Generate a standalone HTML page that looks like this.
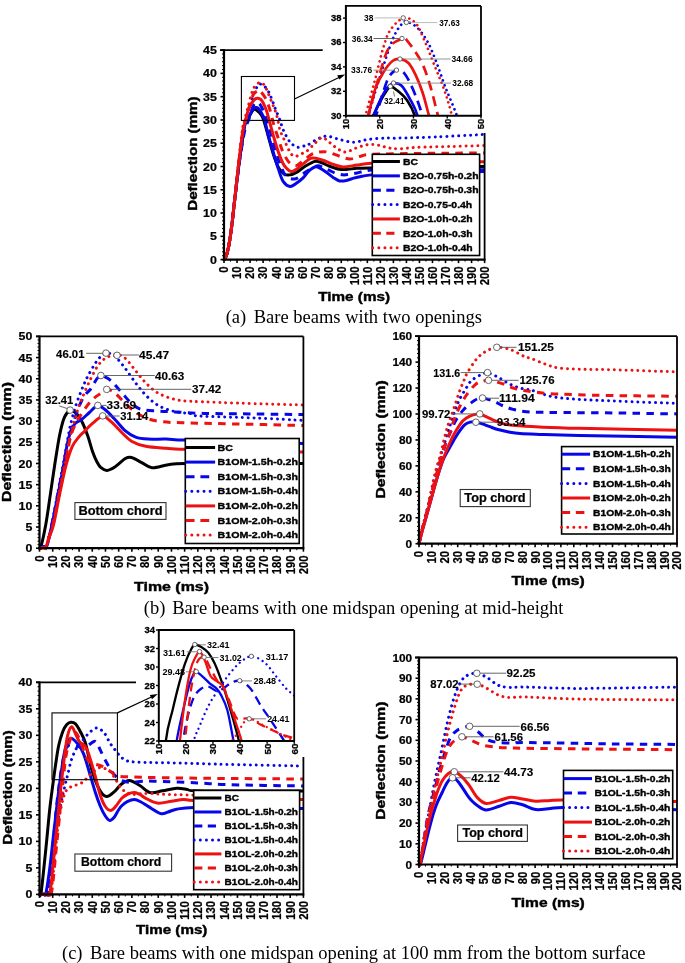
<!DOCTYPE html>
<html><head><meta charset="utf-8"><style>
html,body{margin:0;padding:0;background:#fff;}
svg{display:block;filter:blur(0.4px);}
</style></head><body>
<svg width="685" height="963" viewBox="0 0 685 963">
<rect width="685" height="963" fill="#fff"/>
<defs><clipPath id="cA"><rect x="345.9" y="5.9" width="135.1" height="109.8"/></clipPath><clipPath id="cC"><rect x="158.8" y="630" width="135.4" height="111"/></clipPath></defs>
<path d="M224,259.6 C224.36,259.02 225.42,257.97 226.14,256.11 C226.85,254.25 227.56,251.8 228.27,248.43 C228.99,245.05 229.7,240.75 230.41,235.86 C231.12,230.97 231.83,225.15 232.55,219.1 C233.27,213.04 233.97,206.06 234.71,199.54 C235.46,193.03 236.22,186.51 237.01,179.99 C237.8,173.47 238.6,166.61 239.43,160.44 C240.26,154.27 241.12,148.86 241.99,142.98 C242.87,137.1 243.78,129 244.71,125.16 C245.64,121.32 246.65,121.74 247.58,119.93 C248.52,118.13 249.41,116.01 250.32,114.35 C251.23,112.68 252.38,110.86 253.06,109.92 C253.73,108.99 253.66,108.6 254.36,108.71 C255.05,108.83 256.21,109.76 257.23,110.62 C258.25,111.48 259.42,112.33 260.48,113.88 C261.55,115.43 262.31,116.21 263.61,119.93 C264.91,123.66 266.65,130.41 268.3,136.23 C269.95,142.05 271.78,149.57 273.51,154.85 C275.25,160.13 276.99,164.7 278.73,167.89 C280.46,171.07 282.07,172.77 283.94,173.94 C285.81,175.1 287.76,175.18 289.93,174.87 C292.1,174.56 294.49,173.47 296.97,172.08 C299.44,170.68 301.79,168.27 304.79,166.49 C307.78,164.7 312.13,161.99 314.95,161.37 C317.77,160.75 319.38,161.99 321.73,162.76 C324.07,163.54 326.05,164.94 329.02,166.02 C332,167.11 336.45,168.74 339.58,169.28 C342.7,169.83 344.9,169.44 347.79,169.28 C350.67,169.13 353,168.58 356.91,168.35 C360.81,168.12 365.16,168.04 371.24,167.89 C377.32,167.73 383.18,167.58 393.39,167.42 C403.6,167.26 417.28,167.11 432.48,166.95 C447.68,166.8 475.91,166.57 484.6,166.49" fill="none" stroke="#000" stroke-width="3" stroke-linejoin="round"/>
<path d="M224,259.6 C224.36,259.02 225.42,257.97 226.14,256.11 C226.85,254.25 227.56,251.8 228.27,248.43 C228.99,245.05 229.7,240.75 230.41,235.86 C231.12,230.97 231.83,225.15 232.55,219.1 C233.27,213.04 233.97,206.06 234.71,199.54 C235.46,193.03 236.22,186.51 237.01,179.99 C237.8,173.47 238.6,166.61 239.43,160.44 C240.26,154.27 241.12,148.86 241.99,142.98 C242.87,137.1 243.78,129 244.71,125.16 C245.64,121.32 246.65,121.81 247.58,119.93 C248.52,118.05 249.41,115.67 250.32,113.88 C251.23,112.1 252.21,110.28 253.06,109.23 C253.9,108.17 254.49,107.67 255.4,107.55 C256.31,107.43 257.44,107.47 258.53,108.53 C259.62,109.58 260.9,111.98 261.92,113.88 C262.94,115.78 263.59,116.36 264.65,119.93 C265.72,123.5 266.87,129.94 268.3,135.3 C269.74,140.65 271.58,146.47 273.25,152.06 C274.93,157.64 276.68,163.93 278.34,168.82 C279.99,173.7 281.22,178.44 283.16,181.39 C285.09,184.34 287.85,186.12 289.93,186.51 C292.02,186.9 293.52,185.11 295.67,183.71 C297.81,182.32 300.66,180.22 302.83,178.13 C305,176.03 306.68,173.01 308.69,171.14 C310.71,169.28 312.99,167.42 314.95,166.95 C316.9,166.49 318.36,167.34 320.42,168.35 C322.49,169.36 325.16,171.45 327.33,173.01 C329.5,174.56 331.41,176.34 333.45,177.66 C335.49,178.98 337.4,180.46 339.58,180.92 C341.75,181.39 344.14,180.92 346.48,180.46 C348.83,179.99 351.04,178.83 353.65,178.13 C356.25,177.43 359.21,176.81 362.12,176.27 C365.03,175.72 365.9,175.33 371.11,174.87 C376.32,174.4 383.16,173.86 393.39,173.47 C403.62,173.08 417.28,172.85 432.48,172.54 C447.68,172.23 475.91,171.77 484.6,171.61" fill="none" stroke="#0606e8" stroke-width="3" stroke-linejoin="round"/>
<path d="M224,259.6 C224.36,259.02 225.42,257.97 226.14,256.11 C226.85,254.25 227.56,251.8 228.27,248.43 C228.99,245.05 229.7,240.75 230.41,235.86 C231.12,230.97 231.83,225.15 232.55,219.1 C233.27,213.04 233.97,206.06 234.73,199.54 C235.49,193.03 236.28,186.51 237.1,179.99 C237.92,173.47 238.77,166.61 239.66,160.44 C240.54,154.27 241.46,148.41 242.42,142.98 C243.38,137.55 244.37,131.69 245.4,127.85 C246.44,124.01 247.63,122.73 248.63,119.93 C249.62,117.14 250.52,113.57 251.36,111.09 C252.21,108.6 252.8,106.47 253.71,105.04 C254.62,103.6 255.81,102.63 256.84,102.47 C257.86,102.32 258.77,102.75 259.83,104.1 C260.9,105.46 262.09,107.98 263.22,110.62 C264.35,113.26 265.33,116.05 266.61,119.93 C267.89,123.81 269.32,128.47 270.91,133.9 C272.49,139.33 274.38,146.94 276.12,152.52 C277.86,158.11 279.59,163.39 281.33,167.42 C283.07,171.45 284.44,174.79 286.54,176.73 C288.65,178.67 291.8,179.06 293.97,179.06 C296.14,179.06 297.51,177.97 299.57,176.73 C301.64,175.49 303.48,173.39 306.35,171.61 C309.22,169.83 313.99,166.72 316.77,166.02 C319.55,165.33 320.99,166.72 323.03,167.42 C325.07,168.12 326.85,169.2 329.02,170.21 C331.19,171.22 333.71,172.7 336.06,173.47 C338.4,174.25 340.92,174.71 343.09,174.87 C345.27,175.02 346.76,174.71 349.09,174.4 C351.41,174.09 353.67,173.7 357.04,173.01 C360.4,172.31 363.23,170.76 369.28,170.21 C375.34,169.67 374.17,169.83 393.39,169.75 C412.61,169.67 469.4,169.75 484.6,169.75" fill="none" stroke="#0606e8" stroke-width="3" stroke-linejoin="round" stroke-dasharray="7.5 6.3"/>
<path d="M224,259.6 C224.36,259.02 225.42,257.97 226.14,256.11 C226.85,254.25 227.56,251.8 228.27,248.43 C228.99,245.05 229.7,240.75 230.41,235.86 C231.12,230.97 231.83,225.15 232.55,219.1 C233.26,213.04 233.97,206.06 234.69,199.54 C235.4,193.03 236.12,186.51 236.84,179.99 C237.56,173.47 238.29,166.61 239.01,160.44 C239.74,154.27 240.47,148.54 241.2,142.98 C241.93,137.41 242.67,130.88 243.41,127.04 C244.14,123.2 244.48,123.68 245.63,119.93 C246.78,116.19 248.74,109.46 250.32,104.57 C251.91,99.68 253.77,93.86 255.14,90.6 C256.51,87.34 257.64,86.1 258.53,85.02 C259.42,83.93 259.46,83.85 260.48,84.09 C261.5,84.32 263.29,85.09 264.65,86.41 C266.02,87.73 267.46,89.75 268.69,92 C269.93,94.25 270.95,97.04 272.08,99.91 C273.21,102.79 274.23,106.04 275.47,109.23 C276.71,112.41 278.23,115.59 279.51,119 C280.79,122.42 281.7,126.3 283.16,129.71 C284.61,133.12 286.85,137.16 288.24,139.49 C289.63,141.81 290.26,142.51 291.5,143.68 C292.73,144.84 294.36,145.85 295.67,146.47 C296.97,147.09 297.92,147.48 299.31,147.4 C300.7,147.32 302.55,146.43 304,146 C305.46,145.58 305.63,146.08 308.04,144.84 C310.45,143.6 315.25,139.99 318.47,138.56 C321.68,137.12 323.81,136.07 327.33,136.23 C330.85,136.38 335.19,138.48 339.58,139.49 C343.96,140.5 348.98,142.28 353.65,142.28 C358.32,142.28 362.36,140.19 367.59,139.49 C372.82,138.79 379.8,138.32 385.05,138.09 C390.31,137.86 390.63,138.28 399.12,138.09 C407.61,137.9 422.27,137.51 436,136.93 C449.72,136.34 473.37,135.03 481.47,134.6 C489.57,134.17 484.08,134.4 484.6,134.37" fill="none" stroke="#0606e8" stroke-width="3" stroke-linejoin="round" stroke-dasharray="0.01 5.85" stroke-linecap="round"/>
<path d="M224,259.6 C224.36,259.02 225.42,257.97 226.14,256.11 C226.85,254.25 227.56,251.8 228.27,248.43 C228.99,245.05 229.7,240.75 230.41,235.86 C231.12,230.97 231.83,225.15 232.55,219.1 C233.26,213.04 233.97,206.06 234.69,199.54 C235.4,193.03 236.12,186.51 236.84,179.99 C237.56,173.47 238.29,166.61 239.01,160.44 C239.74,154.27 240.47,148.38 241.2,142.98 C241.93,137.58 242.67,131.89 243.41,128.05 C244.14,124.21 244.8,122.99 245.63,119.93 C246.46,116.87 247.37,112.48 248.37,109.69 C249.37,106.9 250.49,104.96 251.62,103.17 C252.75,101.39 254.08,99.79 255.14,98.98 C256.21,98.18 256.99,98.18 258.01,98.33 C259.03,98.49 260.27,98.87 261.27,99.91 C262.26,100.95 263.11,102.71 264,104.57 C264.89,106.43 265.76,108.53 266.61,111.09 C267.46,113.65 267.98,115.9 269.08,119.93 C270.19,123.97 271.71,129.94 273.25,135.3 C274.8,140.65 276.68,147.32 278.34,152.06 C279.99,156.79 281.7,160.9 283.16,163.7 C284.61,166.49 285.74,167.5 287.07,168.82 C288.39,170.14 289.67,171.45 291.1,171.61 C292.54,171.77 293.71,170.99 295.67,169.75 C297.62,168.51 300.18,166.1 302.83,164.16 C305.48,162.22 308.37,158.81 311.56,158.11 C314.75,157.41 318.49,158.96 321.99,159.97 C325.48,160.98 329.02,163 332.54,164.16 C336.06,165.32 339.01,166.8 343.09,166.95 C347.18,167.11 352.37,165.71 357.04,165.09 C361.71,164.47 362.88,163.7 371.11,163.23 C379.34,162.76 387.5,162.53 406.42,162.3 C425.34,162.07 471.57,161.91 484.6,161.83" fill="none" stroke="#ee1111" stroke-width="3" stroke-linejoin="round"/>
<path d="M224,259.6 C224.36,259.02 225.42,257.97 226.14,256.11 C226.85,254.25 227.56,251.8 228.27,248.43 C228.99,245.05 229.7,240.75 230.41,235.86 C231.12,230.97 231.83,225.15 232.55,219.1 C233.26,213.04 233.97,206.06 234.69,199.54 C235.41,193.03 236.13,186.51 236.85,179.99 C237.58,173.47 238.31,166.61 239.04,160.44 C239.78,154.27 240.51,148.43 241.25,142.98 C242,137.52 242.74,131.55 243.49,127.71 C244.24,123.87 245.19,122.01 245.76,119.93 C246.33,117.86 246.17,118.07 246.93,115.28 C247.69,112.48 249.19,106.74 250.32,103.17 C251.45,99.6 252.28,95.98 253.71,93.86 C255.14,91.74 257.79,90.93 258.92,90.46 C260.05,90 259.31,89.65 260.48,91.07 C261.66,92.49 264.48,96.19 265.96,98.98 C267.43,101.78 268.32,104.65 269.34,107.83 C270.37,111.01 271.3,115.12 272.08,118.07 C272.86,121.02 272.99,122.11 274.04,125.52 C275.08,128.93 276.95,134.37 278.34,138.56 C279.72,142.75 280.72,146.86 282.37,150.66 C284.02,154.46 286.46,159.04 288.24,161.37 C290.02,163.7 291.52,164.01 293.06,164.63 C294.6,165.25 295.75,165.79 297.49,165.09 C299.23,164.39 301.14,162.22 303.48,160.44 C305.83,158.65 308.96,155.78 311.56,154.38 C314.17,152.99 316.49,152.44 319.12,152.06 C321.75,151.67 323.92,151.36 327.33,152.06 C330.74,152.75 335.8,155.08 339.58,156.25 C343.35,157.41 346.5,159.04 350,159.04 C353.5,159.04 357.04,157.02 360.55,156.25 C364.07,155.47 361.29,154.85 371.11,154.38 C380.92,153.92 400.53,153.69 419.45,153.45 C438.37,153.22 473.74,153.07 484.6,152.99" fill="none" stroke="#ee1111" stroke-width="3" stroke-linejoin="round" stroke-dasharray="7.5 6.3"/>
<path d="M224,259.6 C224.36,259.02 225.42,257.97 226.14,256.11 C226.85,254.25 227.56,251.8 228.27,248.43 C228.99,245.05 229.7,240.75 230.41,235.86 C231.12,230.97 231.84,225.15 232.55,219.1 C233.26,213.04 233.97,206.06 234.67,199.54 C235.38,193.03 236.07,186.51 236.75,179.99 C237.44,173.47 238.12,166.61 238.79,160.44 C239.46,154.27 240.12,148.45 240.78,142.98 C241.43,137.5 242.08,131.42 242.71,127.58 C243.35,123.74 243.71,123.3 244.59,119.93 C245.46,116.56 246.85,111.63 247.98,107.36 C249.1,103.1 250.34,97.66 251.36,94.33 C252.38,90.99 252.8,89.28 254.1,87.34 C255.4,85.4 257.55,83.15 259.18,82.69 C260.81,82.22 262.53,83.15 263.87,84.55 C265.22,85.95 266,88.28 267.26,91.07 C268.52,93.86 270.17,98.21 271.43,101.31 C272.69,104.41 273.8,106.82 274.82,109.69 C275.84,112.56 276.71,115.2 277.55,118.54 C278.4,121.87 278.81,126.22 279.9,129.71 C280.98,133.2 282.68,136.31 284.07,139.49 C285.46,142.67 287,146.31 288.24,148.8 C289.48,151.28 290.19,153.14 291.5,154.38 C292.8,155.63 294.28,156.4 296.06,156.25 C297.84,156.09 300.18,154.46 302.18,153.45 C304.18,152.44 305.92,151.9 308.04,150.19 C310.17,148.49 312.63,145.31 314.95,143.21 C317.27,141.12 319.77,137.93 321.99,137.62 C324.2,137.31 326.18,139.87 328.24,141.35 C330.3,142.82 331.61,144.69 334.36,146.47 C337.12,148.25 341.29,151.75 344.79,152.06 C348.28,152.37 351.54,149.57 355.34,148.33 C359.14,147.09 363.79,145.15 367.59,144.61 C371.39,144.06 374.65,144.53 378.14,145.07 C381.64,145.62 385.07,147.25 388.57,147.87 C392.07,148.49 394.39,148.88 399.12,148.8 C403.86,148.72 408.16,147.79 416.97,147.4 C425.79,147.01 440.75,146.78 452.03,146.47 C463.3,146.16 479.17,145.69 484.6,145.54" fill="none" stroke="#ee1111" stroke-width="3" stroke-linejoin="round" stroke-dasharray="0.01 5.85" stroke-linecap="round"/>
<line x1="220" y1="50.1" x2="322.7" y2="50.1" stroke="#000" stroke-width="1.8" />
<line x1="484.6" y1="133" x2="484.6" y2="260.5" stroke="#000" stroke-width="1.8" />
<line x1="224" y1="49.3" x2="224" y2="260.6" stroke="#000" stroke-width="2.2" />
<line x1="220.5" y1="259.6" x2="224" y2="259.6" stroke="#000" stroke-width="1.6" />
<text x="216.9" y="263.67" font-family="Liberation Sans" font-size="11.3" font-weight="bold" stroke="#000" stroke-width="0.22" stroke-linejoin="round" text-anchor="end" fill="#000" textLength="6.9" lengthAdjust="spacingAndGlyphs">0</text>
<line x1="220.5" y1="236.32" x2="224" y2="236.32" stroke="#000" stroke-width="1.6" />
<text x="216.9" y="240.39" font-family="Liberation Sans" font-size="11.3" font-weight="bold" stroke="#000" stroke-width="0.22" stroke-linejoin="round" text-anchor="end" fill="#000" textLength="6.9" lengthAdjust="spacingAndGlyphs">5</text>
<line x1="220.5" y1="213.04" x2="224" y2="213.04" stroke="#000" stroke-width="1.6" />
<text x="216.9" y="217.11" font-family="Liberation Sans" font-size="11.3" font-weight="bold" stroke="#000" stroke-width="0.22" stroke-linejoin="round" text-anchor="end" fill="#000" textLength="13.8" lengthAdjust="spacingAndGlyphs">10</text>
<line x1="220.5" y1="189.77" x2="224" y2="189.77" stroke="#000" stroke-width="1.6" />
<text x="216.9" y="193.83" font-family="Liberation Sans" font-size="11.3" font-weight="bold" stroke="#000" stroke-width="0.22" stroke-linejoin="round" text-anchor="end" fill="#000" textLength="13.8" lengthAdjust="spacingAndGlyphs">15</text>
<line x1="220.5" y1="166.49" x2="224" y2="166.49" stroke="#000" stroke-width="1.6" />
<text x="216.9" y="170.56" font-family="Liberation Sans" font-size="11.3" font-weight="bold" stroke="#000" stroke-width="0.22" stroke-linejoin="round" text-anchor="end" fill="#000" textLength="13.8" lengthAdjust="spacingAndGlyphs">20</text>
<line x1="220.5" y1="143.21" x2="224" y2="143.21" stroke="#000" stroke-width="1.6" />
<text x="216.9" y="147.28" font-family="Liberation Sans" font-size="11.3" font-weight="bold" stroke="#000" stroke-width="0.22" stroke-linejoin="round" text-anchor="end" fill="#000" textLength="13.8" lengthAdjust="spacingAndGlyphs">25</text>
<line x1="220.5" y1="119.93" x2="224" y2="119.93" stroke="#000" stroke-width="1.6" />
<text x="216.9" y="124" font-family="Liberation Sans" font-size="11.3" font-weight="bold" stroke="#000" stroke-width="0.22" stroke-linejoin="round" text-anchor="end" fill="#000" textLength="13.8" lengthAdjust="spacingAndGlyphs">30</text>
<line x1="220.5" y1="96.66" x2="224" y2="96.66" stroke="#000" stroke-width="1.6" />
<text x="216.9" y="100.72" font-family="Liberation Sans" font-size="11.3" font-weight="bold" stroke="#000" stroke-width="0.22" stroke-linejoin="round" text-anchor="end" fill="#000" textLength="13.8" lengthAdjust="spacingAndGlyphs">35</text>
<line x1="220.5" y1="73.38" x2="224" y2="73.38" stroke="#000" stroke-width="1.6" />
<text x="216.9" y="77.45" font-family="Liberation Sans" font-size="11.3" font-weight="bold" stroke="#000" stroke-width="0.22" stroke-linejoin="round" text-anchor="end" fill="#000" textLength="13.8" lengthAdjust="spacingAndGlyphs">40</text>
<line x1="220.5" y1="50.1" x2="224" y2="50.1" stroke="#000" stroke-width="1.6" />
<text x="216.9" y="54.17" font-family="Liberation Sans" font-size="11.3" font-weight="bold" stroke="#000" stroke-width="0.22" stroke-linejoin="round" text-anchor="end" fill="#000" textLength="13.8" lengthAdjust="spacingAndGlyphs">45</text>
<line x1="222" y1="255.72" x2="224" y2="255.72" stroke="#000" stroke-width="1" />
<line x1="222" y1="251.84" x2="224" y2="251.84" stroke="#000" stroke-width="1" />
<line x1="222" y1="247.96" x2="224" y2="247.96" stroke="#000" stroke-width="1" />
<line x1="222" y1="244.08" x2="224" y2="244.08" stroke="#000" stroke-width="1" />
<line x1="222" y1="240.2" x2="224" y2="240.2" stroke="#000" stroke-width="1" />
<line x1="222" y1="232.44" x2="224" y2="232.44" stroke="#000" stroke-width="1" />
<line x1="222" y1="228.56" x2="224" y2="228.56" stroke="#000" stroke-width="1" />
<line x1="222" y1="224.68" x2="224" y2="224.68" stroke="#000" stroke-width="1" />
<line x1="222" y1="220.8" x2="224" y2="220.8" stroke="#000" stroke-width="1" />
<line x1="222" y1="216.92" x2="224" y2="216.92" stroke="#000" stroke-width="1" />
<line x1="222" y1="209.16" x2="224" y2="209.16" stroke="#000" stroke-width="1" />
<line x1="222" y1="205.29" x2="224" y2="205.29" stroke="#000" stroke-width="1" />
<line x1="222" y1="201.41" x2="224" y2="201.41" stroke="#000" stroke-width="1" />
<line x1="222" y1="197.53" x2="224" y2="197.53" stroke="#000" stroke-width="1" />
<line x1="222" y1="193.65" x2="224" y2="193.65" stroke="#000" stroke-width="1" />
<line x1="222" y1="185.89" x2="224" y2="185.89" stroke="#000" stroke-width="1" />
<line x1="222" y1="182.01" x2="224" y2="182.01" stroke="#000" stroke-width="1" />
<line x1="222" y1="178.13" x2="224" y2="178.13" stroke="#000" stroke-width="1" />
<line x1="222" y1="174.25" x2="224" y2="174.25" stroke="#000" stroke-width="1" />
<line x1="222" y1="170.37" x2="224" y2="170.37" stroke="#000" stroke-width="1" />
<line x1="222" y1="162.61" x2="224" y2="162.61" stroke="#000" stroke-width="1" />
<line x1="222" y1="158.73" x2="224" y2="158.73" stroke="#000" stroke-width="1" />
<line x1="222" y1="154.85" x2="224" y2="154.85" stroke="#000" stroke-width="1" />
<line x1="222" y1="150.97" x2="224" y2="150.97" stroke="#000" stroke-width="1" />
<line x1="222" y1="147.09" x2="224" y2="147.09" stroke="#000" stroke-width="1" />
<line x1="222" y1="139.33" x2="224" y2="139.33" stroke="#000" stroke-width="1" />
<line x1="222" y1="135.45" x2="224" y2="135.45" stroke="#000" stroke-width="1" />
<line x1="222" y1="131.57" x2="224" y2="131.57" stroke="#000" stroke-width="1" />
<line x1="222" y1="127.69" x2="224" y2="127.69" stroke="#000" stroke-width="1" />
<line x1="222" y1="123.81" x2="224" y2="123.81" stroke="#000" stroke-width="1" />
<line x1="222" y1="116.05" x2="224" y2="116.05" stroke="#000" stroke-width="1" />
<line x1="222" y1="112.17" x2="224" y2="112.17" stroke="#000" stroke-width="1" />
<line x1="222" y1="108.29" x2="224" y2="108.29" stroke="#000" stroke-width="1" />
<line x1="222" y1="104.41" x2="224" y2="104.41" stroke="#000" stroke-width="1" />
<line x1="222" y1="100.54" x2="224" y2="100.54" stroke="#000" stroke-width="1" />
<line x1="222" y1="92.78" x2="224" y2="92.78" stroke="#000" stroke-width="1" />
<line x1="222" y1="88.9" x2="224" y2="88.9" stroke="#000" stroke-width="1" />
<line x1="222" y1="85.02" x2="224" y2="85.02" stroke="#000" stroke-width="1" />
<line x1="222" y1="81.14" x2="224" y2="81.14" stroke="#000" stroke-width="1" />
<line x1="222" y1="77.26" x2="224" y2="77.26" stroke="#000" stroke-width="1" />
<line x1="222" y1="69.5" x2="224" y2="69.5" stroke="#000" stroke-width="1" />
<line x1="222" y1="65.62" x2="224" y2="65.62" stroke="#000" stroke-width="1" />
<line x1="222" y1="61.74" x2="224" y2="61.74" stroke="#000" stroke-width="1" />
<line x1="222" y1="57.86" x2="224" y2="57.86" stroke="#000" stroke-width="1" />
<line x1="222" y1="53.98" x2="224" y2="53.98" stroke="#000" stroke-width="1" />
<line x1="223" y1="259.6" x2="485.4" y2="259.6" stroke="#000" stroke-width="2.2" />
<line x1="224" y1="259.6" x2="224" y2="263.1" stroke="#000" stroke-width="1.6" />
<text transform="translate(228.4 266.6) rotate(-90)" font-family="Liberation Sans" font-size="12.5" font-weight="bold" stroke="#000" stroke-width="0.22" stroke-linejoin="round" text-anchor="end" fill="#000" textLength="6.25" lengthAdjust="spacingAndGlyphs">0</text>
<line x1="237.03" y1="259.6" x2="237.03" y2="263.1" stroke="#000" stroke-width="1.6" />
<text transform="translate(241.43 266.6) rotate(-90)" font-family="Liberation Sans" font-size="12.5" font-weight="bold" stroke="#000" stroke-width="0.22" stroke-linejoin="round" text-anchor="end" fill="#000" textLength="12.5" lengthAdjust="spacingAndGlyphs">10</text>
<line x1="250.06" y1="259.6" x2="250.06" y2="263.1" stroke="#000" stroke-width="1.6" />
<text transform="translate(254.46 266.6) rotate(-90)" font-family="Liberation Sans" font-size="12.5" font-weight="bold" stroke="#000" stroke-width="0.22" stroke-linejoin="round" text-anchor="end" fill="#000" textLength="12.5" lengthAdjust="spacingAndGlyphs">20</text>
<line x1="263.09" y1="259.6" x2="263.09" y2="263.1" stroke="#000" stroke-width="1.6" />
<text transform="translate(267.49 266.6) rotate(-90)" font-family="Liberation Sans" font-size="12.5" font-weight="bold" stroke="#000" stroke-width="0.22" stroke-linejoin="round" text-anchor="end" fill="#000" textLength="12.5" lengthAdjust="spacingAndGlyphs">30</text>
<line x1="276.12" y1="259.6" x2="276.12" y2="263.1" stroke="#000" stroke-width="1.6" />
<text transform="translate(280.52 266.6) rotate(-90)" font-family="Liberation Sans" font-size="12.5" font-weight="bold" stroke="#000" stroke-width="0.22" stroke-linejoin="round" text-anchor="end" fill="#000" textLength="12.5" lengthAdjust="spacingAndGlyphs">40</text>
<line x1="289.15" y1="259.6" x2="289.15" y2="263.1" stroke="#000" stroke-width="1.6" />
<text transform="translate(293.55 266.6) rotate(-90)" font-family="Liberation Sans" font-size="12.5" font-weight="bold" stroke="#000" stroke-width="0.22" stroke-linejoin="round" text-anchor="end" fill="#000" textLength="12.5" lengthAdjust="spacingAndGlyphs">50</text>
<line x1="302.18" y1="259.6" x2="302.18" y2="263.1" stroke="#000" stroke-width="1.6" />
<text transform="translate(306.58 266.6) rotate(-90)" font-family="Liberation Sans" font-size="12.5" font-weight="bold" stroke="#000" stroke-width="0.22" stroke-linejoin="round" text-anchor="end" fill="#000" textLength="12.5" lengthAdjust="spacingAndGlyphs">60</text>
<line x1="315.21" y1="259.6" x2="315.21" y2="263.1" stroke="#000" stroke-width="1.6" />
<text transform="translate(319.61 266.6) rotate(-90)" font-family="Liberation Sans" font-size="12.5" font-weight="bold" stroke="#000" stroke-width="0.22" stroke-linejoin="round" text-anchor="end" fill="#000" textLength="12.5" lengthAdjust="spacingAndGlyphs">70</text>
<line x1="328.24" y1="259.6" x2="328.24" y2="263.1" stroke="#000" stroke-width="1.6" />
<text transform="translate(332.64 266.6) rotate(-90)" font-family="Liberation Sans" font-size="12.5" font-weight="bold" stroke="#000" stroke-width="0.22" stroke-linejoin="round" text-anchor="end" fill="#000" textLength="12.5" lengthAdjust="spacingAndGlyphs">80</text>
<line x1="341.27" y1="259.6" x2="341.27" y2="263.1" stroke="#000" stroke-width="1.6" />
<text transform="translate(345.67 266.6) rotate(-90)" font-family="Liberation Sans" font-size="12.5" font-weight="bold" stroke="#000" stroke-width="0.22" stroke-linejoin="round" text-anchor="end" fill="#000" textLength="12.5" lengthAdjust="spacingAndGlyphs">90</text>
<line x1="354.3" y1="259.6" x2="354.3" y2="263.1" stroke="#000" stroke-width="1.6" />
<text transform="translate(358.7 266.6) rotate(-90)" font-family="Liberation Sans" font-size="12.5" font-weight="bold" stroke="#000" stroke-width="0.22" stroke-linejoin="round" text-anchor="end" fill="#000" textLength="18.75" lengthAdjust="spacingAndGlyphs">100</text>
<line x1="367.33" y1="259.6" x2="367.33" y2="263.1" stroke="#000" stroke-width="1.6" />
<text transform="translate(371.73 266.6) rotate(-90)" font-family="Liberation Sans" font-size="12.5" font-weight="bold" stroke="#000" stroke-width="0.22" stroke-linejoin="round" text-anchor="end" fill="#000" textLength="18.75" lengthAdjust="spacingAndGlyphs">110</text>
<line x1="380.36" y1="259.6" x2="380.36" y2="263.1" stroke="#000" stroke-width="1.6" />
<text transform="translate(384.76 266.6) rotate(-90)" font-family="Liberation Sans" font-size="12.5" font-weight="bold" stroke="#000" stroke-width="0.22" stroke-linejoin="round" text-anchor="end" fill="#000" textLength="18.75" lengthAdjust="spacingAndGlyphs">120</text>
<line x1="393.39" y1="259.6" x2="393.39" y2="263.1" stroke="#000" stroke-width="1.6" />
<text transform="translate(397.79 266.6) rotate(-90)" font-family="Liberation Sans" font-size="12.5" font-weight="bold" stroke="#000" stroke-width="0.22" stroke-linejoin="round" text-anchor="end" fill="#000" textLength="18.75" lengthAdjust="spacingAndGlyphs">130</text>
<line x1="406.42" y1="259.6" x2="406.42" y2="263.1" stroke="#000" stroke-width="1.6" />
<text transform="translate(410.82 266.6) rotate(-90)" font-family="Liberation Sans" font-size="12.5" font-weight="bold" stroke="#000" stroke-width="0.22" stroke-linejoin="round" text-anchor="end" fill="#000" textLength="18.75" lengthAdjust="spacingAndGlyphs">140</text>
<line x1="419.45" y1="259.6" x2="419.45" y2="263.1" stroke="#000" stroke-width="1.6" />
<text transform="translate(423.85 266.6) rotate(-90)" font-family="Liberation Sans" font-size="12.5" font-weight="bold" stroke="#000" stroke-width="0.22" stroke-linejoin="round" text-anchor="end" fill="#000" textLength="18.75" lengthAdjust="spacingAndGlyphs">150</text>
<line x1="432.48" y1="259.6" x2="432.48" y2="263.1" stroke="#000" stroke-width="1.6" />
<text transform="translate(436.88 266.6) rotate(-90)" font-family="Liberation Sans" font-size="12.5" font-weight="bold" stroke="#000" stroke-width="0.22" stroke-linejoin="round" text-anchor="end" fill="#000" textLength="18.75" lengthAdjust="spacingAndGlyphs">160</text>
<line x1="445.51" y1="259.6" x2="445.51" y2="263.1" stroke="#000" stroke-width="1.6" />
<text transform="translate(449.91 266.6) rotate(-90)" font-family="Liberation Sans" font-size="12.5" font-weight="bold" stroke="#000" stroke-width="0.22" stroke-linejoin="round" text-anchor="end" fill="#000" textLength="18.75" lengthAdjust="spacingAndGlyphs">170</text>
<line x1="458.54" y1="259.6" x2="458.54" y2="263.1" stroke="#000" stroke-width="1.6" />
<text transform="translate(462.94 266.6) rotate(-90)" font-family="Liberation Sans" font-size="12.5" font-weight="bold" stroke="#000" stroke-width="0.22" stroke-linejoin="round" text-anchor="end" fill="#000" textLength="18.75" lengthAdjust="spacingAndGlyphs">180</text>
<line x1="471.57" y1="259.6" x2="471.57" y2="263.1" stroke="#000" stroke-width="1.6" />
<text transform="translate(475.97 266.6) rotate(-90)" font-family="Liberation Sans" font-size="12.5" font-weight="bold" stroke="#000" stroke-width="0.22" stroke-linejoin="round" text-anchor="end" fill="#000" textLength="18.75" lengthAdjust="spacingAndGlyphs">190</text>
<line x1="484.6" y1="259.6" x2="484.6" y2="263.1" stroke="#000" stroke-width="1.6" />
<text transform="translate(489 266.6) rotate(-90)" font-family="Liberation Sans" font-size="12.5" font-weight="bold" stroke="#000" stroke-width="0.22" stroke-linejoin="round" text-anchor="end" fill="#000" textLength="18.75" lengthAdjust="spacingAndGlyphs">200</text>
<line x1="230.51" y1="259.6" x2="230.51" y2="261.6" stroke="#000" stroke-width="1" />
<line x1="243.55" y1="259.6" x2="243.55" y2="261.6" stroke="#000" stroke-width="1" />
<line x1="256.57" y1="259.6" x2="256.57" y2="261.6" stroke="#000" stroke-width="1" />
<line x1="269.61" y1="259.6" x2="269.61" y2="261.6" stroke="#000" stroke-width="1" />
<line x1="282.63" y1="259.6" x2="282.63" y2="261.6" stroke="#000" stroke-width="1" />
<line x1="295.67" y1="259.6" x2="295.67" y2="261.6" stroke="#000" stroke-width="1" />
<line x1="308.69" y1="259.6" x2="308.69" y2="261.6" stroke="#000" stroke-width="1" />
<line x1="321.73" y1="259.6" x2="321.73" y2="261.6" stroke="#000" stroke-width="1" />
<line x1="334.75" y1="259.6" x2="334.75" y2="261.6" stroke="#000" stroke-width="1" />
<line x1="347.79" y1="259.6" x2="347.79" y2="261.6" stroke="#000" stroke-width="1" />
<line x1="360.82" y1="259.6" x2="360.82" y2="261.6" stroke="#000" stroke-width="1" />
<line x1="373.85" y1="259.6" x2="373.85" y2="261.6" stroke="#000" stroke-width="1" />
<line x1="386.88" y1="259.6" x2="386.88" y2="261.6" stroke="#000" stroke-width="1" />
<line x1="399.9" y1="259.6" x2="399.9" y2="261.6" stroke="#000" stroke-width="1" />
<line x1="412.94" y1="259.6" x2="412.94" y2="261.6" stroke="#000" stroke-width="1" />
<line x1="425.97" y1="259.6" x2="425.97" y2="261.6" stroke="#000" stroke-width="1" />
<line x1="439" y1="259.6" x2="439" y2="261.6" stroke="#000" stroke-width="1" />
<line x1="452.03" y1="259.6" x2="452.03" y2="261.6" stroke="#000" stroke-width="1" />
<line x1="465.06" y1="259.6" x2="465.06" y2="261.6" stroke="#000" stroke-width="1" />
<line x1="478.09" y1="259.6" x2="478.09" y2="261.6" stroke="#000" stroke-width="1" />
<text transform="translate(196.8 153.6) rotate(-90)" font-family="Liberation Sans" font-size="12.4" font-weight="bold" stroke="#000" stroke-width="0.4" stroke-linejoin="round" text-anchor="middle" fill="#000" textLength="114.4" lengthAdjust="spacingAndGlyphs">Deflection (mm)</text>
<text x="318.3" y="300.5" font-family="Liberation Sans" font-size="12.6" font-weight="bold" stroke="#000" stroke-width="0.4" stroke-linejoin="round" text-anchor="start" fill="#000" textLength="71.7" lengthAdjust="spacingAndGlyphs">Time (ms)</text>
<rect x="241.4" y="76.5" width="53.1" height="43.9" stroke="#000" stroke-width="1.1" fill="none" />
<rect x="372.3" y="154.3" width="107.3" height="101.2" stroke="#000" stroke-width="1.6" fill="#fff" />
<path d="M372.7,161.5 L399.9,161.5" fill="none" stroke="#000" stroke-width="3" stroke-linejoin="round"/>
<text x="402.9" y="164.67" font-family="Liberation Sans" font-size="8.8" font-weight="bold" stroke="#000" stroke-width="0.35" stroke-linejoin="round" text-anchor="start" fill="#000" textLength="15" lengthAdjust="spacingAndGlyphs">BC</text>
<path d="M372.7,175.87 L399.9,175.87" fill="none" stroke="#0606e8" stroke-width="3" stroke-linejoin="round"/>
<text x="402.9" y="179.04" font-family="Liberation Sans" font-size="8.8" font-weight="bold" stroke="#000" stroke-width="0.35" stroke-linejoin="round" text-anchor="start" fill="#000" textLength="75.6" lengthAdjust="spacingAndGlyphs">B2O-0.75h-0.2h</text>
<path d="M372.7,190.24 h8.16 M386.3,190.24 h8.16" stroke="#0606e8" stroke-width="3" fill="none"/>
<text x="402.9" y="193.41" font-family="Liberation Sans" font-size="8.8" font-weight="bold" stroke="#000" stroke-width="0.35" stroke-linejoin="round" text-anchor="start" fill="#000" textLength="75.6" lengthAdjust="spacingAndGlyphs">B2O-0.75h-0.3h</text>
<path d="M372.7,204.61 L399.9,204.61" fill="none" stroke="#0606e8" stroke-width="3" stroke-linejoin="round" stroke-dasharray="0.01 6.1" stroke-linecap="round"/>
<text x="402.9" y="207.78" font-family="Liberation Sans" font-size="8.8" font-weight="bold" stroke="#000" stroke-width="0.35" stroke-linejoin="round" text-anchor="start" fill="#000" textLength="69.26" lengthAdjust="spacingAndGlyphs">B2O-0.75-0.4h</text>
<path d="M372.7,218.98 L399.9,218.98" fill="none" stroke="#ee1111" stroke-width="3" stroke-linejoin="round"/>
<text x="402.9" y="222.15" font-family="Liberation Sans" font-size="8.8" font-weight="bold" stroke="#000" stroke-width="0.35" stroke-linejoin="round" text-anchor="start" fill="#000" textLength="69.82" lengthAdjust="spacingAndGlyphs">B2O-1.0h-0.2h</text>
<path d="M372.7,233.35 h8.16 M386.3,233.35 h8.16" stroke="#ee1111" stroke-width="3" fill="none"/>
<text x="402.9" y="236.52" font-family="Liberation Sans" font-size="8.8" font-weight="bold" stroke="#000" stroke-width="0.35" stroke-linejoin="round" text-anchor="start" fill="#000" textLength="69.82" lengthAdjust="spacingAndGlyphs">B2O-1.0h-0.3h</text>
<path d="M372.7,247.72 L399.9,247.72" fill="none" stroke="#ee1111" stroke-width="3" stroke-linejoin="round" stroke-dasharray="0.01 6.1" stroke-linecap="round"/>
<text x="402.9" y="250.89" font-family="Liberation Sans" font-size="8.8" font-weight="bold" stroke="#000" stroke-width="0.35" stroke-linejoin="round" text-anchor="start" fill="#000" textLength="69.82" lengthAdjust="spacingAndGlyphs">B2O-1.0h-0.4h</text>
<rect x="323" y="0" width="167" height="132.5" fill="#fff"/>
<path d="M312.12,481.7 C313.05,480.18 315.82,477.43 317.66,472.55 C319.51,467.67 321.36,461.27 323.2,452.42 C325.05,443.57 326.9,432.29 328.74,419.48 C330.59,406.67 332.42,391.42 334.28,375.56 C336.14,359.7 337.97,341.4 339.9,324.32 C341.83,307.24 343.81,290.16 345.85,273.08 C347.89,256 349.98,238.01 352.13,221.84 C354.28,205.68 356.49,191.5 358.77,176.09 C361.05,160.68 363.39,139.46 365.8,129.39 C368.22,119.33 370.83,120.42 373.26,115.7 C375.68,110.98 377.99,105.43 380.35,101.06 C382.71,96.69 385.7,91.93 387.44,89.47 C389.19,87.01 389.02,85.99 390.82,86.3 C392.62,86.6 395.61,89.04 398.25,91.3 C400.9,93.56 403.94,95.77 406.69,99.84 C409.45,103.91 411.42,105.94 414.8,115.7 C418.18,125.46 422.68,143.15 426.96,158.4 C431.24,173.65 435.97,193.37 440.47,207.2 C444.97,221.03 449.48,233.02 453.98,241.36 C458.48,249.7 462.65,254.17 467.49,257.22 C472.33,260.27 477.4,260.47 483.03,259.66 C488.66,258.85 494.85,256 501.26,252.34 C507.68,248.68 513.76,242.38 521.53,237.7 C529.3,233.02 540.56,225.91 547.87,224.28 C555.19,222.65 559.36,225.91 565.44,227.94 C571.52,229.97 576.64,233.63 584.35,236.48 C592.06,239.33 603.6,243.6 611.71,245.02 C619.82,246.44 625.5,245.43 632.99,245.02 C640.47,244.61 646.5,243.19 656.63,242.58 C666.76,241.97 678.02,241.77 693.78,241.36 C709.54,240.95 724.74,240.55 751.2,240.14 C777.66,239.73 813.12,239.33 852.53,238.92 C891.93,238.51 965.11,237.9 987.63,237.7" fill="none" stroke="#000" stroke-width="2.7" stroke-linejoin="round" clip-path="url(#cA)"/>
<path d="M312.12,481.7 C313.05,480.18 315.82,477.43 317.66,472.55 C319.51,467.67 321.36,461.27 323.2,452.42 C325.05,443.57 326.9,432.29 328.74,419.48 C330.59,406.67 332.42,391.42 334.28,375.56 C336.14,359.7 337.97,341.4 339.9,324.32 C341.83,307.24 343.81,290.16 345.85,273.08 C347.89,256 349.98,238.01 352.13,221.84 C354.28,205.68 356.49,191.5 358.77,176.09 C361.05,160.68 363.39,139.46 365.8,129.39 C368.22,119.33 370.83,120.63 373.26,115.7 C375.68,110.77 377.99,104.52 380.35,99.84 C382.71,95.16 385.25,90.41 387.44,87.64 C389.64,84.87 391.16,83.55 393.52,83.25 C395.89,82.94 398.81,83.04 401.63,85.81 C404.44,88.58 407.76,94.86 410.41,99.84 C413.06,104.82 414.74,106.35 417.5,115.7 C420.26,125.05 423.24,141.93 426.96,155.96 C430.68,169.99 435.46,185.24 439.79,199.88 C444.13,214.52 448.69,230.99 452.97,243.8 C457.24,256.61 460.45,269.01 465.46,276.74 C470.47,284.47 477.62,289.14 483.03,290.16 C488.43,291.18 492.31,286.5 497.89,282.84 C503.46,279.18 510.83,273.69 516.46,268.2 C522.09,262.71 526.43,254.78 531.66,249.9 C536.9,245.02 542.81,240.14 547.87,238.92 C552.94,237.7 556.71,239.94 562.06,242.58 C567.41,245.22 574.33,250.71 579.96,254.78 C585.59,258.85 590.54,263.52 595.84,266.98 C601.13,270.44 606.08,274.3 611.71,275.52 C617.34,276.74 623.53,275.52 629.61,274.3 C635.69,273.08 641.43,270.03 648.19,268.2 C654.94,266.37 662.6,264.74 670.14,263.32 C677.68,261.9 679.93,260.88 693.44,259.66 C706.95,258.44 724.69,257.02 751.2,256 C777.71,254.98 813.12,254.37 852.53,253.56 C891.93,252.75 965.11,251.53 987.63,251.12" fill="none" stroke="#0606e8" stroke-width="2.7" stroke-linejoin="round" clip-path="url(#cA)"/>
<path d="M312.12,481.7 C313.05,480.18 315.82,477.43 317.66,472.55 C319.51,467.67 321.36,461.27 323.2,452.42 C325.05,443.57 326.9,432.29 328.74,419.48 C330.59,406.67 332.42,391.42 334.28,375.56 C336.15,359.7 337.97,341.4 339.94,324.32 C341.9,307.24 343.95,290.16 346.08,273.08 C348.21,256 350.41,238.01 352.71,221.84 C355.01,205.68 357.39,190.32 359.87,176.09 C362.35,161.86 364.92,146.52 367.6,136.45 C370.28,126.39 373.38,123.02 375.96,115.7 C378.54,108.38 380.86,99.03 383.05,92.52 C385.25,86.01 386.77,80.42 389.13,76.66 C391.5,72.9 394.59,70.36 397.24,69.95 C399.88,69.54 402.25,70.66 405.01,74.22 C407.76,77.78 410.86,84.39 413.79,91.3 C416.71,98.21 419.25,105.53 422.57,115.7 C425.89,125.87 429.61,138.07 433.71,152.3 C437.82,166.53 442.72,186.46 447.23,201.1 C451.73,215.74 456.23,229.57 460.74,240.14 C465.24,250.71 468.78,259.46 474.25,264.54 C479.71,269.62 487.87,270.64 493.5,270.64 C499.13,270.64 502.67,267.79 508.02,264.54 C513.37,261.29 518.15,255.8 525.58,251.12 C533.01,246.44 545.4,238.31 552.6,236.48 C559.81,234.65 563.52,238.31 568.82,240.14 C574.11,241.97 578.72,244.82 584.35,247.46 C589.98,250.1 596.51,253.97 602.59,256 C608.67,258.03 615.2,259.25 620.83,259.66 C626.46,260.07 630.34,259.25 636.37,258.44 C642.39,257.63 648.24,256.61 656.97,254.78 C665.69,252.95 673.01,248.88 688.72,247.46 C704.42,246.04 701.38,246.44 751.2,246.24 C801.02,246.04 948.22,246.24 987.63,246.24" fill="none" stroke="#0606e8" stroke-width="2.7" stroke-linejoin="round" stroke-dasharray="10 6" clip-path="url(#cA)"/>
<path d="M312.12,481.7 C313.05,480.18 315.82,477.43 317.66,472.55 C319.51,467.67 321.36,461.27 323.2,452.42 C325.05,443.57 326.9,432.29 328.74,419.48 C330.59,406.67 332.43,391.42 334.28,375.56 C336.13,359.7 337.97,341.4 339.83,324.32 C341.69,307.24 343.55,290.16 345.42,273.08 C347.29,256 349.16,238.01 351.04,221.84 C352.93,205.68 354.81,190.67 356.71,176.09 C358.61,161.51 360.51,144.4 362.43,134.33 C364.34,124.27 365.2,125.52 368.19,115.7 C371.18,105.88 376.24,88.25 380.35,75.44 C384.46,62.63 389.3,47.38 392.85,38.84 C396.39,30.3 399.32,27.05 401.63,24.2 C403.94,21.35 404.05,21.15 406.69,21.76 C409.34,22.37 413.96,24.4 417.5,27.86 C421.05,31.32 424.76,36.6 427.97,42.5 C431.18,48.4 433.83,55.72 436.75,63.24 C439.68,70.76 442.33,79.3 445.54,87.64 C448.74,95.98 452.69,104.31 456.01,113.26 C459.33,122.21 461.69,132.37 465.46,141.32 C469.24,150.27 475.03,160.84 478.64,166.94 C482.24,173.04 483.87,174.87 487.08,177.92 C490.29,180.97 494.51,183.61 497.89,185.24 C501.26,186.87 503.74,187.88 507.34,187.68 C510.95,187.48 515.73,185.14 519.5,184.02 C523.28,182.9 523.73,184.22 529.97,180.97 C536.22,177.72 548.66,168.26 556.99,164.5 C565.32,160.74 570.84,157.99 579.96,158.4 C589.08,158.81 600.34,164.3 611.71,166.94 C623.08,169.58 636.08,174.26 648.19,174.26 C660.29,174.26 670.76,168.77 684.33,166.94 C697.89,165.11 715.96,163.89 729.58,163.28 C743.21,162.67 744.05,163.79 766.06,163.28 C788.07,162.77 826.07,161.75 861.64,160.23 C897.22,158.7 958.52,155.25 979.52,154.13 C1000.52,153.01 986.27,153.62 987.63,153.52" fill="none" stroke="#0606e8" stroke-width="2.7" stroke-linejoin="round" stroke-dasharray="0.01 5.2" stroke-linecap="round" clip-path="url(#cA)"/>
<path d="M312.12,481.7 C313.05,480.18 315.82,477.43 317.66,472.55 C319.51,467.67 321.36,461.27 323.2,452.42 C325.05,443.57 326.9,432.29 328.74,419.48 C330.59,406.67 332.43,391.42 334.28,375.56 C336.13,359.7 337.97,341.4 339.83,324.32 C341.69,307.24 343.55,290.16 345.42,273.08 C347.29,256 349.16,238.01 351.04,221.84 C352.93,205.68 354.81,190.24 356.71,176.09 C358.61,161.94 360.51,147.03 362.43,136.96 C364.34,126.9 366.05,123.72 368.19,115.7 C370.33,107.68 372.69,96.18 375.28,88.86 C377.87,81.54 380.8,76.46 383.73,71.78 C386.66,67.1 390.09,62.91 392.85,60.8 C395.61,58.69 397.63,58.69 400.28,59.09 C402.92,59.5 406.13,60.52 408.72,63.24 C411.31,65.96 413.51,70.56 415.81,75.44 C418.12,80.32 420.37,85.81 422.57,92.52 C424.76,99.23 426.12,105.13 428.99,115.7 C431.86,126.27 435.8,141.93 439.79,155.96 C443.79,169.99 448.69,187.48 452.97,199.88 C457.24,212.28 461.69,223.06 465.46,230.38 C469.24,237.7 472.16,240.34 475.6,243.8 C479.03,247.26 482.35,250.71 486.07,251.12 C489.78,251.53 492.82,249.49 497.89,246.24 C502.95,242.99 509.6,236.68 516.46,231.6 C523.33,226.52 530.82,217.57 539.09,215.74 C547.37,213.91 557.05,217.98 566.11,220.62 C575.18,223.26 584.35,228.55 593.47,231.6 C602.59,234.65 610.25,238.51 620.83,238.92 C631.41,239.33 644.87,235.67 656.97,234.04 C669.07,232.41 672.11,230.38 693.44,229.16 C714.78,227.94 735.94,227.33 784.98,226.72 C834.01,226.11 953.85,225.7 987.63,225.5" fill="none" stroke="#ee1111" stroke-width="2.7" stroke-linejoin="round" clip-path="url(#cA)"/>
<path d="M312.12,481.7 C313.05,480.18 315.82,477.43 317.66,472.55 C319.51,467.67 321.36,461.27 323.2,452.42 C325.05,443.57 326.9,432.29 328.74,419.48 C330.59,406.67 332.43,391.42 334.28,375.56 C336.13,359.7 337.97,341.4 339.83,324.32 C341.7,307.24 343.57,290.16 345.45,273.08 C347.33,256 349.22,238.01 351.12,221.84 C353.02,205.68 354.93,190.38 356.85,176.09 C358.77,161.8 360.71,146.14 362.65,136.07 C364.6,126.01 367.04,121.13 368.53,115.7 C370.02,110.27 369.6,110.82 371.57,103.5 C373.54,96.18 377.42,81.13 380.35,71.78 C383.28,62.43 385.42,52.93 389.13,47.38 C392.85,41.83 399.71,39.69 402.64,38.47 C405.57,37.25 403.66,36.34 406.69,40.06 C409.73,43.78 417.05,53.48 420.88,60.8 C424.71,68.12 427.02,75.64 429.66,83.98 C432.31,92.32 434.73,103.09 436.75,110.82 C438.78,118.55 439.12,121.39 441.82,130.34 C444.52,139.29 449.36,153.52 452.97,164.5 C456.57,175.48 459.16,186.26 463.44,196.22 C467.72,206.18 474.02,218.18 478.64,224.28 C483.25,230.38 487.14,231.19 491.13,232.82 C495.13,234.45 498.11,235.87 502.62,234.04 C507.12,232.21 512.07,226.52 518.15,221.84 C524.23,217.16 532.34,209.64 539.09,205.98 C545.85,202.32 551.87,200.9 558.68,199.88 C565.49,198.86 571.12,198.05 579.96,199.88 C588.8,201.71 601.91,207.81 611.71,210.86 C621.5,213.91 629.67,218.18 638.73,218.18 C647.79,218.18 656.97,212.89 666.09,210.86 C675.21,208.83 668,207.2 693.44,205.98 C718.89,204.76 769.72,204.15 818.75,203.54 C867.78,202.93 959.48,202.52 987.63,202.32" fill="none" stroke="#ee1111" stroke-width="2.7" stroke-linejoin="round" stroke-dasharray="10 6" clip-path="url(#cA)"/>
<path d="M312.12,481.7 C313.05,480.18 315.82,477.43 317.66,472.55 C319.51,467.67 321.36,461.27 323.2,452.42 C325.05,443.57 326.9,432.29 328.74,419.48 C330.59,406.67 332.44,391.42 334.28,375.56 C336.12,359.7 337.98,341.4 339.79,324.32 C341.61,307.24 343.41,290.16 345.19,273.08 C346.96,256 348.73,238.01 350.46,221.84 C352.2,205.68 353.92,190.44 355.61,176.09 C357.31,161.74 358.98,145.81 360.63,135.75 C362.27,125.68 363.22,124.53 365.49,115.7 C367.76,106.87 371.34,93.94 374.27,82.76 C377.2,71.58 380.41,57.34 383.05,48.6 C385.7,39.86 386.77,35.38 390.15,30.3 C393.52,25.22 399.1,19.32 403.32,18.1 C407.54,16.88 411.99,19.32 415.48,22.98 C418.97,26.64 420.99,32.74 424.26,40.06 C427.52,47.38 431.8,58.77 435.07,66.9 C438.33,75.03 441.2,81.34 443.85,88.86 C446.49,96.38 448.74,103.3 450.94,112.04 C453.14,120.78 454.21,132.17 457.02,141.32 C459.83,150.47 464.23,158.6 467.83,166.94 C471.43,175.28 475.43,184.83 478.64,191.34 C481.84,197.85 483.7,202.73 487.08,205.98 C490.46,209.23 494.28,211.27 498.9,210.86 C503.52,210.45 509.6,206.18 514.77,203.54 C519.95,200.9 524.46,199.47 529.97,195 C535.49,190.53 541.85,182.19 547.87,176.7 C553.9,171.21 560.37,162.87 566.11,162.06 C571.85,161.25 576.98,167.96 582.33,171.82 C587.67,175.68 591.05,180.56 598.2,185.24 C605.35,189.92 616.16,199.07 625.22,199.88 C634.28,200.69 642.73,193.37 652.58,190.12 C662.43,186.87 674.47,181.78 684.33,180.36 C694.18,178.94 702.62,180.16 711.68,181.58 C720.75,183 729.64,187.27 738.7,188.9 C747.77,190.53 753.79,191.54 766.06,191.34 C778.33,191.14 789.48,188.7 812.33,187.68 C835.19,186.66 873.97,186.05 903.19,185.24 C932.4,184.43 973.55,183.21 987.63,182.8" fill="none" stroke="#ee1111" stroke-width="2.7" stroke-linejoin="round" stroke-dasharray="0.01 5.2" stroke-linecap="round" clip-path="url(#cA)"/>
<line x1="345.9" y1="5.9" x2="481" y2="5.9" stroke="#000" stroke-width="1.8" />
<line x1="481" y1="5.9" x2="481" y2="115.7" stroke="#000" stroke-width="1.8" />
<line x1="345.9" y1="5" x2="345.9" y2="116.7" stroke="#000" stroke-width="2" />
<line x1="345" y1="115.7" x2="481.9" y2="115.7" stroke="#000" stroke-width="2" />
<line x1="343" y1="115.7" x2="345.9" y2="115.7" stroke="#000" stroke-width="1.4" />
<text x="341.6" y="118.6" font-family="Liberation Sans" font-size="9.8" font-weight="bold" stroke="#000" stroke-width="0.3" stroke-linejoin="round" text-anchor="end" fill="#000" textLength="10.5" lengthAdjust="spacingAndGlyphs">30</text>
<line x1="343" y1="91.3" x2="345.9" y2="91.3" stroke="#000" stroke-width="1.4" />
<text x="341.6" y="94.2" font-family="Liberation Sans" font-size="9.8" font-weight="bold" stroke="#000" stroke-width="0.3" stroke-linejoin="round" text-anchor="end" fill="#000" textLength="10.5" lengthAdjust="spacingAndGlyphs">32</text>
<line x1="343" y1="66.9" x2="345.9" y2="66.9" stroke="#000" stroke-width="1.4" />
<text x="341.6" y="69.8" font-family="Liberation Sans" font-size="9.8" font-weight="bold" stroke="#000" stroke-width="0.3" stroke-linejoin="round" text-anchor="end" fill="#000" textLength="10.5" lengthAdjust="spacingAndGlyphs">34</text>
<line x1="343" y1="42.5" x2="345.9" y2="42.5" stroke="#000" stroke-width="1.4" />
<text x="341.6" y="45.4" font-family="Liberation Sans" font-size="9.8" font-weight="bold" stroke="#000" stroke-width="0.3" stroke-linejoin="round" text-anchor="end" fill="#000" textLength="10.5" lengthAdjust="spacingAndGlyphs">36</text>
<line x1="343" y1="18.1" x2="345.9" y2="18.1" stroke="#000" stroke-width="1.4" />
<text x="341.6" y="21" font-family="Liberation Sans" font-size="9.8" font-weight="bold" stroke="#000" stroke-width="0.3" stroke-linejoin="round" text-anchor="end" fill="#000" textLength="10.5" lengthAdjust="spacingAndGlyphs">38</text>
<line x1="345.9" y1="115.7" x2="345.9" y2="118.5" stroke="#000" stroke-width="1.4" />
<text transform="translate(349.3 118.8) rotate(-90)" font-family="Liberation Sans" font-size="9.8" font-weight="bold" stroke="#000" stroke-width="0.3" stroke-linejoin="round" text-anchor="end" fill="#000" textLength="10.5" lengthAdjust="spacingAndGlyphs">10</text>
<line x1="379.67" y1="115.7" x2="379.67" y2="118.5" stroke="#000" stroke-width="1.4" />
<text transform="translate(383.07 118.8) rotate(-90)" font-family="Liberation Sans" font-size="9.8" font-weight="bold" stroke="#000" stroke-width="0.3" stroke-linejoin="round" text-anchor="end" fill="#000" textLength="10.5" lengthAdjust="spacingAndGlyphs">20</text>
<line x1="413.45" y1="115.7" x2="413.45" y2="118.5" stroke="#000" stroke-width="1.4" />
<text transform="translate(416.85 118.8) rotate(-90)" font-family="Liberation Sans" font-size="9.8" font-weight="bold" stroke="#000" stroke-width="0.3" stroke-linejoin="round" text-anchor="end" fill="#000" textLength="10.5" lengthAdjust="spacingAndGlyphs">30</text>
<line x1="447.23" y1="115.7" x2="447.23" y2="118.5" stroke="#000" stroke-width="1.4" />
<text transform="translate(450.62 118.8) rotate(-90)" font-family="Liberation Sans" font-size="9.8" font-weight="bold" stroke="#000" stroke-width="0.3" stroke-linejoin="round" text-anchor="end" fill="#000" textLength="10.5" lengthAdjust="spacingAndGlyphs">40</text>
<line x1="481" y1="115.7" x2="481" y2="118.5" stroke="#000" stroke-width="1.4" />
<text transform="translate(484.4 118.8) rotate(-90)" font-family="Liberation Sans" font-size="9.8" font-weight="bold" stroke="#000" stroke-width="0.3" stroke-linejoin="round" text-anchor="end" fill="#000" textLength="10.5" lengthAdjust="spacingAndGlyphs">50</text>
<line x1="294.5" y1="99" x2="340" y2="77" stroke="#000" stroke-width="1.2" />
<path d="M345.2,74.4 L337.2,75.3 L339.4,79.6 Z" fill="#000"/>
<line x1="374.7" y1="17.9" x2="400.7" y2="17.9" stroke="#aaa" stroke-width="0.8" />
<line x1="408.6" y1="22.6" x2="437.5" y2="22.6" stroke="#aaa" stroke-width="0.8" />
<line x1="373.5" y1="38.5" x2="399.5" y2="38.5" stroke="#555" stroke-width="0.9" />
<line x1="402.5" y1="59" x2="450.5" y2="59" stroke="#888" stroke-width="0.9" />
<line x1="373.5" y1="70.2" x2="394" y2="70.2" stroke="#888" stroke-width="0.9" />
<line x1="396" y1="83.1" x2="451" y2="83.1" stroke="#888" stroke-width="0.9" />
<line x1="393.5" y1="91.5" x2="394.5" y2="96.5" stroke="#555" stroke-width="0.8" />
<text x="364" y="21.07" font-family="Liberation Sans" font-size="8.8" font-weight="bold" text-anchor="start" fill="#000" textLength="9.4" lengthAdjust="spacingAndGlyphs">38</text>
<text x="439.2" y="25.97" font-family="Liberation Sans" font-size="8.8" font-weight="bold" text-anchor="start" fill="#000" textLength="20.6" lengthAdjust="spacingAndGlyphs">37.63</text>
<text x="351.8" y="41.67" font-family="Liberation Sans" font-size="8.8" font-weight="bold" text-anchor="start" fill="#000" textLength="20.9" lengthAdjust="spacingAndGlyphs">36.34</text>
<text x="451.6" y="62.17" font-family="Liberation Sans" font-size="8.8" font-weight="bold" text-anchor="start" fill="#000" textLength="21.1" lengthAdjust="spacingAndGlyphs">34.66</text>
<text x="351.1" y="73.37" font-family="Liberation Sans" font-size="8.8" font-weight="bold" text-anchor="start" fill="#000" textLength="21.1" lengthAdjust="spacingAndGlyphs">33.76</text>
<text x="452.3" y="86.27" font-family="Liberation Sans" font-size="8.8" font-weight="bold" text-anchor="start" fill="#000" textLength="20.9" lengthAdjust="spacingAndGlyphs">32.68</text>
<text x="384.1" y="104.37" font-family="Liberation Sans" font-size="8.8" font-weight="bold" text-anchor="start" fill="#000" textLength="20.3" lengthAdjust="spacingAndGlyphs">32.41</text>
<circle cx="403.2" cy="17.9" r="2.2" fill="#fff" stroke="#555" stroke-width="0.9"/>
<circle cx="406.4" cy="22.4" r="2.2" fill="#fff" stroke="#555" stroke-width="0.9"/>
<circle cx="402" cy="38.5" r="2.2" fill="#fff" stroke="#555" stroke-width="0.9"/>
<circle cx="400" cy="59" r="2.2" fill="#fff" stroke="#555" stroke-width="0.9"/>
<circle cx="396.5" cy="70.1" r="2.2" fill="#fff" stroke="#555" stroke-width="0.9"/>
<circle cx="393.5" cy="83" r="2.2" fill="#fff" stroke="#555" stroke-width="0.9"/>
<circle cx="390.3" cy="86.4" r="2.2" fill="#fff" stroke="#555" stroke-width="0.9"/>
<path d="M39.5,548.2 C39.77,547.88 40.05,550.25 41.1,546.3 C42.15,542.35 44.23,533.32 45.8,524.5 C47.37,515.68 48.95,503.77 50.5,493.4 C52.05,483.03 53.55,472.17 55.1,462.3 C56.65,452.43 58.23,441.73 59.8,434.2 C61.37,426.67 62.83,421 64.5,417.1 C66.17,413.2 67.98,411.57 69.8,410.8 C71.62,410.03 73.43,410.8 75.4,412.5 C77.37,414.2 79.53,417.08 81.6,421 C83.67,424.92 85.95,430.83 87.8,436 C89.65,441.17 91.17,447.67 92.7,452 C94.23,456.33 95.62,459.38 97,462 C98.38,464.62 99.33,466.3 101,467.7 C102.67,469.1 104.63,470.57 107,470.4 C109.37,470.23 112.13,468.68 115.2,466.7 C118.27,464.72 122.68,460.03 125.4,458.5 C128.12,456.97 128.78,456.82 131.5,457.5 C134.22,458.18 138.28,460.9 141.7,462.6 C145.12,464.3 147.57,467.35 152,467.7 C156.43,468.05 162.85,465.38 168.3,464.7 C173.75,464.02 172.75,463.78 184.7,463.6 C196.65,463.42 220.28,463.62 240,463.6 C259.72,463.58 292.5,463.52 303,463.5" fill="none" stroke="#000" stroke-width="3" stroke-linejoin="round"/>
<path d="M39.5,548.2 C39.77,548.08 40.35,547.78 41.1,547.5 C41.85,547.22 42.97,546.97 44,546.5 C45.03,546.03 45.7,549.67 47.3,544.7 C48.9,539.73 51.52,526.55 53.6,516.7 C55.68,506.85 58.15,494.05 59.8,485.6 C61.45,477.15 62.38,472.27 63.5,466 C64.62,459.73 65.3,453.82 66.5,448 C67.7,442.18 69.22,435.22 70.7,431.1 C72.18,426.98 73.58,425.23 75.4,423.3 C77.22,421.37 79.27,421.3 81.6,419.5 C83.93,417.7 86.77,414.78 89.4,412.5 C92.03,410.22 94.8,406.3 97.4,405.8 C100,405.3 102.03,407.18 105,409.5 C107.97,411.82 111.8,416.13 115.2,419.7 C118.6,423.27 122,428 125.4,430.9 C128.8,433.8 131.85,435.73 135.6,437.1 C139.35,438.47 142.78,438.77 147.9,439.1 C153.02,439.43 160.17,438.93 166.3,439.1 C172.43,439.27 172.42,439.7 184.7,440.1 C196.98,440.5 220.28,440.92 240,441.5 C259.72,442.08 292.5,443.25 303,443.6" fill="none" stroke="#0606e8" stroke-width="3" stroke-linejoin="round"/>
<path d="M39.5,548.2 C40.25,547.92 42.7,547.2 44,546.5 C45.3,545.8 45.7,549.08 47.3,544 C48.9,538.92 51.52,526 53.6,516 C55.68,506 57.9,493.33 59.8,484 C61.7,474.67 63.47,467.33 65,460 C66.53,452.67 67.78,445.33 69,440 C70.22,434.67 71.13,432.17 72.3,428 C73.47,423.83 74.65,419.1 76,415 C77.35,410.9 78.9,406.73 80.4,403.4 C81.9,400.07 83.28,397.4 85,395 C86.72,392.6 88.73,391.7 90.7,389 C92.67,386.3 95.1,381 96.8,378.8 C98.5,376.6 99.53,376.1 100.9,375.8 C102.27,375.5 103.3,376.15 105,377 C106.7,377.85 108.38,378.38 111.1,380.9 C113.82,383.42 117.9,388.35 121.3,392.1 C124.7,395.85 128.1,400.5 131.5,403.4 C134.9,406.3 137.27,408.22 141.7,409.5 C146.13,410.78 152.65,410.7 158.1,411.1 C163.55,411.5 167.42,411.53 174.4,411.9 C181.38,412.27 189.57,412.98 200,413.3 C210.43,413.62 219.83,413.6 237,413.8 C254.17,414 292,414.38 303,414.5" fill="none" stroke="#0606e8" stroke-width="3" stroke-linejoin="round" stroke-dasharray="7.5 6.3"/>
<path d="M39.5,548.2 C40.25,547.92 42.7,547.2 44,546.5 C45.3,545.8 45.7,549.25 47.3,544 C48.9,538.75 51.52,525.33 53.6,515 C55.68,504.67 57.9,492 59.8,482 C61.7,472 63.47,463.33 65,455 C66.53,446.67 67.78,438.22 69,432 C70.22,425.78 71.13,422.2 72.3,417.7 C73.47,413.2 74.65,409.1 76,405 C77.35,400.9 78.98,396.77 80.4,393.1 C81.82,389.43 83.13,386.07 84.5,383 C85.87,379.93 86.72,378.12 88.6,374.7 C90.48,371.28 93.58,365.73 95.8,362.5 C98.02,359.27 100.2,356.83 101.9,355.3 C103.6,353.77 104.65,353.6 106,353.3 C107.35,353 108.47,353 110,353.5 C111.53,354 112.63,353.78 115.2,356.3 C117.77,358.82 122,364.17 125.4,368.6 C128.8,373.03 132.2,378.47 135.6,382.9 C139,387.33 142.05,391.45 145.8,395.2 C149.55,398.95 153.33,402.68 158.1,405.4 C162.87,408.12 168.95,410.13 174.4,411.5 C179.85,412.87 186.7,412.85 190.8,413.6 C194.9,414.35 188.15,415.27 199,416 C209.85,416.73 238.57,417.27 255.9,418 C273.23,418.73 295.15,420 303,420.4" fill="none" stroke="#0606e8" stroke-width="3" stroke-linejoin="round" stroke-dasharray="0.01 5.85" stroke-linecap="round"/>
<path d="M39.5,548.2 C40.08,548.13 41.95,548 43,547.8 C44.05,547.6 44.8,548.63 45.8,547 C46.8,545.37 47.7,541.75 49,538 C50.3,534.25 51.8,531.93 53.6,524.5 C55.4,517.07 57.73,503.25 59.8,493.4 C61.87,483.55 63.93,473.18 66,465.4 C68.07,457.62 70.12,451.37 72.2,446.7 C74.28,442.03 76.42,440 78.5,437.4 C80.58,434.8 82.37,433.45 84.7,431.1 C87.03,428.75 89.52,425.72 92.5,423.3 C95.48,420.88 99.5,416.87 102.6,416.6 C105.7,416.33 107.98,419.13 111.1,421.7 C114.22,424.27 117.9,428.75 121.3,432 C124.7,435.25 127.42,438.82 131.5,441.2 C135.58,443.58 140,445.12 145.8,446.3 C151.6,447.48 159.82,447.8 166.3,448.3 C172.78,448.8 172.42,448.85 184.7,449.3 C196.98,449.75 220.28,450.53 240,451 C259.72,451.47 292.5,451.92 303,452.1" fill="none" stroke="#ee1111" stroke-width="3" stroke-linejoin="round"/>
<path d="M39.5,548.2 C40.08,548.13 41.92,548 43,547.8 C44.08,547.6 45,548.8 46,547 C47,545.2 47.73,541.17 49,537 C50.27,532.83 51.8,529.67 53.6,522 C55.4,514.33 57.9,500.33 59.8,491 C61.7,481.67 63.27,474.82 65,466 C66.73,457.18 68.53,444.93 70.2,438.1 C71.87,431.27 73.3,428.75 75,425 C76.7,421.25 77.78,419.55 80.4,415.6 C83.02,411.65 87.28,405.05 90.7,401.3 C94.12,397.55 98.25,395.15 100.9,393.1 C103.55,391.05 104.75,389.35 106.6,389 C108.45,388.65 110.23,389.97 112,391 C113.77,392.03 114.63,392.8 117.2,395.2 C119.77,397.6 123.98,402.33 127.4,405.4 C130.82,408.47 134.28,411.38 137.7,413.6 C141.12,415.82 143.82,417.35 147.9,418.7 C151.98,420.05 156.42,421.02 162.2,421.7 C167.98,422.38 170.13,422.42 182.6,422.8 C195.07,423.18 216.93,423.55 237,424 C257.07,424.45 292,425.25 303,425.5" fill="none" stroke="#ee1111" stroke-width="3" stroke-linejoin="round" stroke-dasharray="7.5 6.3"/>
<path d="M39.5,548.2 C40.08,548.13 41.92,548 43,547.8 C44.08,547.6 45,548.8 46,547 C47,545.2 47.73,541.33 49,537 C50.27,532.67 51.8,529 53.6,521 C55.4,513 57.9,498.83 59.8,489 C61.7,479.17 63.3,470.5 65,462 C66.7,453.5 68.45,444.72 70,438 C71.55,431.28 72.97,426.53 74.3,421.7 C75.63,416.87 76.63,413.08 78,409 C79.37,404.92 80.38,402.23 82.5,397.2 C84.62,392.17 87.98,384.25 90.7,378.8 C93.42,373.35 96.08,368.07 98.8,364.5 C101.52,360.93 104,359.03 107,357.4 C110,355.77 113.73,354.53 116.8,354.7 C119.87,354.87 122.27,355.73 125.4,358.4 C128.53,361.07 132.2,366.62 135.6,370.7 C139,374.78 142.05,379.17 145.8,382.9 C149.55,386.63 153.33,390.37 158.1,393.1 C162.87,395.83 168.95,397.93 174.4,399.3 C179.85,400.67 183.53,400.78 190.8,401.3 C198.07,401.82 207.15,402 218,402.4 C228.85,402.8 241.73,403.27 255.9,403.7 C270.07,404.13 295.15,404.78 303,405" fill="none" stroke="#ee1111" stroke-width="3" stroke-linejoin="round" stroke-dasharray="0.01 5.85" stroke-linecap="round"/>
<line x1="36" y1="336.4" x2="303.4" y2="336.4" stroke="#000" stroke-width="1.8" />
<line x1="303.4" y1="336.4" x2="303.4" y2="549.2" stroke="#000" stroke-width="1.8" />
<line x1="39.5" y1="335.6" x2="39.5" y2="549.2" stroke="#000" stroke-width="2.2" />
<line x1="36" y1="548.2" x2="39.5" y2="548.2" stroke="#000" stroke-width="1.6" />
<text x="32.3" y="552.27" font-family="Liberation Sans" font-size="11.3" font-weight="bold" stroke="#000" stroke-width="0.22" stroke-linejoin="round" text-anchor="end" fill="#000" textLength="6.9" lengthAdjust="spacingAndGlyphs">0</text>
<line x1="36" y1="527.02" x2="39.5" y2="527.02" stroke="#000" stroke-width="1.6" />
<text x="32.3" y="531.09" font-family="Liberation Sans" font-size="11.3" font-weight="bold" stroke="#000" stroke-width="0.22" stroke-linejoin="round" text-anchor="end" fill="#000" textLength="6.9" lengthAdjust="spacingAndGlyphs">5</text>
<line x1="36" y1="505.84" x2="39.5" y2="505.84" stroke="#000" stroke-width="1.6" />
<text x="32.3" y="509.91" font-family="Liberation Sans" font-size="11.3" font-weight="bold" stroke="#000" stroke-width="0.22" stroke-linejoin="round" text-anchor="end" fill="#000" textLength="13.8" lengthAdjust="spacingAndGlyphs">10</text>
<line x1="36" y1="484.66" x2="39.5" y2="484.66" stroke="#000" stroke-width="1.6" />
<text x="32.3" y="488.73" font-family="Liberation Sans" font-size="11.3" font-weight="bold" stroke="#000" stroke-width="0.22" stroke-linejoin="round" text-anchor="end" fill="#000" textLength="13.8" lengthAdjust="spacingAndGlyphs">15</text>
<line x1="36" y1="463.48" x2="39.5" y2="463.48" stroke="#000" stroke-width="1.6" />
<text x="32.3" y="467.55" font-family="Liberation Sans" font-size="11.3" font-weight="bold" stroke="#000" stroke-width="0.22" stroke-linejoin="round" text-anchor="end" fill="#000" textLength="13.8" lengthAdjust="spacingAndGlyphs">20</text>
<line x1="36" y1="442.3" x2="39.5" y2="442.3" stroke="#000" stroke-width="1.6" />
<text x="32.3" y="446.37" font-family="Liberation Sans" font-size="11.3" font-weight="bold" stroke="#000" stroke-width="0.22" stroke-linejoin="round" text-anchor="end" fill="#000" textLength="13.8" lengthAdjust="spacingAndGlyphs">25</text>
<line x1="36" y1="421.12" x2="39.5" y2="421.12" stroke="#000" stroke-width="1.6" />
<text x="32.3" y="425.19" font-family="Liberation Sans" font-size="11.3" font-weight="bold" stroke="#000" stroke-width="0.22" stroke-linejoin="round" text-anchor="end" fill="#000" textLength="13.8" lengthAdjust="spacingAndGlyphs">30</text>
<line x1="36" y1="399.94" x2="39.5" y2="399.94" stroke="#000" stroke-width="1.6" />
<text x="32.3" y="404.01" font-family="Liberation Sans" font-size="11.3" font-weight="bold" stroke="#000" stroke-width="0.22" stroke-linejoin="round" text-anchor="end" fill="#000" textLength="13.8" lengthAdjust="spacingAndGlyphs">35</text>
<line x1="36" y1="378.76" x2="39.5" y2="378.76" stroke="#000" stroke-width="1.6" />
<text x="32.3" y="382.83" font-family="Liberation Sans" font-size="11.3" font-weight="bold" stroke="#000" stroke-width="0.22" stroke-linejoin="round" text-anchor="end" fill="#000" textLength="13.8" lengthAdjust="spacingAndGlyphs">40</text>
<line x1="36" y1="357.58" x2="39.5" y2="357.58" stroke="#000" stroke-width="1.6" />
<text x="32.3" y="361.65" font-family="Liberation Sans" font-size="11.3" font-weight="bold" stroke="#000" stroke-width="0.22" stroke-linejoin="round" text-anchor="end" fill="#000" textLength="13.8" lengthAdjust="spacingAndGlyphs">45</text>
<line x1="36" y1="336.4" x2="39.5" y2="336.4" stroke="#000" stroke-width="1.6" />
<text x="32.3" y="340.47" font-family="Liberation Sans" font-size="11.3" font-weight="bold" stroke="#000" stroke-width="0.22" stroke-linejoin="round" text-anchor="end" fill="#000" textLength="13.8" lengthAdjust="spacingAndGlyphs">50</text>
<line x1="37.5" y1="544.67" x2="39.5" y2="544.67" stroke="#000" stroke-width="1" />
<line x1="37.5" y1="541.14" x2="39.5" y2="541.14" stroke="#000" stroke-width="1" />
<line x1="37.5" y1="537.61" x2="39.5" y2="537.61" stroke="#000" stroke-width="1" />
<line x1="37.5" y1="534.08" x2="39.5" y2="534.08" stroke="#000" stroke-width="1" />
<line x1="37.5" y1="530.55" x2="39.5" y2="530.55" stroke="#000" stroke-width="1" />
<line x1="37.5" y1="523.49" x2="39.5" y2="523.49" stroke="#000" stroke-width="1" />
<line x1="37.5" y1="519.96" x2="39.5" y2="519.96" stroke="#000" stroke-width="1" />
<line x1="37.5" y1="516.43" x2="39.5" y2="516.43" stroke="#000" stroke-width="1" />
<line x1="37.5" y1="512.9" x2="39.5" y2="512.9" stroke="#000" stroke-width="1" />
<line x1="37.5" y1="509.37" x2="39.5" y2="509.37" stroke="#000" stroke-width="1" />
<line x1="37.5" y1="502.31" x2="39.5" y2="502.31" stroke="#000" stroke-width="1" />
<line x1="37.5" y1="498.78" x2="39.5" y2="498.78" stroke="#000" stroke-width="1" />
<line x1="37.5" y1="495.25" x2="39.5" y2="495.25" stroke="#000" stroke-width="1" />
<line x1="37.5" y1="491.72" x2="39.5" y2="491.72" stroke="#000" stroke-width="1" />
<line x1="37.5" y1="488.19" x2="39.5" y2="488.19" stroke="#000" stroke-width="1" />
<line x1="37.5" y1="481.13" x2="39.5" y2="481.13" stroke="#000" stroke-width="1" />
<line x1="37.5" y1="477.6" x2="39.5" y2="477.6" stroke="#000" stroke-width="1" />
<line x1="37.5" y1="474.07" x2="39.5" y2="474.07" stroke="#000" stroke-width="1" />
<line x1="37.5" y1="470.54" x2="39.5" y2="470.54" stroke="#000" stroke-width="1" />
<line x1="37.5" y1="467.01" x2="39.5" y2="467.01" stroke="#000" stroke-width="1" />
<line x1="37.5" y1="459.95" x2="39.5" y2="459.95" stroke="#000" stroke-width="1" />
<line x1="37.5" y1="456.42" x2="39.5" y2="456.42" stroke="#000" stroke-width="1" />
<line x1="37.5" y1="452.89" x2="39.5" y2="452.89" stroke="#000" stroke-width="1" />
<line x1="37.5" y1="449.36" x2="39.5" y2="449.36" stroke="#000" stroke-width="1" />
<line x1="37.5" y1="445.83" x2="39.5" y2="445.83" stroke="#000" stroke-width="1" />
<line x1="37.5" y1="438.77" x2="39.5" y2="438.77" stroke="#000" stroke-width="1" />
<line x1="37.5" y1="435.24" x2="39.5" y2="435.24" stroke="#000" stroke-width="1" />
<line x1="37.5" y1="431.71" x2="39.5" y2="431.71" stroke="#000" stroke-width="1" />
<line x1="37.5" y1="428.18" x2="39.5" y2="428.18" stroke="#000" stroke-width="1" />
<line x1="37.5" y1="424.65" x2="39.5" y2="424.65" stroke="#000" stroke-width="1" />
<line x1="37.5" y1="417.59" x2="39.5" y2="417.59" stroke="#000" stroke-width="1" />
<line x1="37.5" y1="414.06" x2="39.5" y2="414.06" stroke="#000" stroke-width="1" />
<line x1="37.5" y1="410.53" x2="39.5" y2="410.53" stroke="#000" stroke-width="1" />
<line x1="37.5" y1="407" x2="39.5" y2="407" stroke="#000" stroke-width="1" />
<line x1="37.5" y1="403.47" x2="39.5" y2="403.47" stroke="#000" stroke-width="1" />
<line x1="37.5" y1="396.41" x2="39.5" y2="396.41" stroke="#000" stroke-width="1" />
<line x1="37.5" y1="392.88" x2="39.5" y2="392.88" stroke="#000" stroke-width="1" />
<line x1="37.5" y1="389.35" x2="39.5" y2="389.35" stroke="#000" stroke-width="1" />
<line x1="37.5" y1="385.82" x2="39.5" y2="385.82" stroke="#000" stroke-width="1" />
<line x1="37.5" y1="382.29" x2="39.5" y2="382.29" stroke="#000" stroke-width="1" />
<line x1="37.5" y1="375.23" x2="39.5" y2="375.23" stroke="#000" stroke-width="1" />
<line x1="37.5" y1="371.7" x2="39.5" y2="371.7" stroke="#000" stroke-width="1" />
<line x1="37.5" y1="368.17" x2="39.5" y2="368.17" stroke="#000" stroke-width="1" />
<line x1="37.5" y1="364.64" x2="39.5" y2="364.64" stroke="#000" stroke-width="1" />
<line x1="37.5" y1="361.11" x2="39.5" y2="361.11" stroke="#000" stroke-width="1" />
<line x1="37.5" y1="354.05" x2="39.5" y2="354.05" stroke="#000" stroke-width="1" />
<line x1="37.5" y1="350.52" x2="39.5" y2="350.52" stroke="#000" stroke-width="1" />
<line x1="37.5" y1="346.99" x2="39.5" y2="346.99" stroke="#000" stroke-width="1" />
<line x1="37.5" y1="343.46" x2="39.5" y2="343.46" stroke="#000" stroke-width="1" />
<line x1="37.5" y1="339.93" x2="39.5" y2="339.93" stroke="#000" stroke-width="1" />
<line x1="38.5" y1="548.2" x2="304.2" y2="548.2" stroke="#000" stroke-width="2.2" />
<line x1="39.5" y1="548.2" x2="39.5" y2="551.7" stroke="#000" stroke-width="1.6" />
<text transform="translate(43.9 555.4) rotate(-90)" font-family="Liberation Sans" font-size="12.5" font-weight="bold" stroke="#000" stroke-width="0.22" stroke-linejoin="round" text-anchor="end" fill="#000" textLength="6.25" lengthAdjust="spacingAndGlyphs">0</text>
<line x1="52.7" y1="548.2" x2="52.7" y2="551.7" stroke="#000" stroke-width="1.6" />
<text transform="translate(57.09 555.4) rotate(-90)" font-family="Liberation Sans" font-size="12.5" font-weight="bold" stroke="#000" stroke-width="0.22" stroke-linejoin="round" text-anchor="end" fill="#000" textLength="12.5" lengthAdjust="spacingAndGlyphs">10</text>
<line x1="65.89" y1="548.2" x2="65.89" y2="551.7" stroke="#000" stroke-width="1.6" />
<text transform="translate(70.29 555.4) rotate(-90)" font-family="Liberation Sans" font-size="12.5" font-weight="bold" stroke="#000" stroke-width="0.22" stroke-linejoin="round" text-anchor="end" fill="#000" textLength="12.5" lengthAdjust="spacingAndGlyphs">20</text>
<line x1="79.08" y1="548.2" x2="79.08" y2="551.7" stroke="#000" stroke-width="1.6" />
<text transform="translate(83.48 555.4) rotate(-90)" font-family="Liberation Sans" font-size="12.5" font-weight="bold" stroke="#000" stroke-width="0.22" stroke-linejoin="round" text-anchor="end" fill="#000" textLength="12.5" lengthAdjust="spacingAndGlyphs">30</text>
<line x1="92.28" y1="548.2" x2="92.28" y2="551.7" stroke="#000" stroke-width="1.6" />
<text transform="translate(96.68 555.4) rotate(-90)" font-family="Liberation Sans" font-size="12.5" font-weight="bold" stroke="#000" stroke-width="0.22" stroke-linejoin="round" text-anchor="end" fill="#000" textLength="12.5" lengthAdjust="spacingAndGlyphs">40</text>
<line x1="105.47" y1="548.2" x2="105.47" y2="551.7" stroke="#000" stroke-width="1.6" />
<text transform="translate(109.88 555.4) rotate(-90)" font-family="Liberation Sans" font-size="12.5" font-weight="bold" stroke="#000" stroke-width="0.22" stroke-linejoin="round" text-anchor="end" fill="#000" textLength="12.5" lengthAdjust="spacingAndGlyphs">50</text>
<line x1="118.67" y1="548.2" x2="118.67" y2="551.7" stroke="#000" stroke-width="1.6" />
<text transform="translate(123.07 555.4) rotate(-90)" font-family="Liberation Sans" font-size="12.5" font-weight="bold" stroke="#000" stroke-width="0.22" stroke-linejoin="round" text-anchor="end" fill="#000" textLength="12.5" lengthAdjust="spacingAndGlyphs">60</text>
<line x1="131.87" y1="548.2" x2="131.87" y2="551.7" stroke="#000" stroke-width="1.6" />
<text transform="translate(136.27 555.4) rotate(-90)" font-family="Liberation Sans" font-size="12.5" font-weight="bold" stroke="#000" stroke-width="0.22" stroke-linejoin="round" text-anchor="end" fill="#000" textLength="12.5" lengthAdjust="spacingAndGlyphs">70</text>
<line x1="145.06" y1="548.2" x2="145.06" y2="551.7" stroke="#000" stroke-width="1.6" />
<text transform="translate(149.46 555.4) rotate(-90)" font-family="Liberation Sans" font-size="12.5" font-weight="bold" stroke="#000" stroke-width="0.22" stroke-linejoin="round" text-anchor="end" fill="#000" textLength="12.5" lengthAdjust="spacingAndGlyphs">80</text>
<line x1="158.25" y1="548.2" x2="158.25" y2="551.7" stroke="#000" stroke-width="1.6" />
<text transform="translate(162.66 555.4) rotate(-90)" font-family="Liberation Sans" font-size="12.5" font-weight="bold" stroke="#000" stroke-width="0.22" stroke-linejoin="round" text-anchor="end" fill="#000" textLength="12.5" lengthAdjust="spacingAndGlyphs">90</text>
<line x1="171.45" y1="548.2" x2="171.45" y2="551.7" stroke="#000" stroke-width="1.6" />
<text transform="translate(175.85 555.4) rotate(-90)" font-family="Liberation Sans" font-size="12.5" font-weight="bold" stroke="#000" stroke-width="0.22" stroke-linejoin="round" text-anchor="end" fill="#000" textLength="18.75" lengthAdjust="spacingAndGlyphs">100</text>
<line x1="184.64" y1="548.2" x2="184.64" y2="551.7" stroke="#000" stroke-width="1.6" />
<text transform="translate(189.04 555.4) rotate(-90)" font-family="Liberation Sans" font-size="12.5" font-weight="bold" stroke="#000" stroke-width="0.22" stroke-linejoin="round" text-anchor="end" fill="#000" textLength="18.75" lengthAdjust="spacingAndGlyphs">110</text>
<line x1="197.84" y1="548.2" x2="197.84" y2="551.7" stroke="#000" stroke-width="1.6" />
<text transform="translate(202.24 555.4) rotate(-90)" font-family="Liberation Sans" font-size="12.5" font-weight="bold" stroke="#000" stroke-width="0.22" stroke-linejoin="round" text-anchor="end" fill="#000" textLength="18.75" lengthAdjust="spacingAndGlyphs">120</text>
<line x1="211.03" y1="548.2" x2="211.03" y2="551.7" stroke="#000" stroke-width="1.6" />
<text transform="translate(215.44 555.4) rotate(-90)" font-family="Liberation Sans" font-size="12.5" font-weight="bold" stroke="#000" stroke-width="0.22" stroke-linejoin="round" text-anchor="end" fill="#000" textLength="18.75" lengthAdjust="spacingAndGlyphs">130</text>
<line x1="224.23" y1="548.2" x2="224.23" y2="551.7" stroke="#000" stroke-width="1.6" />
<text transform="translate(228.63 555.4) rotate(-90)" font-family="Liberation Sans" font-size="12.5" font-weight="bold" stroke="#000" stroke-width="0.22" stroke-linejoin="round" text-anchor="end" fill="#000" textLength="18.75" lengthAdjust="spacingAndGlyphs">140</text>
<line x1="237.43" y1="548.2" x2="237.43" y2="551.7" stroke="#000" stroke-width="1.6" />
<text transform="translate(241.83 555.4) rotate(-90)" font-family="Liberation Sans" font-size="12.5" font-weight="bold" stroke="#000" stroke-width="0.22" stroke-linejoin="round" text-anchor="end" fill="#000" textLength="18.75" lengthAdjust="spacingAndGlyphs">150</text>
<line x1="250.62" y1="548.2" x2="250.62" y2="551.7" stroke="#000" stroke-width="1.6" />
<text transform="translate(255.02 555.4) rotate(-90)" font-family="Liberation Sans" font-size="12.5" font-weight="bold" stroke="#000" stroke-width="0.22" stroke-linejoin="round" text-anchor="end" fill="#000" textLength="18.75" lengthAdjust="spacingAndGlyphs">160</text>
<line x1="263.81" y1="548.2" x2="263.81" y2="551.7" stroke="#000" stroke-width="1.6" />
<text transform="translate(268.21 555.4) rotate(-90)" font-family="Liberation Sans" font-size="12.5" font-weight="bold" stroke="#000" stroke-width="0.22" stroke-linejoin="round" text-anchor="end" fill="#000" textLength="18.75" lengthAdjust="spacingAndGlyphs">170</text>
<line x1="277.01" y1="548.2" x2="277.01" y2="551.7" stroke="#000" stroke-width="1.6" />
<text transform="translate(281.41 555.4) rotate(-90)" font-family="Liberation Sans" font-size="12.5" font-weight="bold" stroke="#000" stroke-width="0.22" stroke-linejoin="round" text-anchor="end" fill="#000" textLength="18.75" lengthAdjust="spacingAndGlyphs">180</text>
<line x1="290.2" y1="548.2" x2="290.2" y2="551.7" stroke="#000" stroke-width="1.6" />
<text transform="translate(294.6 555.4) rotate(-90)" font-family="Liberation Sans" font-size="12.5" font-weight="bold" stroke="#000" stroke-width="0.22" stroke-linejoin="round" text-anchor="end" fill="#000" textLength="18.75" lengthAdjust="spacingAndGlyphs">190</text>
<line x1="303.4" y1="548.2" x2="303.4" y2="551.7" stroke="#000" stroke-width="1.6" />
<text transform="translate(307.8 555.4) rotate(-90)" font-family="Liberation Sans" font-size="12.5" font-weight="bold" stroke="#000" stroke-width="0.22" stroke-linejoin="round" text-anchor="end" fill="#000" textLength="18.75" lengthAdjust="spacingAndGlyphs">200</text>
<line x1="46.1" y1="548.2" x2="46.1" y2="550.2" stroke="#000" stroke-width="1" />
<line x1="59.29" y1="548.2" x2="59.29" y2="550.2" stroke="#000" stroke-width="1" />
<line x1="72.49" y1="548.2" x2="72.49" y2="550.2" stroke="#000" stroke-width="1" />
<line x1="85.68" y1="548.2" x2="85.68" y2="550.2" stroke="#000" stroke-width="1" />
<line x1="98.88" y1="548.2" x2="98.88" y2="550.2" stroke="#000" stroke-width="1" />
<line x1="112.07" y1="548.2" x2="112.07" y2="550.2" stroke="#000" stroke-width="1" />
<line x1="125.27" y1="548.2" x2="125.27" y2="550.2" stroke="#000" stroke-width="1" />
<line x1="138.46" y1="548.2" x2="138.46" y2="550.2" stroke="#000" stroke-width="1" />
<line x1="151.66" y1="548.2" x2="151.66" y2="550.2" stroke="#000" stroke-width="1" />
<line x1="164.85" y1="548.2" x2="164.85" y2="550.2" stroke="#000" stroke-width="1" />
<line x1="178.05" y1="548.2" x2="178.05" y2="550.2" stroke="#000" stroke-width="1" />
<line x1="191.24" y1="548.2" x2="191.24" y2="550.2" stroke="#000" stroke-width="1" />
<line x1="204.44" y1="548.2" x2="204.44" y2="550.2" stroke="#000" stroke-width="1" />
<line x1="217.63" y1="548.2" x2="217.63" y2="550.2" stroke="#000" stroke-width="1" />
<line x1="230.83" y1="548.2" x2="230.83" y2="550.2" stroke="#000" stroke-width="1" />
<line x1="244.02" y1="548.2" x2="244.02" y2="550.2" stroke="#000" stroke-width="1" />
<line x1="257.22" y1="548.2" x2="257.22" y2="550.2" stroke="#000" stroke-width="1" />
<line x1="270.41" y1="548.2" x2="270.41" y2="550.2" stroke="#000" stroke-width="1" />
<line x1="283.61" y1="548.2" x2="283.61" y2="550.2" stroke="#000" stroke-width="1" />
<line x1="296.8" y1="548.2" x2="296.8" y2="550.2" stroke="#000" stroke-width="1" />
<text transform="translate(10.9 442) rotate(-90)" font-family="Liberation Sans" font-size="12.4" font-weight="bold" stroke="#000" stroke-width="0.4" stroke-linejoin="round" text-anchor="middle" fill="#000" textLength="120" lengthAdjust="spacingAndGlyphs">Deflection (mm)</text>
<text x="134.1" y="590.8" font-family="Liberation Sans" font-size="12.6" font-weight="bold" stroke="#000" stroke-width="0.4" stroke-linejoin="round" text-anchor="start" fill="#000" textLength="74.9" lengthAdjust="spacingAndGlyphs">Time (ms)</text>
<line x1="86.2" y1="353.3" x2="102.8" y2="353.3" stroke="#555" stroke-width="0.9" />
<line x1="120.3" y1="355" x2="138.8" y2="355" stroke="#555" stroke-width="0.9" />
<line x1="104.1" y1="375.5" x2="154.8" y2="375.5" stroke="#555" stroke-width="0.9" />
<line x1="110" y1="389.3" x2="191.3" y2="389.3" stroke="#555" stroke-width="0.9" />
<line x1="100.6" y1="405.4" x2="106.6" y2="405.4" stroke="#555" stroke-width="0.9" />
<line x1="105.9" y1="416" x2="119.7" y2="416" stroke="#555" stroke-width="0.9" />
<line x1="59.3" y1="405.9" x2="67.3" y2="408.6" stroke="#555" stroke-width="0.9" />
<text x="56.1" y="357.63" font-family="Liberation Sans" font-size="11.2" font-weight="bold" stroke="#000" stroke-width="0.15" stroke-linejoin="round" text-anchor="start" fill="#000" textLength="28.4" lengthAdjust="spacingAndGlyphs">46.01</text>
<text x="139.1" y="358.63" font-family="Liberation Sans" font-size="11.2" font-weight="bold" stroke="#000" stroke-width="0.15" stroke-linejoin="round" text-anchor="start" fill="#000" textLength="30" lengthAdjust="spacingAndGlyphs">45.47</text>
<text x="155.1" y="379.53" font-family="Liberation Sans" font-size="11.2" font-weight="bold" stroke="#000" stroke-width="0.15" stroke-linejoin="round" text-anchor="start" fill="#000" textLength="29.2" lengthAdjust="spacingAndGlyphs">40.63</text>
<text x="192" y="392.93" font-family="Liberation Sans" font-size="11.2" font-weight="bold" stroke="#000" stroke-width="0.15" stroke-linejoin="round" text-anchor="start" fill="#000" textLength="29.2" lengthAdjust="spacingAndGlyphs">37.42</text>
<text x="106.6" y="409.43" font-family="Liberation Sans" font-size="11.2" font-weight="bold" stroke="#000" stroke-width="0.15" stroke-linejoin="round" text-anchor="start" fill="#000" textLength="29.4" lengthAdjust="spacingAndGlyphs">33.69</text>
<text x="120.2" y="419.93" font-family="Liberation Sans" font-size="11.2" font-weight="bold" stroke="#000" stroke-width="0.15" stroke-linejoin="round" text-anchor="start" fill="#000" textLength="28.1" lengthAdjust="spacingAndGlyphs">31.14</text>
<text x="45.3" y="403.73" font-family="Liberation Sans" font-size="11.2" font-weight="bold" stroke="#000" stroke-width="0.15" stroke-linejoin="round" text-anchor="start" fill="#000" textLength="28" lengthAdjust="spacingAndGlyphs">32.41</text>
<circle cx="106" cy="353.1" r="3.3" fill="#fff" stroke="#555" stroke-width="0.9"/>
<circle cx="117" cy="355.3" r="3.3" fill="#fff" stroke="#555" stroke-width="0.9"/>
<circle cx="100.9" cy="375.5" r="3.3" fill="#fff" stroke="#555" stroke-width="0.9"/>
<circle cx="106.7" cy="389.4" r="3.3" fill="#fff" stroke="#555" stroke-width="0.9"/>
<circle cx="97.8" cy="405.4" r="3.3" fill="#fff" stroke="#555" stroke-width="0.9"/>
<circle cx="102.7" cy="415.9" r="3.3" fill="#fff" stroke="#555" stroke-width="0.9"/>
<circle cx="70.1" cy="410.1" r="3.3" fill="#fff" stroke="#555" stroke-width="0.9"/>
<rect x="74.9" y="502.6" width="91.1" height="16.8" stroke="#333" stroke-width="1.1" fill="#fff" />
<text x="78.4" y="515.4" font-family="Liberation Sans" font-size="12.2" font-weight="bold" stroke="#000" stroke-width="0.22" stroke-linejoin="round" text-anchor="start" fill="#000" textLength="84.1" lengthAdjust="spacingAndGlyphs">Bottom chord</text>
<rect x="185.3" y="438.5" width="113.9" height="105" stroke="#000" stroke-width="1.6" fill="#fff" />
<path d="M185.7,447.5 L215.1,447.5" fill="none" stroke="#000" stroke-width="3" stroke-linejoin="round"/>
<text x="217.6" y="450.67" font-family="Liberation Sans" font-size="8.8" font-weight="bold" stroke="#000" stroke-width="0.35" stroke-linejoin="round" text-anchor="start" fill="#000" textLength="15.37" lengthAdjust="spacingAndGlyphs">BC</text>
<path d="M185.7,462.1 L215.1,462.1" fill="none" stroke="#0606e8" stroke-width="3" stroke-linejoin="round"/>
<text x="217.6" y="465.27" font-family="Liberation Sans" font-size="8.8" font-weight="bold" stroke="#000" stroke-width="0.35" stroke-linejoin="round" text-anchor="start" fill="#000" textLength="80.4" lengthAdjust="spacingAndGlyphs">B1OM-1.5h-0.2h</text>
<path d="M185.7,476.7 h8.82 M200.4,476.7 h8.82" stroke="#0606e8" stroke-width="3" fill="none"/>
<text x="217.6" y="479.87" font-family="Liberation Sans" font-size="8.8" font-weight="bold" stroke="#000" stroke-width="0.35" stroke-linejoin="round" text-anchor="start" fill="#000" textLength="80.4" lengthAdjust="spacingAndGlyphs">B1OM-1.5h-0.3h</text>
<path d="M185.7,491.3 L215.1,491.3" fill="none" stroke="#0606e8" stroke-width="3" stroke-linejoin="round" stroke-dasharray="0.01 6.1" stroke-linecap="round"/>
<text x="217.6" y="494.47" font-family="Liberation Sans" font-size="8.8" font-weight="bold" stroke="#000" stroke-width="0.35" stroke-linejoin="round" text-anchor="start" fill="#000" textLength="80.4" lengthAdjust="spacingAndGlyphs">B1OM-1.5h-0.4h</text>
<path d="M185.7,505.9 L215.1,505.9" fill="none" stroke="#ee1111" stroke-width="3" stroke-linejoin="round"/>
<text x="217.6" y="509.07" font-family="Liberation Sans" font-size="8.8" font-weight="bold" stroke="#000" stroke-width="0.35" stroke-linejoin="round" text-anchor="start" fill="#000" textLength="80.4" lengthAdjust="spacingAndGlyphs">B1OM-2.0h-0.2h</text>
<path d="M185.7,520.5 h8.82 M200.4,520.5 h8.82" stroke="#ee1111" stroke-width="3" fill="none"/>
<text x="217.6" y="523.67" font-family="Liberation Sans" font-size="8.8" font-weight="bold" stroke="#000" stroke-width="0.35" stroke-linejoin="round" text-anchor="start" fill="#000" textLength="80.4" lengthAdjust="spacingAndGlyphs">B1OM-2.0h-0.3h</text>
<path d="M185.7,535.1 L215.1,535.1" fill="none" stroke="#ee1111" stroke-width="3" stroke-linejoin="round" stroke-dasharray="0.01 6.1" stroke-linecap="round"/>
<text x="217.6" y="538.27" font-family="Liberation Sans" font-size="8.8" font-weight="bold" stroke="#000" stroke-width="0.35" stroke-linejoin="round" text-anchor="start" fill="#000" textLength="80.4" lengthAdjust="spacingAndGlyphs">B1OM-2.0h-0.4h</text>
<path d="M419,543.7 C419.42,542 420.5,537.28 421.5,533.5 C422.5,529.72 423.53,526.22 425,521 C426.47,515.78 428.47,508.78 430.3,502.2 C432.13,495.62 433.95,488.33 436,481.5 C438.05,474.67 440.6,466.37 442.6,461.2 C444.6,456.03 446.18,453.9 448,450.5 C449.82,447.1 451.83,443.67 453.5,440.8 C455.17,437.93 456.15,435.95 458,433.3 C459.85,430.65 462.57,426.77 464.6,424.9 C466.63,423.03 468.33,422.6 470.2,422.1 C472.07,421.6 473.78,421.6 475.8,421.9 C477.82,422.2 479.97,423.1 482.3,423.9 C484.63,424.7 487.2,425.77 489.8,426.7 C492.4,427.63 494.73,428.62 497.9,429.5 C501.07,430.38 505.12,431.32 508.8,432 C512.48,432.68 514.9,433.2 520,433.6 C525.1,434 529.6,434.1 539.4,434.4 C549.2,434.7 555.87,434.93 578.8,435.4 C601.73,435.87 660.63,436.9 677,437.2" fill="none" stroke="#0606e8" stroke-width="3" stroke-linejoin="round"/>
<path d="M419,543.7 C419.37,542 420.27,537.28 421.2,533.5 C422.13,529.72 423.2,526.22 424.6,521 C426,515.78 427.87,508.78 429.6,502.2 C431.33,495.62 433.52,487.03 435,481.5 C436.48,475.97 437.3,473.42 438.5,469 C439.7,464.58 440.88,459.58 442.2,455 C443.52,450.42 444.85,445.67 446.4,441.5 C447.95,437.33 449.9,433.58 451.5,430 C453.1,426.42 453.95,423.42 456,420 C458.05,416.58 460.73,412.75 463.8,409.5 C466.87,406.25 471.38,402.38 474.4,400.5 C477.42,398.62 478.7,398.1 481.9,398.2 C485.1,398.3 490.2,399.88 493.6,401.1 C497,402.32 499.05,404.12 502.3,405.5 C505.55,406.88 509.1,408.37 513.1,409.4 C517.1,410.43 519.73,411.18 526.3,411.7 C532.87,412.22 539.37,412.32 552.5,412.5 C565.63,412.68 584.35,412.57 605.1,412.8 C625.85,413.03 665.02,413.72 677,413.9" fill="none" stroke="#0606e8" stroke-width="3" stroke-linejoin="round" stroke-dasharray="7.5 6.3"/>
<path d="M419,543.7 C419.33,542 420.12,537.28 421,533.5 C421.88,529.72 422.97,526.22 424.3,521 C425.63,515.78 427.45,508.78 429,502.2 C430.55,495.62 432.18,487.37 433.6,481.5 C435.02,475.63 436.08,472.08 437.5,467 C438.92,461.92 440.7,455.68 442.1,451 C443.5,446.32 444.65,442.95 445.9,438.9 C447.15,434.85 448.05,431.53 449.6,426.7 C451.15,421.87 453.48,414.57 455.2,409.9 C456.92,405.23 458.18,402.13 459.9,398.7 C461.62,395.27 463.63,392.25 465.5,389.3 C467.37,386.35 468.6,383.4 471.1,381 C473.6,378.6 477.73,376.23 480.5,374.9 C483.27,373.57 484.8,372.63 487.7,373 C490.6,373.37 494.38,375.33 497.9,377.1 C501.42,378.87 505.17,381.78 508.8,383.6 C512.43,385.42 515.92,386.9 519.7,388 C523.48,389.1 526.03,388.75 531.5,390.2 C536.97,391.65 544.62,395.17 552.5,396.7 C560.38,398.23 567.85,398.65 578.8,399.4 C589.75,400.15 601.83,400.53 618.2,401.2 C634.57,401.87 667.2,403.03 677,403.4" fill="none" stroke="#0606e8" stroke-width="3" stroke-linejoin="round" stroke-dasharray="0.01 5.85" stroke-linecap="round"/>
<path d="M419,543.7 C419.42,542 420.5,537.28 421.5,533.5 C422.5,529.72 423.53,526.22 425,521 C426.47,515.78 428.47,508.78 430.3,502.2 C432.13,495.62 433.97,488.42 436,481.5 C438.03,474.58 439.98,467.62 442.5,460.7 C445.02,453.78 448.82,445.03 451.1,440 C453.38,434.97 454.27,433.65 456.2,430.5 C458.13,427.35 460.52,423.45 462.7,421.1 C464.88,418.75 466.97,417.57 469.3,416.4 C471.63,415.23 474.92,414.5 476.7,414.1 C478.48,413.7 477.92,413.32 480,414 C482.08,414.68 485.48,416.62 489.2,418.2 C492.92,419.78 497.93,422.27 502.3,423.5 C506.67,424.73 509.22,425.02 515.4,425.6 C521.58,426.18 528.83,426.55 539.4,427 C549.97,427.45 555.87,427.77 578.8,428.3 C601.73,428.83 660.63,429.88 677,430.2" fill="none" stroke="#ee1111" stroke-width="3" stroke-linejoin="round"/>
<path d="M419,543.7 C419.35,542 420.18,537.28 421.1,533.5 C422.02,529.72 423.13,526.22 424.5,521 C425.87,515.78 427.63,508.78 429.3,502.2 C430.97,495.62 433.12,486.87 434.5,481.5 C435.88,476.13 436.42,474.42 437.6,470 C438.78,465.58 440.2,459.67 441.6,455 C443,450.33 444.52,446 446,442 C447.48,438 449.12,434.83 450.5,431 C451.88,427.17 452.72,423.17 454.3,419 C455.88,414.83 457.97,410 460,406 C462.03,402 463.95,398.57 466.5,395 C469.05,391.43 472.72,386.85 475.3,384.6 C477.88,382.35 479.68,382.2 482,381.5 C484.32,380.8 485.82,380.05 489.2,380.4 C492.58,380.75 498.3,382.33 502.3,383.6 C506.3,384.87 509.57,386.85 513.2,388 C516.83,389.15 520.17,389.78 524.1,390.5 C528.03,391.22 531.18,391.7 536.8,392.3 C542.42,392.9 546.42,393.58 557.8,394.1 C569.18,394.62 585.23,395.03 605.1,395.4 C624.97,395.77 665.02,396.15 677,396.3" fill="none" stroke="#ee1111" stroke-width="3" stroke-linejoin="round" stroke-dasharray="7.5 6.3"/>
<path d="M419,543.7 C419.32,542 420.03,537.28 420.9,533.5 C421.77,529.72 422.88,526.22 424.2,521 C425.52,515.78 427.3,508.78 428.8,502.2 C430.3,495.62 431.92,487.2 433.2,481.5 C434.48,475.8 435.32,472.33 436.5,468 C437.68,463.67 439.02,460.33 440.3,455.5 C441.58,450.67 442.88,444.17 444.2,439 C445.52,433.83 446.83,428.88 448.2,424.5 C449.57,420.12 451.07,416.53 452.4,412.7 C453.73,408.87 454.95,405.23 456.2,401.5 C457.45,397.77 458.68,393.63 459.9,390.3 C461.12,386.97 462.25,384.43 463.5,381.5 C464.75,378.57 465.3,376.35 467.4,372.7 C469.5,369.05 473.2,363.05 476.1,359.6 C479,356.15 481.35,354.05 484.8,352 C488.25,349.95 492.43,347.67 496.8,347.3 C501.17,346.93 506.45,348.28 511,349.8 C515.55,351.32 520.68,354.93 524.1,356.4 C527.52,357.87 528.07,357.35 531.5,358.6 C534.93,359.85 540.32,362.37 544.7,363.9 C549.08,365.43 552.12,366.92 557.8,367.8 C563.48,368.68 568.73,368.85 578.8,369.2 C588.87,369.55 601.83,369.45 618.2,369.9 C634.57,370.35 667.2,371.57 677,371.9" fill="none" stroke="#ee1111" stroke-width="3" stroke-linejoin="round" stroke-dasharray="0.01 5.85" stroke-linecap="round"/>
<line x1="415" y1="336.2" x2="677" y2="336.2" stroke="#000" stroke-width="1.8" />
<line x1="677" y1="336.2" x2="677" y2="544.7" stroke="#000" stroke-width="1.8" />
<line x1="419" y1="335.4" x2="419" y2="544.7" stroke="#000" stroke-width="2.2" />
<line x1="415.5" y1="543.7" x2="419" y2="543.7" stroke="#000" stroke-width="1.6" />
<text x="412.2" y="547.77" font-family="Liberation Sans" font-size="11.3" font-weight="bold" stroke="#000" stroke-width="0.22" stroke-linejoin="round" text-anchor="end" fill="#000" textLength="6.6" lengthAdjust="spacingAndGlyphs">0</text>
<line x1="415.5" y1="517.76" x2="419" y2="517.76" stroke="#000" stroke-width="1.6" />
<text x="412.2" y="521.83" font-family="Liberation Sans" font-size="11.3" font-weight="bold" stroke="#000" stroke-width="0.22" stroke-linejoin="round" text-anchor="end" fill="#000" textLength="13.2" lengthAdjust="spacingAndGlyphs">20</text>
<line x1="415.5" y1="491.83" x2="419" y2="491.83" stroke="#000" stroke-width="1.6" />
<text x="412.2" y="495.89" font-family="Liberation Sans" font-size="11.3" font-weight="bold" stroke="#000" stroke-width="0.22" stroke-linejoin="round" text-anchor="end" fill="#000" textLength="13.2" lengthAdjust="spacingAndGlyphs">40</text>
<line x1="415.5" y1="465.89" x2="419" y2="465.89" stroke="#000" stroke-width="1.6" />
<text x="412.2" y="469.96" font-family="Liberation Sans" font-size="11.3" font-weight="bold" stroke="#000" stroke-width="0.22" stroke-linejoin="round" text-anchor="end" fill="#000" textLength="13.2" lengthAdjust="spacingAndGlyphs">60</text>
<line x1="415.5" y1="439.95" x2="419" y2="439.95" stroke="#000" stroke-width="1.6" />
<text x="412.2" y="444.02" font-family="Liberation Sans" font-size="11.3" font-weight="bold" stroke="#000" stroke-width="0.22" stroke-linejoin="round" text-anchor="end" fill="#000" textLength="13.2" lengthAdjust="spacingAndGlyphs">80</text>
<line x1="415.5" y1="414.01" x2="419" y2="414.01" stroke="#000" stroke-width="1.6" />
<text x="412.2" y="418.08" font-family="Liberation Sans" font-size="11.3" font-weight="bold" stroke="#000" stroke-width="0.22" stroke-linejoin="round" text-anchor="end" fill="#000" textLength="19.8" lengthAdjust="spacingAndGlyphs">100</text>
<line x1="415.5" y1="388.07" x2="419" y2="388.07" stroke="#000" stroke-width="1.6" />
<text x="412.2" y="392.14" font-family="Liberation Sans" font-size="11.3" font-weight="bold" stroke="#000" stroke-width="0.22" stroke-linejoin="round" text-anchor="end" fill="#000" textLength="19.8" lengthAdjust="spacingAndGlyphs">120</text>
<line x1="415.5" y1="362.14" x2="419" y2="362.14" stroke="#000" stroke-width="1.6" />
<text x="412.2" y="366.21" font-family="Liberation Sans" font-size="11.3" font-weight="bold" stroke="#000" stroke-width="0.22" stroke-linejoin="round" text-anchor="end" fill="#000" textLength="19.8" lengthAdjust="spacingAndGlyphs">140</text>
<line x1="415.5" y1="336.2" x2="419" y2="336.2" stroke="#000" stroke-width="1.6" />
<text x="412.2" y="340.27" font-family="Liberation Sans" font-size="11.3" font-weight="bold" stroke="#000" stroke-width="0.22" stroke-linejoin="round" text-anchor="end" fill="#000" textLength="19.8" lengthAdjust="spacingAndGlyphs">160</text>
<line x1="417" y1="539.38" x2="419" y2="539.38" stroke="#000" stroke-width="1" />
<line x1="417" y1="535.05" x2="419" y2="535.05" stroke="#000" stroke-width="1" />
<line x1="417" y1="530.73" x2="419" y2="530.73" stroke="#000" stroke-width="1" />
<line x1="417" y1="526.41" x2="419" y2="526.41" stroke="#000" stroke-width="1" />
<line x1="417" y1="522.09" x2="419" y2="522.09" stroke="#000" stroke-width="1" />
<line x1="417" y1="513.44" x2="419" y2="513.44" stroke="#000" stroke-width="1" />
<line x1="417" y1="509.12" x2="419" y2="509.12" stroke="#000" stroke-width="1" />
<line x1="417" y1="504.79" x2="419" y2="504.79" stroke="#000" stroke-width="1" />
<line x1="417" y1="500.47" x2="419" y2="500.47" stroke="#000" stroke-width="1" />
<line x1="417" y1="496.15" x2="419" y2="496.15" stroke="#000" stroke-width="1" />
<line x1="417" y1="487.5" x2="419" y2="487.5" stroke="#000" stroke-width="1" />
<line x1="417" y1="483.18" x2="419" y2="483.18" stroke="#000" stroke-width="1" />
<line x1="417" y1="478.86" x2="419" y2="478.86" stroke="#000" stroke-width="1" />
<line x1="417" y1="474.53" x2="419" y2="474.53" stroke="#000" stroke-width="1" />
<line x1="417" y1="470.21" x2="419" y2="470.21" stroke="#000" stroke-width="1" />
<line x1="417" y1="461.56" x2="419" y2="461.56" stroke="#000" stroke-width="1" />
<line x1="417" y1="457.24" x2="419" y2="457.24" stroke="#000" stroke-width="1" />
<line x1="417" y1="452.92" x2="419" y2="452.92" stroke="#000" stroke-width="1" />
<line x1="417" y1="448.6" x2="419" y2="448.6" stroke="#000" stroke-width="1" />
<line x1="417" y1="444.27" x2="419" y2="444.27" stroke="#000" stroke-width="1" />
<line x1="417" y1="435.63" x2="419" y2="435.63" stroke="#000" stroke-width="1" />
<line x1="417" y1="431.3" x2="419" y2="431.3" stroke="#000" stroke-width="1" />
<line x1="417" y1="426.98" x2="419" y2="426.98" stroke="#000" stroke-width="1" />
<line x1="417" y1="422.66" x2="419" y2="422.66" stroke="#000" stroke-width="1" />
<line x1="417" y1="418.34" x2="419" y2="418.34" stroke="#000" stroke-width="1" />
<line x1="417" y1="409.69" x2="419" y2="409.69" stroke="#000" stroke-width="1" />
<line x1="417" y1="405.37" x2="419" y2="405.37" stroke="#000" stroke-width="1" />
<line x1="417" y1="401.04" x2="419" y2="401.04" stroke="#000" stroke-width="1" />
<line x1="417" y1="396.72" x2="419" y2="396.72" stroke="#000" stroke-width="1" />
<line x1="417" y1="392.4" x2="419" y2="392.4" stroke="#000" stroke-width="1" />
<line x1="417" y1="383.75" x2="419" y2="383.75" stroke="#000" stroke-width="1" />
<line x1="417" y1="379.43" x2="419" y2="379.43" stroke="#000" stroke-width="1" />
<line x1="417" y1="375.11" x2="419" y2="375.11" stroke="#000" stroke-width="1" />
<line x1="417" y1="370.78" x2="419" y2="370.78" stroke="#000" stroke-width="1" />
<line x1="417" y1="366.46" x2="419" y2="366.46" stroke="#000" stroke-width="1" />
<line x1="417" y1="357.81" x2="419" y2="357.81" stroke="#000" stroke-width="1" />
<line x1="417" y1="353.49" x2="419" y2="353.49" stroke="#000" stroke-width="1" />
<line x1="417" y1="349.17" x2="419" y2="349.17" stroke="#000" stroke-width="1" />
<line x1="417" y1="344.85" x2="419" y2="344.85" stroke="#000" stroke-width="1" />
<line x1="417" y1="340.52" x2="419" y2="340.52" stroke="#000" stroke-width="1" />
<line x1="418" y1="543.7" x2="677.8" y2="543.7" stroke="#000" stroke-width="2.2" />
<line x1="419" y1="543.7" x2="419" y2="547.2" stroke="#000" stroke-width="1.6" />
<text transform="translate(423.4 551) rotate(-90)" font-family="Liberation Sans" font-size="12.5" font-weight="bold" stroke="#000" stroke-width="0.22" stroke-linejoin="round" text-anchor="end" fill="#000" textLength="6.25" lengthAdjust="spacingAndGlyphs">0</text>
<line x1="431.9" y1="543.7" x2="431.9" y2="547.2" stroke="#000" stroke-width="1.6" />
<text transform="translate(436.3 551) rotate(-90)" font-family="Liberation Sans" font-size="12.5" font-weight="bold" stroke="#000" stroke-width="0.22" stroke-linejoin="round" text-anchor="end" fill="#000" textLength="12.5" lengthAdjust="spacingAndGlyphs">10</text>
<line x1="444.8" y1="543.7" x2="444.8" y2="547.2" stroke="#000" stroke-width="1.6" />
<text transform="translate(449.2 551) rotate(-90)" font-family="Liberation Sans" font-size="12.5" font-weight="bold" stroke="#000" stroke-width="0.22" stroke-linejoin="round" text-anchor="end" fill="#000" textLength="12.5" lengthAdjust="spacingAndGlyphs">20</text>
<line x1="457.7" y1="543.7" x2="457.7" y2="547.2" stroke="#000" stroke-width="1.6" />
<text transform="translate(462.1 551) rotate(-90)" font-family="Liberation Sans" font-size="12.5" font-weight="bold" stroke="#000" stroke-width="0.22" stroke-linejoin="round" text-anchor="end" fill="#000" textLength="12.5" lengthAdjust="spacingAndGlyphs">30</text>
<line x1="470.6" y1="543.7" x2="470.6" y2="547.2" stroke="#000" stroke-width="1.6" />
<text transform="translate(475 551) rotate(-90)" font-family="Liberation Sans" font-size="12.5" font-weight="bold" stroke="#000" stroke-width="0.22" stroke-linejoin="round" text-anchor="end" fill="#000" textLength="12.5" lengthAdjust="spacingAndGlyphs">40</text>
<line x1="483.5" y1="543.7" x2="483.5" y2="547.2" stroke="#000" stroke-width="1.6" />
<text transform="translate(487.9 551) rotate(-90)" font-family="Liberation Sans" font-size="12.5" font-weight="bold" stroke="#000" stroke-width="0.22" stroke-linejoin="round" text-anchor="end" fill="#000" textLength="12.5" lengthAdjust="spacingAndGlyphs">50</text>
<line x1="496.4" y1="543.7" x2="496.4" y2="547.2" stroke="#000" stroke-width="1.6" />
<text transform="translate(500.8 551) rotate(-90)" font-family="Liberation Sans" font-size="12.5" font-weight="bold" stroke="#000" stroke-width="0.22" stroke-linejoin="round" text-anchor="end" fill="#000" textLength="12.5" lengthAdjust="spacingAndGlyphs">60</text>
<line x1="509.3" y1="543.7" x2="509.3" y2="547.2" stroke="#000" stroke-width="1.6" />
<text transform="translate(513.7 551) rotate(-90)" font-family="Liberation Sans" font-size="12.5" font-weight="bold" stroke="#000" stroke-width="0.22" stroke-linejoin="round" text-anchor="end" fill="#000" textLength="12.5" lengthAdjust="spacingAndGlyphs">70</text>
<line x1="522.2" y1="543.7" x2="522.2" y2="547.2" stroke="#000" stroke-width="1.6" />
<text transform="translate(526.6 551) rotate(-90)" font-family="Liberation Sans" font-size="12.5" font-weight="bold" stroke="#000" stroke-width="0.22" stroke-linejoin="round" text-anchor="end" fill="#000" textLength="12.5" lengthAdjust="spacingAndGlyphs">80</text>
<line x1="535.1" y1="543.7" x2="535.1" y2="547.2" stroke="#000" stroke-width="1.6" />
<text transform="translate(539.5 551) rotate(-90)" font-family="Liberation Sans" font-size="12.5" font-weight="bold" stroke="#000" stroke-width="0.22" stroke-linejoin="round" text-anchor="end" fill="#000" textLength="12.5" lengthAdjust="spacingAndGlyphs">90</text>
<line x1="548" y1="543.7" x2="548" y2="547.2" stroke="#000" stroke-width="1.6" />
<text transform="translate(552.4 551) rotate(-90)" font-family="Liberation Sans" font-size="12.5" font-weight="bold" stroke="#000" stroke-width="0.22" stroke-linejoin="round" text-anchor="end" fill="#000" textLength="18.75" lengthAdjust="spacingAndGlyphs">100</text>
<line x1="560.9" y1="543.7" x2="560.9" y2="547.2" stroke="#000" stroke-width="1.6" />
<text transform="translate(565.3 551) rotate(-90)" font-family="Liberation Sans" font-size="12.5" font-weight="bold" stroke="#000" stroke-width="0.22" stroke-linejoin="round" text-anchor="end" fill="#000" textLength="18.75" lengthAdjust="spacingAndGlyphs">110</text>
<line x1="573.8" y1="543.7" x2="573.8" y2="547.2" stroke="#000" stroke-width="1.6" />
<text transform="translate(578.2 551) rotate(-90)" font-family="Liberation Sans" font-size="12.5" font-weight="bold" stroke="#000" stroke-width="0.22" stroke-linejoin="round" text-anchor="end" fill="#000" textLength="18.75" lengthAdjust="spacingAndGlyphs">120</text>
<line x1="586.7" y1="543.7" x2="586.7" y2="547.2" stroke="#000" stroke-width="1.6" />
<text transform="translate(591.1 551) rotate(-90)" font-family="Liberation Sans" font-size="12.5" font-weight="bold" stroke="#000" stroke-width="0.22" stroke-linejoin="round" text-anchor="end" fill="#000" textLength="18.75" lengthAdjust="spacingAndGlyphs">130</text>
<line x1="599.6" y1="543.7" x2="599.6" y2="547.2" stroke="#000" stroke-width="1.6" />
<text transform="translate(604 551) rotate(-90)" font-family="Liberation Sans" font-size="12.5" font-weight="bold" stroke="#000" stroke-width="0.22" stroke-linejoin="round" text-anchor="end" fill="#000" textLength="18.75" lengthAdjust="spacingAndGlyphs">140</text>
<line x1="612.5" y1="543.7" x2="612.5" y2="547.2" stroke="#000" stroke-width="1.6" />
<text transform="translate(616.9 551) rotate(-90)" font-family="Liberation Sans" font-size="12.5" font-weight="bold" stroke="#000" stroke-width="0.22" stroke-linejoin="round" text-anchor="end" fill="#000" textLength="18.75" lengthAdjust="spacingAndGlyphs">150</text>
<line x1="625.4" y1="543.7" x2="625.4" y2="547.2" stroke="#000" stroke-width="1.6" />
<text transform="translate(629.8 551) rotate(-90)" font-family="Liberation Sans" font-size="12.5" font-weight="bold" stroke="#000" stroke-width="0.22" stroke-linejoin="round" text-anchor="end" fill="#000" textLength="18.75" lengthAdjust="spacingAndGlyphs">160</text>
<line x1="638.3" y1="543.7" x2="638.3" y2="547.2" stroke="#000" stroke-width="1.6" />
<text transform="translate(642.7 551) rotate(-90)" font-family="Liberation Sans" font-size="12.5" font-weight="bold" stroke="#000" stroke-width="0.22" stroke-linejoin="round" text-anchor="end" fill="#000" textLength="18.75" lengthAdjust="spacingAndGlyphs">170</text>
<line x1="651.2" y1="543.7" x2="651.2" y2="547.2" stroke="#000" stroke-width="1.6" />
<text transform="translate(655.6 551) rotate(-90)" font-family="Liberation Sans" font-size="12.5" font-weight="bold" stroke="#000" stroke-width="0.22" stroke-linejoin="round" text-anchor="end" fill="#000" textLength="18.75" lengthAdjust="spacingAndGlyphs">180</text>
<line x1="664.1" y1="543.7" x2="664.1" y2="547.2" stroke="#000" stroke-width="1.6" />
<text transform="translate(668.5 551) rotate(-90)" font-family="Liberation Sans" font-size="12.5" font-weight="bold" stroke="#000" stroke-width="0.22" stroke-linejoin="round" text-anchor="end" fill="#000" textLength="18.75" lengthAdjust="spacingAndGlyphs">190</text>
<line x1="677" y1="543.7" x2="677" y2="547.2" stroke="#000" stroke-width="1.6" />
<text transform="translate(681.4 551) rotate(-90)" font-family="Liberation Sans" font-size="12.5" font-weight="bold" stroke="#000" stroke-width="0.22" stroke-linejoin="round" text-anchor="end" fill="#000" textLength="18.75" lengthAdjust="spacingAndGlyphs">200</text>
<line x1="425.45" y1="543.7" x2="425.45" y2="545.7" stroke="#000" stroke-width="1" />
<line x1="438.35" y1="543.7" x2="438.35" y2="545.7" stroke="#000" stroke-width="1" />
<line x1="451.25" y1="543.7" x2="451.25" y2="545.7" stroke="#000" stroke-width="1" />
<line x1="464.15" y1="543.7" x2="464.15" y2="545.7" stroke="#000" stroke-width="1" />
<line x1="477.05" y1="543.7" x2="477.05" y2="545.7" stroke="#000" stroke-width="1" />
<line x1="489.95" y1="543.7" x2="489.95" y2="545.7" stroke="#000" stroke-width="1" />
<line x1="502.85" y1="543.7" x2="502.85" y2="545.7" stroke="#000" stroke-width="1" />
<line x1="515.75" y1="543.7" x2="515.75" y2="545.7" stroke="#000" stroke-width="1" />
<line x1="528.65" y1="543.7" x2="528.65" y2="545.7" stroke="#000" stroke-width="1" />
<line x1="541.55" y1="543.7" x2="541.55" y2="545.7" stroke="#000" stroke-width="1" />
<line x1="554.45" y1="543.7" x2="554.45" y2="545.7" stroke="#000" stroke-width="1" />
<line x1="567.35" y1="543.7" x2="567.35" y2="545.7" stroke="#000" stroke-width="1" />
<line x1="580.25" y1="543.7" x2="580.25" y2="545.7" stroke="#000" stroke-width="1" />
<line x1="593.15" y1="543.7" x2="593.15" y2="545.7" stroke="#000" stroke-width="1" />
<line x1="606.05" y1="543.7" x2="606.05" y2="545.7" stroke="#000" stroke-width="1" />
<line x1="618.95" y1="543.7" x2="618.95" y2="545.7" stroke="#000" stroke-width="1" />
<line x1="631.85" y1="543.7" x2="631.85" y2="545.7" stroke="#000" stroke-width="1" />
<line x1="644.75" y1="543.7" x2="644.75" y2="545.7" stroke="#000" stroke-width="1" />
<line x1="657.65" y1="543.7" x2="657.65" y2="545.7" stroke="#000" stroke-width="1" />
<line x1="670.55" y1="543.7" x2="670.55" y2="545.7" stroke="#000" stroke-width="1" />
<text transform="translate(384.9 439.4) rotate(-90)" font-family="Liberation Sans" font-size="12.4" font-weight="bold" stroke="#000" stroke-width="0.4" stroke-linejoin="round" text-anchor="middle" fill="#000" textLength="118.2" lengthAdjust="spacingAndGlyphs">Deflection (mm)</text>
<text x="511.4" y="584.6" font-family="Liberation Sans" font-size="12.6" font-weight="bold" stroke="#000" stroke-width="0.4" stroke-linejoin="round" text-anchor="start" fill="#000" textLength="73.3" lengthAdjust="spacingAndGlyphs">Time (ms)</text>
<line x1="460.6" y1="372.6" x2="484" y2="372.6" stroke="#555" stroke-width="0.9" />
<line x1="451.4" y1="413.9" x2="476.3" y2="413.9" stroke="#555" stroke-width="0.9" />
<line x1="500" y1="347.3" x2="516.5" y2="347.3" stroke="#555" stroke-width="0.9" />
<line x1="491.5" y1="380.3" x2="518.6" y2="380.3" stroke="#555" stroke-width="0.9" />
<line x1="485.8" y1="398.2" x2="499" y2="398.2" stroke="#555" stroke-width="0.9" />
<line x1="479" y1="422.2" x2="496.2" y2="422.2" stroke="#555" stroke-width="0.9" />
<text x="433.3" y="376.93" font-family="Liberation Sans" font-size="11.2" font-weight="bold" stroke="#000" stroke-width="0.15" stroke-linejoin="round" text-anchor="start" fill="#000" textLength="26.8" lengthAdjust="spacingAndGlyphs">131.6</text>
<text x="421.9" y="418.03" font-family="Liberation Sans" font-size="11.2" font-weight="bold" stroke="#000" stroke-width="0.15" stroke-linejoin="round" text-anchor="start" fill="#000" textLength="28.5" lengthAdjust="spacingAndGlyphs">99.72</text>
<text x="517.9" y="351.23" font-family="Liberation Sans" font-size="11.2" font-weight="bold" stroke="#000" stroke-width="0.15" stroke-linejoin="round" text-anchor="start" fill="#000" textLength="36" lengthAdjust="spacingAndGlyphs">151.25</text>
<text x="519.5" y="384.33" font-family="Liberation Sans" font-size="11.2" font-weight="bold" stroke="#000" stroke-width="0.15" stroke-linejoin="round" text-anchor="start" fill="#000" textLength="35" lengthAdjust="spacingAndGlyphs">125.76</text>
<text x="499" y="402.33" font-family="Liberation Sans" font-size="11.2" font-weight="bold" stroke="#000" stroke-width="0.15" stroke-linejoin="round" text-anchor="start" fill="#000" textLength="35.7" lengthAdjust="spacingAndGlyphs">111.94</text>
<text x="496.8" y="426.43" font-family="Liberation Sans" font-size="11.2" font-weight="bold" stroke="#000" stroke-width="0.15" stroke-linejoin="round" text-anchor="start" fill="#000" textLength="28.7" lengthAdjust="spacingAndGlyphs">93.34</text>
<circle cx="487.5" cy="372.6" r="3.3" fill="#fff" stroke="#555" stroke-width="0.9"/>
<circle cx="479.8" cy="413.9" r="3.3" fill="#fff" stroke="#555" stroke-width="0.9"/>
<circle cx="496.8" cy="347.3" r="3.3" fill="#fff" stroke="#555" stroke-width="0.9"/>
<circle cx="488.5" cy="380.3" r="3.3" fill="#fff" stroke="#555" stroke-width="0.9"/>
<circle cx="482.5" cy="398" r="3.3" fill="#fff" stroke="#555" stroke-width="0.9"/>
<circle cx="475.9" cy="422.2" r="3.3" fill="#fff" stroke="#555" stroke-width="0.9"/>
<rect x="460.2" y="489.5" width="70.1" height="17.1" stroke="#333" stroke-width="1.1" fill="#fff" />
<text x="464.3" y="502.2" font-family="Liberation Sans" font-size="12.2" font-weight="bold" stroke="#000" stroke-width="0.22" stroke-linejoin="round" text-anchor="start" fill="#000" textLength="61.3" lengthAdjust="spacingAndGlyphs">Top chord</text>
<rect x="561.6" y="446.6" width="111.4" height="87.4" stroke="#000" stroke-width="1.6" fill="#fff" />
<path d="M561.6,454.2 L590.1,454.2" fill="none" stroke="#0606e8" stroke-width="3" stroke-linejoin="round"/>
<text x="593" y="457.37" font-family="Liberation Sans" font-size="8.8" font-weight="bold" stroke="#000" stroke-width="0.35" stroke-linejoin="round" text-anchor="start" fill="#000" textLength="77.8" lengthAdjust="spacingAndGlyphs">B1OM-1.5h-0.2h</text>
<path d="M561.6,468.8 h8.55 M575.85,468.8 h8.55" stroke="#0606e8" stroke-width="3" fill="none"/>
<text x="593" y="471.97" font-family="Liberation Sans" font-size="8.8" font-weight="bold" stroke="#000" stroke-width="0.35" stroke-linejoin="round" text-anchor="start" fill="#000" textLength="77.8" lengthAdjust="spacingAndGlyphs">B1OM-1.5h-0.3h</text>
<path d="M561.6,483.4 L590.1,483.4" fill="none" stroke="#0606e8" stroke-width="3" stroke-linejoin="round" stroke-dasharray="0.01 6.1" stroke-linecap="round"/>
<text x="593" y="486.57" font-family="Liberation Sans" font-size="8.8" font-weight="bold" stroke="#000" stroke-width="0.35" stroke-linejoin="round" text-anchor="start" fill="#000" textLength="77.8" lengthAdjust="spacingAndGlyphs">B1OM-1.5h-0.4h</text>
<path d="M561.6,498 L590.1,498" fill="none" stroke="#ee1111" stroke-width="3" stroke-linejoin="round"/>
<text x="593" y="501.17" font-family="Liberation Sans" font-size="8.8" font-weight="bold" stroke="#000" stroke-width="0.35" stroke-linejoin="round" text-anchor="start" fill="#000" textLength="77.8" lengthAdjust="spacingAndGlyphs">B1OM-2.0h-0.2h</text>
<path d="M561.6,512.6 h8.55 M575.85,512.6 h8.55" stroke="#ee1111" stroke-width="3" fill="none"/>
<text x="593" y="515.77" font-family="Liberation Sans" font-size="8.8" font-weight="bold" stroke="#000" stroke-width="0.35" stroke-linejoin="round" text-anchor="start" fill="#000" textLength="77.8" lengthAdjust="spacingAndGlyphs">B1OM-2.0h-0.3h</text>
<path d="M561.6,527.2 L590.1,527.2" fill="none" stroke="#ee1111" stroke-width="3" stroke-linejoin="round" stroke-dasharray="0.01 6.1" stroke-linecap="round"/>
<text x="593" y="530.37" font-family="Liberation Sans" font-size="8.8" font-weight="bold" stroke="#000" stroke-width="0.35" stroke-linejoin="round" text-anchor="start" fill="#000" textLength="77.8" lengthAdjust="spacingAndGlyphs">B1OM-2.0h-0.4h</text>
<path d="M39.5,894.4 C39.75,894.25 40.27,897.92 41,893.5 C41.73,889.08 42.92,877.1 43.9,867.9 C44.88,858.7 45.92,848.17 46.9,838.3 C47.88,828.43 48.82,817.58 49.8,808.7 C50.78,799.82 51.8,792.57 52.8,785 C53.8,777.43 54.82,769.88 55.8,763.3 C56.78,756.72 57.55,750.77 58.7,745.5 C59.85,740.23 61.38,735.15 62.7,731.7 C64.02,728.25 65.28,726.38 66.6,724.8 C67.92,723.22 69.12,722.37 70.6,722.2 C72.08,722.03 73.87,722.22 75.5,723.8 C77.13,725.38 78.75,728.5 80.4,731.7 C82.05,734.9 83.48,736.62 85.4,743 C87.32,749.38 89.6,762.28 91.9,770 C94.2,777.72 96.78,784.88 99.2,789.3 C101.62,793.72 103.82,796.17 106.4,796.5 C108.98,796.83 112.27,793.3 114.7,791.3 C117.13,789.3 118.57,786.28 121,784.5 C123.43,782.72 126.17,780.43 129.3,780.6 C132.43,780.77 136.3,783.5 139.8,785.5 C143.3,787.5 146.5,791.72 150.3,792.6 C154.1,793.48 158.22,791.53 162.6,790.8 C166.98,790.07 172.52,788.43 176.6,788.2 C180.68,787.97 184.18,788.97 187.1,789.4 C190.02,789.83 185.28,790.53 194.1,790.8 C202.92,791.07 221.85,790.97 240,791 C258.15,791.03 292.5,791 303,791" fill="none" stroke="#000" stroke-width="3" stroke-linejoin="round"/>
<path d="M39.5,894.4 C40.08,894.33 41.93,894.23 43,894 C44.07,893.77 44.77,897.35 45.9,893 C47.03,888.65 48.48,878 49.8,867.9 C51.12,857.8 52.48,843.92 53.8,832.4 C55.12,820.88 56.38,809.33 57.7,798.8 C59.02,788.27 60.38,777.75 61.7,769.2 C63.02,760.65 64.12,752.63 65.6,747.5 C67.08,742.37 68.62,739.05 70.6,738.4 C72.58,737.75 75.37,741.1 77.5,743.6 C79.63,746.1 81.43,748.67 83.4,753.4 C85.37,758.13 87.33,765.57 89.3,772 C91.27,778.43 93.38,786.33 95.2,792 C97.02,797.67 98.57,802.08 100.2,806 C101.83,809.92 103.45,813.1 105,815.5 C106.55,817.9 108,820.07 109.5,820.4 C111,820.73 112.5,819.23 114,817.5 C115.5,815.77 117.17,812 118.5,810 C119.83,808 120.55,806.88 122,805.5 C123.45,804.12 125.12,802.68 127.2,801.7 C129.28,800.72 132.2,799.55 134.5,799.6 C136.8,799.65 138.67,800.83 141,802 C143.33,803.17 145.2,804.67 148.5,806.6 C151.8,808.53 157.55,812.7 160.8,813.6 C164.05,814.5 165.37,812.73 168,812 C170.63,811.27 172.25,809.97 176.6,809.2 C180.95,808.43 183.53,807.68 194.1,807.4 C204.67,807.12 221.85,807.32 240,807.5 C258.15,807.68 292.5,808.33 303,808.5" fill="none" stroke="#0606e8" stroke-width="3" stroke-linejoin="round"/>
<path d="M39.5,894.4 C40.08,894.33 41.83,894.32 43,894 C44.17,893.68 45.25,896.5 46.5,892.5 C47.75,888.5 49.33,878.75 50.5,870 C51.67,861.25 52.48,850.67 53.5,840 C54.52,829.33 55.38,817.17 56.6,806 C57.82,794.83 59.42,782 60.8,773 C62.18,764 63.7,756.5 64.9,752 C66.1,747.5 66.97,747.23 68,746 C69.03,744.77 69.93,744.6 71.1,744.6 C72.27,744.6 73.62,745.65 75,746 C76.38,746.35 77.9,746.62 79.4,746.7 C80.9,746.78 82.62,746.67 84,746.5 C85.38,746.33 86.03,746.53 87.7,745.7 C89.37,744.87 92.45,741.95 94,741.5 C95.55,741.05 95.97,741.62 97,743 C98.03,744.38 98.63,746.58 100.2,749.8 C101.77,753.02 104.32,758.48 106.4,762.3 C108.48,766.12 110.63,769.92 112.7,772.7 C114.77,775.48 116.75,777.53 118.8,779 C120.85,780.47 122.97,780.92 125,781.5 C127.03,782.08 128.5,782.5 131,782.5 C133.5,782.5 136.2,781.72 140,781.5 C143.8,781.28 144.2,780.97 153.8,781.2 C163.4,781.43 184.9,782.32 197.6,782.9 C210.3,783.48 212.43,784.18 230,784.7 C247.57,785.22 290.83,785.78 303,786" fill="none" stroke="#0606e8" stroke-width="3" stroke-linejoin="round" stroke-dasharray="7.5 6.3"/>
<path d="M39.5,894.4 C40.25,894.33 42.6,894.23 44,894 C45.4,893.77 46.6,899 47.9,893 C49.2,887 50.33,868.77 51.8,858 C53.27,847.23 55.22,837.28 56.7,828.4 C58.18,819.52 59.38,811.6 60.7,804.7 C62.02,797.8 63.45,791.93 64.6,787 C65.75,782.07 66.43,779.72 67.6,775.1 C68.77,770.48 69.95,764.07 71.6,759.3 C73.25,754.53 75.53,749.78 77.5,746.5 C79.47,743.22 81.4,741.93 83.4,739.6 C85.4,737.27 87.22,734.43 89.5,732.5 C91.78,730.57 94.62,727.88 97.1,728 C99.58,728.12 102.25,730.7 104.4,733.2 C106.55,735.7 108.07,740.03 110,743 C111.93,745.97 114.17,748.65 116,751 C117.83,753.35 119.08,755.43 121,757.1 C122.92,758.77 125.17,760.18 127.5,761 C129.83,761.82 132.08,761.77 135,762 C137.92,762.23 137.5,762.22 145,762.4 C152.5,762.58 165.83,762.75 180,763.1 C194.17,763.45 209.5,764.02 230,764.5 C250.5,764.98 290.83,765.75 303,766" fill="none" stroke="#0606e8" stroke-width="3" stroke-linejoin="round" stroke-dasharray="0.01 5.85" stroke-linecap="round"/>
<path d="M39.5,894.4 C40.58,894.37 44.28,894.35 46,894.2 C47.72,894.05 48.67,897.88 49.8,893.5 C50.93,889.12 51.65,878.75 52.8,867.9 C53.95,857.05 55.38,841.57 56.7,828.4 C58.02,815.23 59.38,801.07 60.7,788.9 C62.02,776.73 63.45,764.27 64.6,755.4 C65.75,746.53 66.43,740.47 67.6,735.7 C68.77,730.93 70.28,727.13 71.6,726.8 C72.92,726.47 74.2,731.23 75.5,733.7 C76.8,736.17 77.75,739.47 79.4,741.6 C81.05,743.73 83.75,744.1 85.4,746.5 C87.05,748.9 87.67,751.08 89.3,756 C90.93,760.92 93.38,769.5 95.2,776 C97.02,782.5 98.57,790 100.2,795 C101.83,800 103.27,803.42 105,806 C106.73,808.58 108.77,810.5 110.6,810.5 C112.43,810.5 114.1,808.08 116,806 C117.9,803.92 120,800 122,798 C124,796 125.92,794.9 128,794 C130.08,793.1 132.5,792.52 134.5,792.6 C136.5,792.68 138.25,793.63 140,794.5 C141.75,795.37 142.12,796.37 145,797.8 C147.88,799.23 152.92,802.52 157.3,803.1 C161.68,803.68 166.92,801.88 171.3,801.3 C175.68,800.72 179.8,799.75 183.6,799.6 C187.4,799.45 184.7,800.33 194.1,800.4 C203.5,800.47 221.85,800.15 240,800 C258.15,799.85 292.5,799.58 303,799.5" fill="none" stroke="#ee1111" stroke-width="3" stroke-linejoin="round"/>
<path d="M39.5,894.4 C40.75,894.37 45.02,894.42 47,894.2 C48.98,893.98 49.8,901.25 51.4,893.1 C53,884.95 54.87,861.92 56.6,845.3 C58.33,828.68 60.23,808.28 61.8,793.4 C63.37,778.52 64.45,765.33 66,756 C67.55,746.67 69.55,741.37 71.1,737.4 C72.65,733.43 73.73,731.52 75.3,732.2 C76.87,732.88 78.77,737.53 80.5,741.5 C82.23,745.47 83.97,752.37 85.7,756 C87.43,759.63 89.18,761.9 90.9,763.3 C92.62,764.7 94.1,763.88 96,764.4 C97.9,764.92 99.87,765.2 102.3,766.4 C104.73,767.6 108.32,770.08 110.6,771.6 C112.88,773.12 113.18,774.63 116,775.5 C118.82,776.37 119.73,776.43 127.5,776.8 C135.27,777.17 145.52,777.42 162.6,777.7 C179.68,777.98 206.6,778.28 230,778.5 C253.4,778.72 290.83,778.92 303,779" fill="none" stroke="#ee1111" stroke-width="3" stroke-linejoin="round" stroke-dasharray="7.5 6.3"/>
<path d="M39.5,894.4 C40.75,894.37 45.12,894.35 47,894.2 C48.88,894.05 49.67,897.88 50.8,893.5 C51.93,889.12 52.82,877.1 53.8,867.9 C54.78,858.7 55.72,847.18 56.7,838.3 C57.68,829.42 58.53,821.52 59.7,814.6 C60.87,807.68 62.38,801.08 63.7,796.8 C65.02,792.52 65.97,790.7 67.6,788.9 C69.23,787.1 71.2,786.98 73.5,786 C75.8,785.02 79.15,784.33 81.4,783 C83.65,781.67 85.07,779.83 87,778 C88.93,776.17 90.83,773.75 93,772 C95.17,770.25 97.83,768 100,767.5 C102.17,767 104.17,768.17 106,769 C107.83,769.83 109.33,770.67 111,772.5 C112.67,774.33 114.33,777.42 116,780 C117.67,782.58 119.33,786 121,788 C122.67,790 124.15,790.93 126,792 C127.85,793.07 129.77,794.1 132.1,794.4 C134.43,794.7 137.02,793.97 140,793.8 C142.98,793.63 146.23,793.32 150,793.4 C153.77,793.48 155.25,794 162.6,794.3 C169.95,794.6 181.2,794.75 194.1,795.2 C207,795.65 221.85,796.37 240,797 C258.15,797.63 292.5,798.67 303,799" fill="none" stroke="#ee1111" stroke-width="3" stroke-linejoin="round" stroke-dasharray="0.01 5.85" stroke-linecap="round"/>
<line x1="36" y1="682.3" x2="136" y2="682.3" stroke="#000" stroke-width="1.8" />
<line x1="303.4" y1="757" x2="303.4" y2="895.4" stroke="#000" stroke-width="1.8" />
<line x1="39.5" y1="681.5" x2="39.5" y2="895.4" stroke="#000" stroke-width="2.2" />
<line x1="36" y1="894.4" x2="39.5" y2="894.4" stroke="#000" stroke-width="1.6" />
<text x="32.3" y="898.47" font-family="Liberation Sans" font-size="11.3" font-weight="bold" stroke="#000" stroke-width="0.22" stroke-linejoin="round" text-anchor="end" fill="#000" textLength="6.9" lengthAdjust="spacingAndGlyphs">0</text>
<line x1="36" y1="867.89" x2="39.5" y2="867.89" stroke="#000" stroke-width="1.6" />
<text x="32.3" y="871.96" font-family="Liberation Sans" font-size="11.3" font-weight="bold" stroke="#000" stroke-width="0.22" stroke-linejoin="round" text-anchor="end" fill="#000" textLength="6.9" lengthAdjust="spacingAndGlyphs">5</text>
<line x1="36" y1="841.38" x2="39.5" y2="841.38" stroke="#000" stroke-width="1.6" />
<text x="32.3" y="845.44" font-family="Liberation Sans" font-size="11.3" font-weight="bold" stroke="#000" stroke-width="0.22" stroke-linejoin="round" text-anchor="end" fill="#000" textLength="13.8" lengthAdjust="spacingAndGlyphs">10</text>
<line x1="36" y1="814.86" x2="39.5" y2="814.86" stroke="#000" stroke-width="1.6" />
<text x="32.3" y="818.93" font-family="Liberation Sans" font-size="11.3" font-weight="bold" stroke="#000" stroke-width="0.22" stroke-linejoin="round" text-anchor="end" fill="#000" textLength="13.8" lengthAdjust="spacingAndGlyphs">15</text>
<line x1="36" y1="788.35" x2="39.5" y2="788.35" stroke="#000" stroke-width="1.6" />
<text x="32.3" y="792.42" font-family="Liberation Sans" font-size="11.3" font-weight="bold" stroke="#000" stroke-width="0.22" stroke-linejoin="round" text-anchor="end" fill="#000" textLength="13.8" lengthAdjust="spacingAndGlyphs">20</text>
<line x1="36" y1="761.84" x2="39.5" y2="761.84" stroke="#000" stroke-width="1.6" />
<text x="32.3" y="765.91" font-family="Liberation Sans" font-size="11.3" font-weight="bold" stroke="#000" stroke-width="0.22" stroke-linejoin="round" text-anchor="end" fill="#000" textLength="13.8" lengthAdjust="spacingAndGlyphs">25</text>
<line x1="36" y1="735.32" x2="39.5" y2="735.32" stroke="#000" stroke-width="1.6" />
<text x="32.3" y="739.39" font-family="Liberation Sans" font-size="11.3" font-weight="bold" stroke="#000" stroke-width="0.22" stroke-linejoin="round" text-anchor="end" fill="#000" textLength="13.8" lengthAdjust="spacingAndGlyphs">30</text>
<line x1="36" y1="708.81" x2="39.5" y2="708.81" stroke="#000" stroke-width="1.6" />
<text x="32.3" y="712.88" font-family="Liberation Sans" font-size="11.3" font-weight="bold" stroke="#000" stroke-width="0.22" stroke-linejoin="round" text-anchor="end" fill="#000" textLength="13.8" lengthAdjust="spacingAndGlyphs">35</text>
<line x1="36" y1="682.3" x2="39.5" y2="682.3" stroke="#000" stroke-width="1.6" />
<text x="32.3" y="686.37" font-family="Liberation Sans" font-size="11.3" font-weight="bold" stroke="#000" stroke-width="0.22" stroke-linejoin="round" text-anchor="end" fill="#000" textLength="13.8" lengthAdjust="spacingAndGlyphs">40</text>
<line x1="37.5" y1="889.98" x2="39.5" y2="889.98" stroke="#000" stroke-width="1" />
<line x1="37.5" y1="885.56" x2="39.5" y2="885.56" stroke="#000" stroke-width="1" />
<line x1="37.5" y1="881.14" x2="39.5" y2="881.14" stroke="#000" stroke-width="1" />
<line x1="37.5" y1="876.73" x2="39.5" y2="876.73" stroke="#000" stroke-width="1" />
<line x1="37.5" y1="872.31" x2="39.5" y2="872.31" stroke="#000" stroke-width="1" />
<line x1="37.5" y1="863.47" x2="39.5" y2="863.47" stroke="#000" stroke-width="1" />
<line x1="37.5" y1="859.05" x2="39.5" y2="859.05" stroke="#000" stroke-width="1" />
<line x1="37.5" y1="854.63" x2="39.5" y2="854.63" stroke="#000" stroke-width="1" />
<line x1="37.5" y1="850.21" x2="39.5" y2="850.21" stroke="#000" stroke-width="1" />
<line x1="37.5" y1="845.79" x2="39.5" y2="845.79" stroke="#000" stroke-width="1" />
<line x1="37.5" y1="836.96" x2="39.5" y2="836.96" stroke="#000" stroke-width="1" />
<line x1="37.5" y1="832.54" x2="39.5" y2="832.54" stroke="#000" stroke-width="1" />
<line x1="37.5" y1="828.12" x2="39.5" y2="828.12" stroke="#000" stroke-width="1" />
<line x1="37.5" y1="823.7" x2="39.5" y2="823.7" stroke="#000" stroke-width="1" />
<line x1="37.5" y1="819.28" x2="39.5" y2="819.28" stroke="#000" stroke-width="1" />
<line x1="37.5" y1="810.44" x2="39.5" y2="810.44" stroke="#000" stroke-width="1" />
<line x1="37.5" y1="806.02" x2="39.5" y2="806.02" stroke="#000" stroke-width="1" />
<line x1="37.5" y1="801.61" x2="39.5" y2="801.61" stroke="#000" stroke-width="1" />
<line x1="37.5" y1="797.19" x2="39.5" y2="797.19" stroke="#000" stroke-width="1" />
<line x1="37.5" y1="792.77" x2="39.5" y2="792.77" stroke="#000" stroke-width="1" />
<line x1="37.5" y1="783.93" x2="39.5" y2="783.93" stroke="#000" stroke-width="1" />
<line x1="37.5" y1="779.51" x2="39.5" y2="779.51" stroke="#000" stroke-width="1" />
<line x1="37.5" y1="775.09" x2="39.5" y2="775.09" stroke="#000" stroke-width="1" />
<line x1="37.5" y1="770.67" x2="39.5" y2="770.67" stroke="#000" stroke-width="1" />
<line x1="37.5" y1="766.26" x2="39.5" y2="766.26" stroke="#000" stroke-width="1" />
<line x1="37.5" y1="757.42" x2="39.5" y2="757.42" stroke="#000" stroke-width="1" />
<line x1="37.5" y1="753" x2="39.5" y2="753" stroke="#000" stroke-width="1" />
<line x1="37.5" y1="748.58" x2="39.5" y2="748.58" stroke="#000" stroke-width="1" />
<line x1="37.5" y1="744.16" x2="39.5" y2="744.16" stroke="#000" stroke-width="1" />
<line x1="37.5" y1="739.74" x2="39.5" y2="739.74" stroke="#000" stroke-width="1" />
<line x1="37.5" y1="730.91" x2="39.5" y2="730.91" stroke="#000" stroke-width="1" />
<line x1="37.5" y1="726.49" x2="39.5" y2="726.49" stroke="#000" stroke-width="1" />
<line x1="37.5" y1="722.07" x2="39.5" y2="722.07" stroke="#000" stroke-width="1" />
<line x1="37.5" y1="717.65" x2="39.5" y2="717.65" stroke="#000" stroke-width="1" />
<line x1="37.5" y1="713.23" x2="39.5" y2="713.23" stroke="#000" stroke-width="1" />
<line x1="37.5" y1="704.39" x2="39.5" y2="704.39" stroke="#000" stroke-width="1" />
<line x1="37.5" y1="699.97" x2="39.5" y2="699.97" stroke="#000" stroke-width="1" />
<line x1="37.5" y1="695.56" x2="39.5" y2="695.56" stroke="#000" stroke-width="1" />
<line x1="37.5" y1="691.14" x2="39.5" y2="691.14" stroke="#000" stroke-width="1" />
<line x1="37.5" y1="686.72" x2="39.5" y2="686.72" stroke="#000" stroke-width="1" />
<line x1="38.5" y1="894.4" x2="304.2" y2="894.4" stroke="#000" stroke-width="2.2" />
<line x1="39.5" y1="894.4" x2="39.5" y2="897.9" stroke="#000" stroke-width="1.6" />
<text transform="translate(43.9 901) rotate(-90)" font-family="Liberation Sans" font-size="12.5" font-weight="bold" stroke="#000" stroke-width="0.22" stroke-linejoin="round" text-anchor="end" fill="#000" textLength="6.25" lengthAdjust="spacingAndGlyphs">0</text>
<line x1="52.7" y1="894.4" x2="52.7" y2="897.9" stroke="#000" stroke-width="1.6" />
<text transform="translate(57.09 901) rotate(-90)" font-family="Liberation Sans" font-size="12.5" font-weight="bold" stroke="#000" stroke-width="0.22" stroke-linejoin="round" text-anchor="end" fill="#000" textLength="12.5" lengthAdjust="spacingAndGlyphs">10</text>
<line x1="65.89" y1="894.4" x2="65.89" y2="897.9" stroke="#000" stroke-width="1.6" />
<text transform="translate(70.29 901) rotate(-90)" font-family="Liberation Sans" font-size="12.5" font-weight="bold" stroke="#000" stroke-width="0.22" stroke-linejoin="round" text-anchor="end" fill="#000" textLength="12.5" lengthAdjust="spacingAndGlyphs">20</text>
<line x1="79.08" y1="894.4" x2="79.08" y2="897.9" stroke="#000" stroke-width="1.6" />
<text transform="translate(83.48 901) rotate(-90)" font-family="Liberation Sans" font-size="12.5" font-weight="bold" stroke="#000" stroke-width="0.22" stroke-linejoin="round" text-anchor="end" fill="#000" textLength="12.5" lengthAdjust="spacingAndGlyphs">30</text>
<line x1="92.28" y1="894.4" x2="92.28" y2="897.9" stroke="#000" stroke-width="1.6" />
<text transform="translate(96.68 901) rotate(-90)" font-family="Liberation Sans" font-size="12.5" font-weight="bold" stroke="#000" stroke-width="0.22" stroke-linejoin="round" text-anchor="end" fill="#000" textLength="12.5" lengthAdjust="spacingAndGlyphs">40</text>
<line x1="105.47" y1="894.4" x2="105.47" y2="897.9" stroke="#000" stroke-width="1.6" />
<text transform="translate(109.88 901) rotate(-90)" font-family="Liberation Sans" font-size="12.5" font-weight="bold" stroke="#000" stroke-width="0.22" stroke-linejoin="round" text-anchor="end" fill="#000" textLength="12.5" lengthAdjust="spacingAndGlyphs">50</text>
<line x1="118.67" y1="894.4" x2="118.67" y2="897.9" stroke="#000" stroke-width="1.6" />
<text transform="translate(123.07 901) rotate(-90)" font-family="Liberation Sans" font-size="12.5" font-weight="bold" stroke="#000" stroke-width="0.22" stroke-linejoin="round" text-anchor="end" fill="#000" textLength="12.5" lengthAdjust="spacingAndGlyphs">60</text>
<line x1="131.87" y1="894.4" x2="131.87" y2="897.9" stroke="#000" stroke-width="1.6" />
<text transform="translate(136.27 901) rotate(-90)" font-family="Liberation Sans" font-size="12.5" font-weight="bold" stroke="#000" stroke-width="0.22" stroke-linejoin="round" text-anchor="end" fill="#000" textLength="12.5" lengthAdjust="spacingAndGlyphs">70</text>
<line x1="145.06" y1="894.4" x2="145.06" y2="897.9" stroke="#000" stroke-width="1.6" />
<text transform="translate(149.46 901) rotate(-90)" font-family="Liberation Sans" font-size="12.5" font-weight="bold" stroke="#000" stroke-width="0.22" stroke-linejoin="round" text-anchor="end" fill="#000" textLength="12.5" lengthAdjust="spacingAndGlyphs">80</text>
<line x1="158.25" y1="894.4" x2="158.25" y2="897.9" stroke="#000" stroke-width="1.6" />
<text transform="translate(162.66 901) rotate(-90)" font-family="Liberation Sans" font-size="12.5" font-weight="bold" stroke="#000" stroke-width="0.22" stroke-linejoin="round" text-anchor="end" fill="#000" textLength="12.5" lengthAdjust="spacingAndGlyphs">90</text>
<line x1="171.45" y1="894.4" x2="171.45" y2="897.9" stroke="#000" stroke-width="1.6" />
<text transform="translate(175.85 901) rotate(-90)" font-family="Liberation Sans" font-size="12.5" font-weight="bold" stroke="#000" stroke-width="0.22" stroke-linejoin="round" text-anchor="end" fill="#000" textLength="18.75" lengthAdjust="spacingAndGlyphs">100</text>
<line x1="184.64" y1="894.4" x2="184.64" y2="897.9" stroke="#000" stroke-width="1.6" />
<text transform="translate(189.04 901) rotate(-90)" font-family="Liberation Sans" font-size="12.5" font-weight="bold" stroke="#000" stroke-width="0.22" stroke-linejoin="round" text-anchor="end" fill="#000" textLength="18.75" lengthAdjust="spacingAndGlyphs">110</text>
<line x1="197.84" y1="894.4" x2="197.84" y2="897.9" stroke="#000" stroke-width="1.6" />
<text transform="translate(202.24 901) rotate(-90)" font-family="Liberation Sans" font-size="12.5" font-weight="bold" stroke="#000" stroke-width="0.22" stroke-linejoin="round" text-anchor="end" fill="#000" textLength="18.75" lengthAdjust="spacingAndGlyphs">120</text>
<line x1="211.03" y1="894.4" x2="211.03" y2="897.9" stroke="#000" stroke-width="1.6" />
<text transform="translate(215.44 901) rotate(-90)" font-family="Liberation Sans" font-size="12.5" font-weight="bold" stroke="#000" stroke-width="0.22" stroke-linejoin="round" text-anchor="end" fill="#000" textLength="18.75" lengthAdjust="spacingAndGlyphs">130</text>
<line x1="224.23" y1="894.4" x2="224.23" y2="897.9" stroke="#000" stroke-width="1.6" />
<text transform="translate(228.63 901) rotate(-90)" font-family="Liberation Sans" font-size="12.5" font-weight="bold" stroke="#000" stroke-width="0.22" stroke-linejoin="round" text-anchor="end" fill="#000" textLength="18.75" lengthAdjust="spacingAndGlyphs">140</text>
<line x1="237.43" y1="894.4" x2="237.43" y2="897.9" stroke="#000" stroke-width="1.6" />
<text transform="translate(241.83 901) rotate(-90)" font-family="Liberation Sans" font-size="12.5" font-weight="bold" stroke="#000" stroke-width="0.22" stroke-linejoin="round" text-anchor="end" fill="#000" textLength="18.75" lengthAdjust="spacingAndGlyphs">150</text>
<line x1="250.62" y1="894.4" x2="250.62" y2="897.9" stroke="#000" stroke-width="1.6" />
<text transform="translate(255.02 901) rotate(-90)" font-family="Liberation Sans" font-size="12.5" font-weight="bold" stroke="#000" stroke-width="0.22" stroke-linejoin="round" text-anchor="end" fill="#000" textLength="18.75" lengthAdjust="spacingAndGlyphs">160</text>
<line x1="263.81" y1="894.4" x2="263.81" y2="897.9" stroke="#000" stroke-width="1.6" />
<text transform="translate(268.21 901) rotate(-90)" font-family="Liberation Sans" font-size="12.5" font-weight="bold" stroke="#000" stroke-width="0.22" stroke-linejoin="round" text-anchor="end" fill="#000" textLength="18.75" lengthAdjust="spacingAndGlyphs">170</text>
<line x1="277.01" y1="894.4" x2="277.01" y2="897.9" stroke="#000" stroke-width="1.6" />
<text transform="translate(281.41 901) rotate(-90)" font-family="Liberation Sans" font-size="12.5" font-weight="bold" stroke="#000" stroke-width="0.22" stroke-linejoin="round" text-anchor="end" fill="#000" textLength="18.75" lengthAdjust="spacingAndGlyphs">180</text>
<line x1="290.2" y1="894.4" x2="290.2" y2="897.9" stroke="#000" stroke-width="1.6" />
<text transform="translate(294.6 901) rotate(-90)" font-family="Liberation Sans" font-size="12.5" font-weight="bold" stroke="#000" stroke-width="0.22" stroke-linejoin="round" text-anchor="end" fill="#000" textLength="18.75" lengthAdjust="spacingAndGlyphs">190</text>
<line x1="303.4" y1="894.4" x2="303.4" y2="897.9" stroke="#000" stroke-width="1.6" />
<text transform="translate(307.8 901) rotate(-90)" font-family="Liberation Sans" font-size="12.5" font-weight="bold" stroke="#000" stroke-width="0.22" stroke-linejoin="round" text-anchor="end" fill="#000" textLength="18.75" lengthAdjust="spacingAndGlyphs">200</text>
<line x1="46.1" y1="894.4" x2="46.1" y2="896.4" stroke="#000" stroke-width="1" />
<line x1="59.29" y1="894.4" x2="59.29" y2="896.4" stroke="#000" stroke-width="1" />
<line x1="72.49" y1="894.4" x2="72.49" y2="896.4" stroke="#000" stroke-width="1" />
<line x1="85.68" y1="894.4" x2="85.68" y2="896.4" stroke="#000" stroke-width="1" />
<line x1="98.88" y1="894.4" x2="98.88" y2="896.4" stroke="#000" stroke-width="1" />
<line x1="112.07" y1="894.4" x2="112.07" y2="896.4" stroke="#000" stroke-width="1" />
<line x1="125.27" y1="894.4" x2="125.27" y2="896.4" stroke="#000" stroke-width="1" />
<line x1="138.46" y1="894.4" x2="138.46" y2="896.4" stroke="#000" stroke-width="1" />
<line x1="151.66" y1="894.4" x2="151.66" y2="896.4" stroke="#000" stroke-width="1" />
<line x1="164.85" y1="894.4" x2="164.85" y2="896.4" stroke="#000" stroke-width="1" />
<line x1="178.05" y1="894.4" x2="178.05" y2="896.4" stroke="#000" stroke-width="1" />
<line x1="191.24" y1="894.4" x2="191.24" y2="896.4" stroke="#000" stroke-width="1" />
<line x1="204.44" y1="894.4" x2="204.44" y2="896.4" stroke="#000" stroke-width="1" />
<line x1="217.63" y1="894.4" x2="217.63" y2="896.4" stroke="#000" stroke-width="1" />
<line x1="230.83" y1="894.4" x2="230.83" y2="896.4" stroke="#000" stroke-width="1" />
<line x1="244.02" y1="894.4" x2="244.02" y2="896.4" stroke="#000" stroke-width="1" />
<line x1="257.22" y1="894.4" x2="257.22" y2="896.4" stroke="#000" stroke-width="1" />
<line x1="270.41" y1="894.4" x2="270.41" y2="896.4" stroke="#000" stroke-width="1" />
<line x1="283.61" y1="894.4" x2="283.61" y2="896.4" stroke="#000" stroke-width="1" />
<line x1="296.8" y1="894.4" x2="296.8" y2="896.4" stroke="#000" stroke-width="1" />
<text transform="translate(12.4 787.5) rotate(-90)" font-family="Liberation Sans" font-size="12.4" font-weight="bold" stroke="#000" stroke-width="0.4" stroke-linejoin="round" text-anchor="middle" fill="#000" textLength="114.5" lengthAdjust="spacingAndGlyphs">Deflection (mm)</text>
<text x="136" y="934.3" font-family="Liberation Sans" font-size="12.6" font-weight="bold" stroke="#000" stroke-width="0.4" stroke-linejoin="round" text-anchor="start" fill="#000" textLength="71.4" lengthAdjust="spacingAndGlyphs">Time (ms)</text>
<rect x="74.9" y="854" width="96.7" height="17.2" stroke="#333" stroke-width="1.1" fill="#fff" />
<text x="81" y="866.3" font-family="Liberation Sans" font-size="12.2" font-weight="bold" stroke="#000" stroke-width="0.22" stroke-linejoin="round" text-anchor="start" fill="#000" textLength="80.3" lengthAdjust="spacingAndGlyphs">Bottom chord</text>
<rect x="193.7" y="790.4" width="105.9" height="99.3" stroke="#000" stroke-width="1.6" fill="#fff" />
<path d="M194.2,798 L221.4,798" fill="none" stroke="#000" stroke-width="3" stroke-linejoin="round"/>
<text x="224.6" y="801.1" font-family="Liberation Sans" font-size="8.6" font-weight="bold" stroke="#000" stroke-width="0.35" stroke-linejoin="round" text-anchor="start" fill="#000" textLength="14.45" lengthAdjust="spacingAndGlyphs">BC</text>
<path d="M194.2,811.98 L221.4,811.98" fill="none" stroke="#0606e8" stroke-width="3" stroke-linejoin="round"/>
<text x="224.6" y="815.08" font-family="Liberation Sans" font-size="8.6" font-weight="bold" stroke="#000" stroke-width="0.35" stroke-linejoin="round" text-anchor="start" fill="#000" textLength="73.4" lengthAdjust="spacingAndGlyphs">B1OL-1.5h-0.2h</text>
<path d="M194.2,825.96 h8.16 M207.8,825.96 h8.16" stroke="#0606e8" stroke-width="3" fill="none"/>
<text x="224.6" y="829.06" font-family="Liberation Sans" font-size="8.6" font-weight="bold" stroke="#000" stroke-width="0.35" stroke-linejoin="round" text-anchor="start" fill="#000" textLength="73.4" lengthAdjust="spacingAndGlyphs">B1OL-1.5h-0.3h</text>
<path d="M194.2,839.94 L221.4,839.94" fill="none" stroke="#0606e8" stroke-width="3" stroke-linejoin="round" stroke-dasharray="0.01 6.1" stroke-linecap="round"/>
<text x="224.6" y="843.04" font-family="Liberation Sans" font-size="8.6" font-weight="bold" stroke="#000" stroke-width="0.35" stroke-linejoin="round" text-anchor="start" fill="#000" textLength="73.4" lengthAdjust="spacingAndGlyphs">B1OL-1.5h-0.4h</text>
<path d="M194.2,853.92 L221.4,853.92" fill="none" stroke="#ee1111" stroke-width="3" stroke-linejoin="round"/>
<text x="224.6" y="857.02" font-family="Liberation Sans" font-size="8.6" font-weight="bold" stroke="#000" stroke-width="0.35" stroke-linejoin="round" text-anchor="start" fill="#000" textLength="73.4" lengthAdjust="spacingAndGlyphs">B1OL-2.0h-0.2h</text>
<path d="M194.2,867.9 h8.16 M207.8,867.9 h8.16" stroke="#ee1111" stroke-width="3" fill="none"/>
<text x="224.6" y="871" font-family="Liberation Sans" font-size="8.6" font-weight="bold" stroke="#000" stroke-width="0.35" stroke-linejoin="round" text-anchor="start" fill="#000" textLength="73.4" lengthAdjust="spacingAndGlyphs">B1OL-2.0h-0.3h</text>
<path d="M194.2,881.88 L221.4,881.88" fill="none" stroke="#ee1111" stroke-width="3" stroke-linejoin="round" stroke-dasharray="0.01 6.1" stroke-linecap="round"/>
<text x="224.6" y="884.98" font-family="Liberation Sans" font-size="8.6" font-weight="bold" stroke="#000" stroke-width="0.35" stroke-linejoin="round" text-anchor="start" fill="#000" textLength="73.4" lengthAdjust="spacingAndGlyphs">B1OL-2.0h-0.4h</text>
<rect x="52" y="712.9" width="65.4" height="66.8" stroke="#000" stroke-width="1.1" fill="none" />
<rect x="136.5" y="621" width="174" height="136" fill="#fff"/>
<path d="M160.15,815 C161.1,802.67 163.76,758.5 165.84,741 C167.92,723.5 170.44,719.42 172.61,710.01 C174.78,700.61 176.76,692.36 178.84,684.58 C180.92,676.79 182.95,669.31 185.07,663.3 C187.19,657.29 189.85,651.63 191.57,648.5 C193.28,645.37 193.6,644.68 195.36,644.52 C197.12,644.37 199.96,646.22 202.13,647.58 C204.29,648.93 206.28,650.04 208.36,652.66 C210.43,655.28 212.46,658.75 214.58,663.3 C216.71,667.85 218.96,673.94 221.08,679.95 C223.21,685.96 225.24,692.59 227.31,699.38 C229.39,706.16 231.6,713.71 233.54,720.65 C235.48,727.59 236.97,732.98 238.96,741 C240.94,749.02 244.37,764.12 245.46,768.75" fill="none" stroke="#000" stroke-width="2.3" stroke-linejoin="round" clip-path="url(#cC)"/>
<path d="M172.34,778 C173.06,771.83 174.87,752.33 176.67,741 C178.48,729.67 181.05,719.42 183.17,710.01 C185.29,700.61 187.64,690.6 189.4,684.58 C191.16,678.55 192.51,675.94 193.73,673.85 C194.95,671.75 194.95,671.29 196.71,672 C198.47,672.7 202.08,676.16 204.29,678.1 C206.51,680.04 207.91,681.88 209.98,683.65 C212.06,685.42 214.9,686.83 216.75,688.74 C218.6,690.65 219.32,691.57 221.08,695.12 C222.84,698.67 225.24,702.37 227.31,710.01 C229.39,717.66 231.87,732.75 233.54,741 C235.21,749.25 236.7,756.42 237.33,759.5" fill="none" stroke="#0606e8" stroke-width="2.3" stroke-linejoin="round" clip-path="url(#cC)"/>
<path d="M179.11,778 C179.79,771.83 181.82,750.93 183.17,741 C184.53,731.07 185.47,725.68 187.23,718.43 C188.99,711.18 191.43,702.47 193.73,697.52 C196.04,692.58 198.61,690.56 201.04,688.74 C203.48,686.92 205.74,686.22 208.36,686.61 C210.97,687 214.31,690.7 216.75,691.05 C219.19,691.4 220.54,690.12 222.98,688.74 C225.42,687.35 228.53,684 231.37,682.73 C234.22,681.45 236.84,680.06 240.04,681.06 C243.24,682.06 247.13,684.61 250.6,688.74 C254.08,692.87 257.73,700.9 260.89,705.85 C264.05,710.8 266.71,714.21 269.56,718.43 C272.4,722.65 275.51,727.43 277.95,731.2 C280.39,734.96 282.38,737.82 284.18,741 C285.99,744.18 288.02,748.71 288.78,750.25" fill="none" stroke="#0606e8" stroke-width="2.3" stroke-linejoin="round" stroke-dasharray="9 5.5" clip-path="url(#cC)"/>
<path d="M188.59,768.75 C189.45,764.12 191.84,748.25 193.73,741 C195.63,733.75 197.52,731.13 199.96,725.27 C202.4,719.42 205.2,711.94 208.36,705.85 C211.52,699.76 215.4,694.07 218.92,688.74 C222.44,683.4 225.96,678.24 229.48,673.85 C233,669.45 236.88,665.21 240.04,662.38 C243.2,659.54 246.54,657.86 248.43,656.83 C250.33,655.79 249.65,655.87 251.41,656.18 C253.17,656.49 256.33,657.18 259,658.67 C261.66,660.17 264.59,662.27 267.39,665.15 C270.19,668.03 272.63,672.04 275.79,675.97 C278.94,679.9 283.28,685.45 286.35,688.74 C289.42,692.02 291.99,693.13 294.2,695.67 C296.41,698.22 298.71,702.61 299.62,704" fill="none" stroke="#0606e8" stroke-width="2.3" stroke-linejoin="round" stroke-dasharray="0.01 5.2" stroke-linecap="round" clip-path="url(#cC)"/>
<path d="M176.4,778 C176.99,771.83 178.48,754.1 179.92,741 C181.37,727.9 183.31,711.25 185.07,699.38 C186.83,687.5 188.72,676.87 190.48,669.77 C192.24,662.68 194.05,659.8 195.63,656.83 C197.21,653.85 198.38,651.21 199.96,651.92 C201.54,652.63 203.35,657.07 205.11,661.08 C206.87,665.09 208.58,672.61 210.52,675.97 C212.46,679.33 214.68,679.47 216.75,681.25 C218.83,683.02 220.86,682.89 222.98,686.61 C225.1,690.33 227.36,697.56 229.48,703.54 C231.6,709.52 233.68,716.26 235.71,722.5 C237.74,728.74 240.04,734.83 241.66,741 C243.29,747.17 244.82,756.42 245.46,759.5" fill="none" stroke="#ee1111" stroke-width="2.3" stroke-linejoin="round" clip-path="url(#cC)"/>
<path d="M181.82,778 C182.36,771.83 183.98,752.33 185.07,741 C186.15,729.67 187.05,720.19 188.32,710.01 C189.58,699.84 191.07,688.11 192.65,679.95 C194.23,671.79 195.85,664.81 197.8,661.08 C199.74,657.35 202.26,656.5 204.29,657.57 C206.33,658.63 207.91,663.73 209.98,667.46 C212.06,671.19 214.58,676.76 216.75,679.95 C218.92,683.14 220.86,683.06 222.98,686.61 C225.1,690.16 227.36,696.17 229.48,701.23 C231.6,706.28 233.95,714.02 235.71,716.95 C237.47,719.88 237.74,718.51 240.04,718.8 C242.34,719.09 246.04,717.71 249.52,718.71 C252.99,719.71 256.87,722.79 260.89,724.81 C264.91,726.83 269.74,729.05 273.62,730.82 C277.5,732.6 280.75,734.22 284.18,735.45 C287.61,736.68 291.63,737.61 294.2,738.23 C296.77,738.84 298.71,739 299.62,739.15" fill="none" stroke="#ee1111" stroke-width="2.3" stroke-linejoin="round" stroke-dasharray="9 5.5" clip-path="url(#cC)"/>
<path d="M221.08,768.75 C222.44,764.9 226.5,751.48 229.21,745.62 C231.92,739.77 234.62,737.76 237.33,733.6 C240.04,729.44 242.75,722.96 245.46,720.65 C248.16,718.34 250.87,719.11 253.58,719.73 C256.29,720.34 258.54,722.65 261.7,724.35 C264.86,726.05 268.93,728.05 272.54,729.9 C276.15,731.75 279.76,733.6 283.37,735.45 C286.98,737.3 291.49,739.61 294.2,741 C296.91,742.39 298.71,743.31 299.62,743.77" fill="none" stroke="#ee1111" stroke-width="2.3" stroke-linejoin="round" stroke-dasharray="0.01 5.2" stroke-linecap="round" clip-path="url(#cC)"/>
<line x1="158.8" y1="630" x2="294.2" y2="630" stroke="#000" stroke-width="1.8" />
<line x1="294.2" y1="630" x2="294.2" y2="741" stroke="#000" stroke-width="1.8" />
<line x1="158.8" y1="629" x2="158.8" y2="742" stroke="#000" stroke-width="2" />
<line x1="157.9" y1="741" x2="295" y2="741" stroke="#000" stroke-width="2" />
<line x1="156" y1="741" x2="158.8" y2="741" stroke="#000" stroke-width="1.4" />
<text x="155" y="744.1" font-family="Liberation Sans" font-size="9.8" font-weight="bold" stroke="#000" stroke-width="0.3" stroke-linejoin="round" text-anchor="end" fill="#000" textLength="10.5" lengthAdjust="spacingAndGlyphs">22</text>
<line x1="156" y1="722.5" x2="158.8" y2="722.5" stroke="#000" stroke-width="1.4" />
<text x="155" y="725.6" font-family="Liberation Sans" font-size="9.8" font-weight="bold" stroke="#000" stroke-width="0.3" stroke-linejoin="round" text-anchor="end" fill="#000" textLength="10.5" lengthAdjust="spacingAndGlyphs">24</text>
<line x1="156" y1="704" x2="158.8" y2="704" stroke="#000" stroke-width="1.4" />
<text x="155" y="707.1" font-family="Liberation Sans" font-size="9.8" font-weight="bold" stroke="#000" stroke-width="0.3" stroke-linejoin="round" text-anchor="end" fill="#000" textLength="10.5" lengthAdjust="spacingAndGlyphs">26</text>
<line x1="156" y1="685.5" x2="158.8" y2="685.5" stroke="#000" stroke-width="1.4" />
<text x="155" y="688.6" font-family="Liberation Sans" font-size="9.8" font-weight="bold" stroke="#000" stroke-width="0.3" stroke-linejoin="round" text-anchor="end" fill="#000" textLength="10.5" lengthAdjust="spacingAndGlyphs">28</text>
<line x1="156" y1="667" x2="158.8" y2="667" stroke="#000" stroke-width="1.4" />
<text x="155" y="670.1" font-family="Liberation Sans" font-size="9.8" font-weight="bold" stroke="#000" stroke-width="0.3" stroke-linejoin="round" text-anchor="end" fill="#000" textLength="10.5" lengthAdjust="spacingAndGlyphs">30</text>
<line x1="156" y1="648.5" x2="158.8" y2="648.5" stroke="#000" stroke-width="1.4" />
<text x="155" y="651.6" font-family="Liberation Sans" font-size="9.8" font-weight="bold" stroke="#000" stroke-width="0.3" stroke-linejoin="round" text-anchor="end" fill="#000" textLength="10.5" lengthAdjust="spacingAndGlyphs">32</text>
<line x1="156" y1="630" x2="158.8" y2="630" stroke="#000" stroke-width="1.4" />
<text x="155" y="633.1" font-family="Liberation Sans" font-size="9.8" font-weight="bold" stroke="#000" stroke-width="0.3" stroke-linejoin="round" text-anchor="end" fill="#000" textLength="10.5" lengthAdjust="spacingAndGlyphs">34</text>
<line x1="158.8" y1="741" x2="158.8" y2="743.8" stroke="#000" stroke-width="1.4" />
<text transform="translate(162.2 743.6) rotate(-90)" font-family="Liberation Sans" font-size="9.8" font-weight="bold" stroke="#000" stroke-width="0.3" stroke-linejoin="round" text-anchor="end" fill="#000" textLength="11" lengthAdjust="spacingAndGlyphs">10</text>
<line x1="185.88" y1="741" x2="185.88" y2="743.8" stroke="#000" stroke-width="1.4" />
<text transform="translate(189.28 743.6) rotate(-90)" font-family="Liberation Sans" font-size="9.8" font-weight="bold" stroke="#000" stroke-width="0.3" stroke-linejoin="round" text-anchor="end" fill="#000" textLength="11" lengthAdjust="spacingAndGlyphs">20</text>
<line x1="212.96" y1="741" x2="212.96" y2="743.8" stroke="#000" stroke-width="1.4" />
<text transform="translate(216.36 743.6) rotate(-90)" font-family="Liberation Sans" font-size="9.8" font-weight="bold" stroke="#000" stroke-width="0.3" stroke-linejoin="round" text-anchor="end" fill="#000" textLength="11" lengthAdjust="spacingAndGlyphs">30</text>
<line x1="240.04" y1="741" x2="240.04" y2="743.8" stroke="#000" stroke-width="1.4" />
<text transform="translate(243.44 743.6) rotate(-90)" font-family="Liberation Sans" font-size="9.8" font-weight="bold" stroke="#000" stroke-width="0.3" stroke-linejoin="round" text-anchor="end" fill="#000" textLength="11" lengthAdjust="spacingAndGlyphs">40</text>
<line x1="267.12" y1="741" x2="267.12" y2="743.8" stroke="#000" stroke-width="1.4" />
<text transform="translate(270.52 743.6) rotate(-90)" font-family="Liberation Sans" font-size="9.8" font-weight="bold" stroke="#000" stroke-width="0.3" stroke-linejoin="round" text-anchor="end" fill="#000" textLength="11" lengthAdjust="spacingAndGlyphs">50</text>
<line x1="294.2" y1="741" x2="294.2" y2="743.8" stroke="#000" stroke-width="1.4" />
<text transform="translate(297.6 743.6) rotate(-90)" font-family="Liberation Sans" font-size="9.8" font-weight="bold" stroke="#000" stroke-width="0.3" stroke-linejoin="round" text-anchor="end" fill="#000" textLength="11" lengthAdjust="spacingAndGlyphs">60</text>
<line x1="117.4" y1="712.9" x2="153" y2="696.2" stroke="#000" stroke-width="1.2" />
<path d="M157.8,694 L149.8,694.9 L152,699.2 Z" fill="#000"/>
<line x1="197" y1="644.8" x2="205.8" y2="644.8" stroke="#666" stroke-width="0.8" />
<line x1="186.8" y1="651.8" x2="197.2" y2="651.8" stroke="#666" stroke-width="0.8" />
<line x1="206.4" y1="657.5" x2="218.5" y2="657.5" stroke="#666" stroke-width="0.8" />
<line x1="185.7" y1="671.8" x2="194" y2="671.8" stroke="#666" stroke-width="0.8" />
<line x1="242" y1="680.9" x2="252" y2="680.9" stroke="#666" stroke-width="0.8" />
<line x1="251.5" y1="718.8" x2="266.1" y2="718.8" stroke="#666" stroke-width="0.8" />
<text x="206.9" y="648.41" font-family="Liberation Sans" font-size="9.2" font-weight="bold" text-anchor="start" fill="#000" textLength="22.6" lengthAdjust="spacingAndGlyphs">32.41</text>
<text x="163" y="655.81" font-family="Liberation Sans" font-size="9.2" font-weight="bold" text-anchor="start" fill="#000" textLength="22.7" lengthAdjust="spacingAndGlyphs">31.61</text>
<text x="219.6" y="661.11" font-family="Liberation Sans" font-size="9.2" font-weight="bold" text-anchor="start" fill="#000" textLength="22.2" lengthAdjust="spacingAndGlyphs">31.02</text>
<text x="265.7" y="660.11" font-family="Liberation Sans" font-size="9.2" font-weight="bold" text-anchor="start" fill="#000" textLength="22.7" lengthAdjust="spacingAndGlyphs">31.17</text>
<text x="162.4" y="675.31" font-family="Liberation Sans" font-size="9.2" font-weight="bold" text-anchor="start" fill="#000" textLength="22.6" lengthAdjust="spacingAndGlyphs">29.48</text>
<text x="253.4" y="684.41" font-family="Liberation Sans" font-size="9.2" font-weight="bold" text-anchor="start" fill="#000" textLength="22.7" lengthAdjust="spacingAndGlyphs">28.48</text>
<text x="267.2" y="722.11" font-family="Liberation Sans" font-size="9.2" font-weight="bold" text-anchor="start" fill="#000" textLength="22.2" lengthAdjust="spacingAndGlyphs">24.41</text>
<circle cx="194.8" cy="644.5" r="2.2" fill="#fff" stroke="#555" stroke-width="0.9"/>
<circle cx="199.5" cy="651.5" r="2.2" fill="#fff" stroke="#555" stroke-width="0.9"/>
<circle cx="204.1" cy="657.2" r="2.2" fill="#fff" stroke="#555" stroke-width="0.9"/>
<circle cx="251.3" cy="656.3" r="2.2" fill="#fff" stroke="#555" stroke-width="0.9"/>
<circle cx="196.3" cy="671.6" r="2.2" fill="#fff" stroke="#555" stroke-width="0.9"/>
<circle cx="239.7" cy="680.7" r="2.2" fill="#fff" stroke="#555" stroke-width="0.9"/>
<circle cx="249.2" cy="718.8" r="2.2" fill="#fff" stroke="#555" stroke-width="0.9"/>
<path d="M419,864.5 C419.33,864.08 420,865.08 421,862 C422,858.92 423.62,851.58 425,846 C426.38,840.42 427.92,833.88 429.3,828.5 C430.68,823.12 431.93,818.08 433.3,813.7 C434.67,809.32 435.98,805.82 437.5,802.2 C439.02,798.58 440.82,795.23 442.4,792 C443.98,788.77 445.32,785.22 447,782.8 C448.68,780.38 450.57,777.6 452.5,777.5 C454.43,777.4 456.12,779.23 458.6,782.2 C461.08,785.17 465.17,792.17 467.4,795.3 C469.63,798.43 470.35,799.3 472,801 C473.65,802.7 474.95,804.02 477.3,805.5 C479.65,806.98 482.45,809.77 486.1,809.9 C489.75,810.03 495.07,807.52 499.2,806.3 C503.33,805.08 507,802.85 510.9,802.6 C514.8,802.35 518.47,803.65 522.6,804.8 C526.73,805.95 531.08,808.88 535.7,809.5 C540.32,810.12 545.8,808.85 550.3,808.5 C554.8,808.15 554.42,807.48 562.7,807.4 C570.98,807.32 580.95,807.62 600,808 C619.05,808.38 664.17,809.42 677,809.7" fill="none" stroke="#0606e8" stroke-width="3" stroke-linejoin="round"/>
<path d="M419,864.5 C419.25,864.33 419.72,867.25 420.5,863.5 C421.28,859.75 422.43,850.08 423.7,842 C424.97,833.92 426.28,823.67 428.1,815 C429.92,806.33 432.42,798.38 434.6,790 C436.78,781.62 438.65,773.27 441.2,764.7 C443.75,756.13 447.35,744.23 449.9,738.6 C452.45,732.97 454.68,732.55 456.5,730.9 C458.32,729.25 458.62,729.42 460.8,728.7 C462.98,727.98 466.68,726.05 469.6,726.6 C472.52,727.15 475.4,729.83 478.3,732 C481.2,734.17 483.73,737.85 487,739.6 C490.27,741.35 493.53,741.93 497.9,742.5 C502.27,743.07 508.47,743 513.2,743 C517.93,743 510.98,742.37 526.3,742.5 C541.62,742.63 579.98,743.48 605.1,743.8 C630.22,744.12 665.02,744.3 677,744.4" fill="none" stroke="#0606e8" stroke-width="3" stroke-linejoin="round" stroke-dasharray="7.5 6.3"/>
<path d="M419,864.5 C419.25,864.33 419.72,867.58 420.5,863.5 C421.28,859.42 422.43,847.73 423.7,840 C424.97,832.27 426.28,826.73 428.1,817.1 C429.92,807.47 432.42,793.12 434.6,782.2 C436.78,771.28 439.02,761.78 441.2,751.6 C443.38,741.42 445.52,730.18 447.7,721.1 C449.88,712.02 452.12,703.65 454.3,697.1 C456.48,690.55 458.62,685.43 460.8,681.8 C462.98,678.17 464.73,676.72 467.4,675.3 C470.07,673.88 473.53,672.93 476.8,673.3 C480.07,673.67 483.48,675.53 487,677.5 C490.52,679.47 494.27,683.47 497.9,685.1 C501.53,686.73 504.07,686.97 508.8,687.3 C513.53,687.63 514.63,686.92 526.3,687.1 C537.97,687.28 553.68,688.4 578.8,688.4 C603.92,688.4 660.63,687.32 677,687.1" fill="none" stroke="#0606e8" stroke-width="3" stroke-linejoin="round" stroke-dasharray="0.01 5.85" stroke-linecap="round"/>
<path d="M419,864.5 C419.2,863.92 419.4,864.15 420.2,861 C421,857.85 422.62,851.02 423.8,845.6 C424.98,840.18 426.13,833.82 427.3,828.5 C428.47,823.18 429.72,817.88 430.8,813.7 C431.88,809.52 432.63,807.22 433.8,803.4 C434.97,799.58 436.37,794.62 437.8,790.8 C439.23,786.98 440.68,783.35 442.4,780.5 C444.12,777.65 446.12,775.17 448.1,773.7 C450.08,772.23 451.82,771.02 454.3,771.7 C456.78,772.38 460.38,775.32 463,777.8 C465.62,780.28 467.62,783.32 470,786.6 C472.38,789.88 474.62,794.7 477.3,797.5 C479.98,800.3 482.45,802.92 486.1,803.4 C489.75,803.88 495.07,801.43 499.2,800.4 C503.33,799.37 507,797.43 510.9,797.2 C514.8,796.97 518.47,798.33 522.6,799 C526.73,799.67 531.08,800.97 535.7,801.2 C540.32,801.43 545.8,800.58 550.3,800.4 C554.8,800.22 554.42,800.08 562.7,800.1 C570.98,800.12 580.95,800.28 600,800.5 C619.05,800.72 664.17,801.25 677,801.4" fill="none" stroke="#ee1111" stroke-width="3" stroke-linejoin="round"/>
<path d="M419,864.5 C419.25,864.33 419.72,867.25 420.5,863.5 C421.28,859.75 422.43,849.75 423.7,842 C424.97,834.25 426.28,825.17 428.1,817 C429.92,808.83 432.42,800.98 434.6,793 C436.78,785.02 439.02,776.35 441.2,769.1 C443.38,761.85 445.52,754.23 447.7,749.5 C449.88,744.77 451.93,742.82 454.3,740.7 C456.67,738.58 459,736.8 461.9,736.8 C464.8,736.8 468.25,739.32 471.7,740.7 C475.15,742.08 478.23,744 482.6,745.1 C486.97,746.2 492.8,746.83 497.9,747.3 C503,747.77 508.47,747.73 513.2,747.9 C517.93,748.07 510.98,748.1 526.3,748.3 C541.62,748.5 579.98,748.87 605.1,749.1 C630.22,749.33 665.02,749.6 677,749.7" fill="none" stroke="#ee1111" stroke-width="3" stroke-linejoin="round" stroke-dasharray="7.5 6.3"/>
<path d="M419,864.5 C419.25,864.33 419.72,867.25 420.5,863.5 C421.28,859.75 422.43,849 423.7,842 C424.97,835 426.28,830.38 428.1,821.5 C429.92,812.62 432.42,798.88 434.6,788.7 C436.78,778.52 439.02,769.85 441.2,760.4 C443.38,750.95 445.52,740.73 447.7,732 C449.88,723.27 452.12,714.92 454.3,708 C456.48,701.08 458.62,694.32 460.8,690.5 C462.98,686.68 464.67,686.15 467.4,685.1 C470.13,684.05 473.93,683.65 477.2,684.2 C480.47,684.75 483.55,686.62 487,688.4 C490.45,690.18 494.27,693.38 497.9,694.9 C501.53,696.42 504.07,697.15 508.8,697.5 C513.53,697.85 514.63,696.73 526.3,697 C537.97,697.27 553.68,698.63 578.8,699.1 C603.92,699.57 660.63,699.68 677,699.8" fill="none" stroke="#ee1111" stroke-width="3" stroke-linejoin="round" stroke-dasharray="0.01 5.85" stroke-linecap="round"/>
<line x1="415" y1="657.5" x2="677" y2="657.5" stroke="#000" stroke-width="1.8" />
<line x1="677" y1="657.5" x2="677" y2="865.5" stroke="#000" stroke-width="1.8" />
<line x1="419" y1="656.7" x2="419" y2="865.5" stroke="#000" stroke-width="2.2" />
<line x1="415.5" y1="864.5" x2="419" y2="864.5" stroke="#000" stroke-width="1.6" />
<text x="412.2" y="868.57" font-family="Liberation Sans" font-size="11.3" font-weight="bold" stroke="#000" stroke-width="0.22" stroke-linejoin="round" text-anchor="end" fill="#000" textLength="6.6" lengthAdjust="spacingAndGlyphs">0</text>
<line x1="415.5" y1="843.8" x2="419" y2="843.8" stroke="#000" stroke-width="1.6" />
<text x="412.2" y="847.87" font-family="Liberation Sans" font-size="11.3" font-weight="bold" stroke="#000" stroke-width="0.22" stroke-linejoin="round" text-anchor="end" fill="#000" textLength="13.2" lengthAdjust="spacingAndGlyphs">10</text>
<line x1="415.5" y1="823.1" x2="419" y2="823.1" stroke="#000" stroke-width="1.6" />
<text x="412.2" y="827.17" font-family="Liberation Sans" font-size="11.3" font-weight="bold" stroke="#000" stroke-width="0.22" stroke-linejoin="round" text-anchor="end" fill="#000" textLength="13.2" lengthAdjust="spacingAndGlyphs">20</text>
<line x1="415.5" y1="802.4" x2="419" y2="802.4" stroke="#000" stroke-width="1.6" />
<text x="412.2" y="806.47" font-family="Liberation Sans" font-size="11.3" font-weight="bold" stroke="#000" stroke-width="0.22" stroke-linejoin="round" text-anchor="end" fill="#000" textLength="13.2" lengthAdjust="spacingAndGlyphs">30</text>
<line x1="415.5" y1="781.7" x2="419" y2="781.7" stroke="#000" stroke-width="1.6" />
<text x="412.2" y="785.77" font-family="Liberation Sans" font-size="11.3" font-weight="bold" stroke="#000" stroke-width="0.22" stroke-linejoin="round" text-anchor="end" fill="#000" textLength="13.2" lengthAdjust="spacingAndGlyphs">40</text>
<line x1="415.5" y1="761" x2="419" y2="761" stroke="#000" stroke-width="1.6" />
<text x="412.2" y="765.07" font-family="Liberation Sans" font-size="11.3" font-weight="bold" stroke="#000" stroke-width="0.22" stroke-linejoin="round" text-anchor="end" fill="#000" textLength="13.2" lengthAdjust="spacingAndGlyphs">50</text>
<line x1="415.5" y1="740.3" x2="419" y2="740.3" stroke="#000" stroke-width="1.6" />
<text x="412.2" y="744.37" font-family="Liberation Sans" font-size="11.3" font-weight="bold" stroke="#000" stroke-width="0.22" stroke-linejoin="round" text-anchor="end" fill="#000" textLength="13.2" lengthAdjust="spacingAndGlyphs">60</text>
<line x1="415.5" y1="719.6" x2="419" y2="719.6" stroke="#000" stroke-width="1.6" />
<text x="412.2" y="723.67" font-family="Liberation Sans" font-size="11.3" font-weight="bold" stroke="#000" stroke-width="0.22" stroke-linejoin="round" text-anchor="end" fill="#000" textLength="13.2" lengthAdjust="spacingAndGlyphs">70</text>
<line x1="415.5" y1="698.9" x2="419" y2="698.9" stroke="#000" stroke-width="1.6" />
<text x="412.2" y="702.97" font-family="Liberation Sans" font-size="11.3" font-weight="bold" stroke="#000" stroke-width="0.22" stroke-linejoin="round" text-anchor="end" fill="#000" textLength="13.2" lengthAdjust="spacingAndGlyphs">80</text>
<line x1="415.5" y1="678.2" x2="419" y2="678.2" stroke="#000" stroke-width="1.6" />
<text x="412.2" y="682.27" font-family="Liberation Sans" font-size="11.3" font-weight="bold" stroke="#000" stroke-width="0.22" stroke-linejoin="round" text-anchor="end" fill="#000" textLength="13.2" lengthAdjust="spacingAndGlyphs">90</text>
<line x1="415.5" y1="657.5" x2="419" y2="657.5" stroke="#000" stroke-width="1.6" />
<text x="412.2" y="661.57" font-family="Liberation Sans" font-size="11.3" font-weight="bold" stroke="#000" stroke-width="0.22" stroke-linejoin="round" text-anchor="end" fill="#000" textLength="19.8" lengthAdjust="spacingAndGlyphs">100</text>
<line x1="417" y1="861.05" x2="419" y2="861.05" stroke="#000" stroke-width="1" />
<line x1="417" y1="857.6" x2="419" y2="857.6" stroke="#000" stroke-width="1" />
<line x1="417" y1="854.15" x2="419" y2="854.15" stroke="#000" stroke-width="1" />
<line x1="417" y1="850.7" x2="419" y2="850.7" stroke="#000" stroke-width="1" />
<line x1="417" y1="847.25" x2="419" y2="847.25" stroke="#000" stroke-width="1" />
<line x1="417" y1="840.35" x2="419" y2="840.35" stroke="#000" stroke-width="1" />
<line x1="417" y1="836.9" x2="419" y2="836.9" stroke="#000" stroke-width="1" />
<line x1="417" y1="833.45" x2="419" y2="833.45" stroke="#000" stroke-width="1" />
<line x1="417" y1="830" x2="419" y2="830" stroke="#000" stroke-width="1" />
<line x1="417" y1="826.55" x2="419" y2="826.55" stroke="#000" stroke-width="1" />
<line x1="417" y1="819.65" x2="419" y2="819.65" stroke="#000" stroke-width="1" />
<line x1="417" y1="816.2" x2="419" y2="816.2" stroke="#000" stroke-width="1" />
<line x1="417" y1="812.75" x2="419" y2="812.75" stroke="#000" stroke-width="1" />
<line x1="417" y1="809.3" x2="419" y2="809.3" stroke="#000" stroke-width="1" />
<line x1="417" y1="805.85" x2="419" y2="805.85" stroke="#000" stroke-width="1" />
<line x1="417" y1="798.95" x2="419" y2="798.95" stroke="#000" stroke-width="1" />
<line x1="417" y1="795.5" x2="419" y2="795.5" stroke="#000" stroke-width="1" />
<line x1="417" y1="792.05" x2="419" y2="792.05" stroke="#000" stroke-width="1" />
<line x1="417" y1="788.6" x2="419" y2="788.6" stroke="#000" stroke-width="1" />
<line x1="417" y1="785.15" x2="419" y2="785.15" stroke="#000" stroke-width="1" />
<line x1="417" y1="778.25" x2="419" y2="778.25" stroke="#000" stroke-width="1" />
<line x1="417" y1="774.8" x2="419" y2="774.8" stroke="#000" stroke-width="1" />
<line x1="417" y1="771.35" x2="419" y2="771.35" stroke="#000" stroke-width="1" />
<line x1="417" y1="767.9" x2="419" y2="767.9" stroke="#000" stroke-width="1" />
<line x1="417" y1="764.45" x2="419" y2="764.45" stroke="#000" stroke-width="1" />
<line x1="417" y1="757.55" x2="419" y2="757.55" stroke="#000" stroke-width="1" />
<line x1="417" y1="754.1" x2="419" y2="754.1" stroke="#000" stroke-width="1" />
<line x1="417" y1="750.65" x2="419" y2="750.65" stroke="#000" stroke-width="1" />
<line x1="417" y1="747.2" x2="419" y2="747.2" stroke="#000" stroke-width="1" />
<line x1="417" y1="743.75" x2="419" y2="743.75" stroke="#000" stroke-width="1" />
<line x1="417" y1="736.85" x2="419" y2="736.85" stroke="#000" stroke-width="1" />
<line x1="417" y1="733.4" x2="419" y2="733.4" stroke="#000" stroke-width="1" />
<line x1="417" y1="729.95" x2="419" y2="729.95" stroke="#000" stroke-width="1" />
<line x1="417" y1="726.5" x2="419" y2="726.5" stroke="#000" stroke-width="1" />
<line x1="417" y1="723.05" x2="419" y2="723.05" stroke="#000" stroke-width="1" />
<line x1="417" y1="716.15" x2="419" y2="716.15" stroke="#000" stroke-width="1" />
<line x1="417" y1="712.7" x2="419" y2="712.7" stroke="#000" stroke-width="1" />
<line x1="417" y1="709.25" x2="419" y2="709.25" stroke="#000" stroke-width="1" />
<line x1="417" y1="705.8" x2="419" y2="705.8" stroke="#000" stroke-width="1" />
<line x1="417" y1="702.35" x2="419" y2="702.35" stroke="#000" stroke-width="1" />
<line x1="417" y1="695.45" x2="419" y2="695.45" stroke="#000" stroke-width="1" />
<line x1="417" y1="692" x2="419" y2="692" stroke="#000" stroke-width="1" />
<line x1="417" y1="688.55" x2="419" y2="688.55" stroke="#000" stroke-width="1" />
<line x1="417" y1="685.1" x2="419" y2="685.1" stroke="#000" stroke-width="1" />
<line x1="417" y1="681.65" x2="419" y2="681.65" stroke="#000" stroke-width="1" />
<line x1="417" y1="674.75" x2="419" y2="674.75" stroke="#000" stroke-width="1" />
<line x1="417" y1="671.3" x2="419" y2="671.3" stroke="#000" stroke-width="1" />
<line x1="417" y1="667.85" x2="419" y2="667.85" stroke="#000" stroke-width="1" />
<line x1="417" y1="664.4" x2="419" y2="664.4" stroke="#000" stroke-width="1" />
<line x1="417" y1="660.95" x2="419" y2="660.95" stroke="#000" stroke-width="1" />
<line x1="418" y1="864.5" x2="677.8" y2="864.5" stroke="#000" stroke-width="2.2" />
<line x1="419" y1="864.5" x2="419" y2="868" stroke="#000" stroke-width="1.6" />
<text transform="translate(423.4 871.8) rotate(-90)" font-family="Liberation Sans" font-size="12.5" font-weight="bold" stroke="#000" stroke-width="0.22" stroke-linejoin="round" text-anchor="end" fill="#000" textLength="6.25" lengthAdjust="spacingAndGlyphs">0</text>
<line x1="431.9" y1="864.5" x2="431.9" y2="868" stroke="#000" stroke-width="1.6" />
<text transform="translate(436.3 871.8) rotate(-90)" font-family="Liberation Sans" font-size="12.5" font-weight="bold" stroke="#000" stroke-width="0.22" stroke-linejoin="round" text-anchor="end" fill="#000" textLength="12.5" lengthAdjust="spacingAndGlyphs">10</text>
<line x1="444.8" y1="864.5" x2="444.8" y2="868" stroke="#000" stroke-width="1.6" />
<text transform="translate(449.2 871.8) rotate(-90)" font-family="Liberation Sans" font-size="12.5" font-weight="bold" stroke="#000" stroke-width="0.22" stroke-linejoin="round" text-anchor="end" fill="#000" textLength="12.5" lengthAdjust="spacingAndGlyphs">20</text>
<line x1="457.7" y1="864.5" x2="457.7" y2="868" stroke="#000" stroke-width="1.6" />
<text transform="translate(462.1 871.8) rotate(-90)" font-family="Liberation Sans" font-size="12.5" font-weight="bold" stroke="#000" stroke-width="0.22" stroke-linejoin="round" text-anchor="end" fill="#000" textLength="12.5" lengthAdjust="spacingAndGlyphs">30</text>
<line x1="470.6" y1="864.5" x2="470.6" y2="868" stroke="#000" stroke-width="1.6" />
<text transform="translate(475 871.8) rotate(-90)" font-family="Liberation Sans" font-size="12.5" font-weight="bold" stroke="#000" stroke-width="0.22" stroke-linejoin="round" text-anchor="end" fill="#000" textLength="12.5" lengthAdjust="spacingAndGlyphs">40</text>
<line x1="483.5" y1="864.5" x2="483.5" y2="868" stroke="#000" stroke-width="1.6" />
<text transform="translate(487.9 871.8) rotate(-90)" font-family="Liberation Sans" font-size="12.5" font-weight="bold" stroke="#000" stroke-width="0.22" stroke-linejoin="round" text-anchor="end" fill="#000" textLength="12.5" lengthAdjust="spacingAndGlyphs">50</text>
<line x1="496.4" y1="864.5" x2="496.4" y2="868" stroke="#000" stroke-width="1.6" />
<text transform="translate(500.8 871.8) rotate(-90)" font-family="Liberation Sans" font-size="12.5" font-weight="bold" stroke="#000" stroke-width="0.22" stroke-linejoin="round" text-anchor="end" fill="#000" textLength="12.5" lengthAdjust="spacingAndGlyphs">60</text>
<line x1="509.3" y1="864.5" x2="509.3" y2="868" stroke="#000" stroke-width="1.6" />
<text transform="translate(513.7 871.8) rotate(-90)" font-family="Liberation Sans" font-size="12.5" font-weight="bold" stroke="#000" stroke-width="0.22" stroke-linejoin="round" text-anchor="end" fill="#000" textLength="12.5" lengthAdjust="spacingAndGlyphs">70</text>
<line x1="522.2" y1="864.5" x2="522.2" y2="868" stroke="#000" stroke-width="1.6" />
<text transform="translate(526.6 871.8) rotate(-90)" font-family="Liberation Sans" font-size="12.5" font-weight="bold" stroke="#000" stroke-width="0.22" stroke-linejoin="round" text-anchor="end" fill="#000" textLength="12.5" lengthAdjust="spacingAndGlyphs">80</text>
<line x1="535.1" y1="864.5" x2="535.1" y2="868" stroke="#000" stroke-width="1.6" />
<text transform="translate(539.5 871.8) rotate(-90)" font-family="Liberation Sans" font-size="12.5" font-weight="bold" stroke="#000" stroke-width="0.22" stroke-linejoin="round" text-anchor="end" fill="#000" textLength="12.5" lengthAdjust="spacingAndGlyphs">90</text>
<line x1="548" y1="864.5" x2="548" y2="868" stroke="#000" stroke-width="1.6" />
<text transform="translate(552.4 871.8) rotate(-90)" font-family="Liberation Sans" font-size="12.5" font-weight="bold" stroke="#000" stroke-width="0.22" stroke-linejoin="round" text-anchor="end" fill="#000" textLength="18.75" lengthAdjust="spacingAndGlyphs">100</text>
<line x1="560.9" y1="864.5" x2="560.9" y2="868" stroke="#000" stroke-width="1.6" />
<text transform="translate(565.3 871.8) rotate(-90)" font-family="Liberation Sans" font-size="12.5" font-weight="bold" stroke="#000" stroke-width="0.22" stroke-linejoin="round" text-anchor="end" fill="#000" textLength="18.75" lengthAdjust="spacingAndGlyphs">110</text>
<line x1="573.8" y1="864.5" x2="573.8" y2="868" stroke="#000" stroke-width="1.6" />
<text transform="translate(578.2 871.8) rotate(-90)" font-family="Liberation Sans" font-size="12.5" font-weight="bold" stroke="#000" stroke-width="0.22" stroke-linejoin="round" text-anchor="end" fill="#000" textLength="18.75" lengthAdjust="spacingAndGlyphs">120</text>
<line x1="586.7" y1="864.5" x2="586.7" y2="868" stroke="#000" stroke-width="1.6" />
<text transform="translate(591.1 871.8) rotate(-90)" font-family="Liberation Sans" font-size="12.5" font-weight="bold" stroke="#000" stroke-width="0.22" stroke-linejoin="round" text-anchor="end" fill="#000" textLength="18.75" lengthAdjust="spacingAndGlyphs">130</text>
<line x1="599.6" y1="864.5" x2="599.6" y2="868" stroke="#000" stroke-width="1.6" />
<text transform="translate(604 871.8) rotate(-90)" font-family="Liberation Sans" font-size="12.5" font-weight="bold" stroke="#000" stroke-width="0.22" stroke-linejoin="round" text-anchor="end" fill="#000" textLength="18.75" lengthAdjust="spacingAndGlyphs">140</text>
<line x1="612.5" y1="864.5" x2="612.5" y2="868" stroke="#000" stroke-width="1.6" />
<text transform="translate(616.9 871.8) rotate(-90)" font-family="Liberation Sans" font-size="12.5" font-weight="bold" stroke="#000" stroke-width="0.22" stroke-linejoin="round" text-anchor="end" fill="#000" textLength="18.75" lengthAdjust="spacingAndGlyphs">150</text>
<line x1="625.4" y1="864.5" x2="625.4" y2="868" stroke="#000" stroke-width="1.6" />
<text transform="translate(629.8 871.8) rotate(-90)" font-family="Liberation Sans" font-size="12.5" font-weight="bold" stroke="#000" stroke-width="0.22" stroke-linejoin="round" text-anchor="end" fill="#000" textLength="18.75" lengthAdjust="spacingAndGlyphs">160</text>
<line x1="638.3" y1="864.5" x2="638.3" y2="868" stroke="#000" stroke-width="1.6" />
<text transform="translate(642.7 871.8) rotate(-90)" font-family="Liberation Sans" font-size="12.5" font-weight="bold" stroke="#000" stroke-width="0.22" stroke-linejoin="round" text-anchor="end" fill="#000" textLength="18.75" lengthAdjust="spacingAndGlyphs">170</text>
<line x1="651.2" y1="864.5" x2="651.2" y2="868" stroke="#000" stroke-width="1.6" />
<text transform="translate(655.6 871.8) rotate(-90)" font-family="Liberation Sans" font-size="12.5" font-weight="bold" stroke="#000" stroke-width="0.22" stroke-linejoin="round" text-anchor="end" fill="#000" textLength="18.75" lengthAdjust="spacingAndGlyphs">180</text>
<line x1="664.1" y1="864.5" x2="664.1" y2="868" stroke="#000" stroke-width="1.6" />
<text transform="translate(668.5 871.8) rotate(-90)" font-family="Liberation Sans" font-size="12.5" font-weight="bold" stroke="#000" stroke-width="0.22" stroke-linejoin="round" text-anchor="end" fill="#000" textLength="18.75" lengthAdjust="spacingAndGlyphs">190</text>
<line x1="677" y1="864.5" x2="677" y2="868" stroke="#000" stroke-width="1.6" />
<text transform="translate(681.4 871.8) rotate(-90)" font-family="Liberation Sans" font-size="12.5" font-weight="bold" stroke="#000" stroke-width="0.22" stroke-linejoin="round" text-anchor="end" fill="#000" textLength="18.75" lengthAdjust="spacingAndGlyphs">200</text>
<line x1="425.45" y1="864.5" x2="425.45" y2="866.5" stroke="#000" stroke-width="1" />
<line x1="438.35" y1="864.5" x2="438.35" y2="866.5" stroke="#000" stroke-width="1" />
<line x1="451.25" y1="864.5" x2="451.25" y2="866.5" stroke="#000" stroke-width="1" />
<line x1="464.15" y1="864.5" x2="464.15" y2="866.5" stroke="#000" stroke-width="1" />
<line x1="477.05" y1="864.5" x2="477.05" y2="866.5" stroke="#000" stroke-width="1" />
<line x1="489.95" y1="864.5" x2="489.95" y2="866.5" stroke="#000" stroke-width="1" />
<line x1="502.85" y1="864.5" x2="502.85" y2="866.5" stroke="#000" stroke-width="1" />
<line x1="515.75" y1="864.5" x2="515.75" y2="866.5" stroke="#000" stroke-width="1" />
<line x1="528.65" y1="864.5" x2="528.65" y2="866.5" stroke="#000" stroke-width="1" />
<line x1="541.55" y1="864.5" x2="541.55" y2="866.5" stroke="#000" stroke-width="1" />
<line x1="554.45" y1="864.5" x2="554.45" y2="866.5" stroke="#000" stroke-width="1" />
<line x1="567.35" y1="864.5" x2="567.35" y2="866.5" stroke="#000" stroke-width="1" />
<line x1="580.25" y1="864.5" x2="580.25" y2="866.5" stroke="#000" stroke-width="1" />
<line x1="593.15" y1="864.5" x2="593.15" y2="866.5" stroke="#000" stroke-width="1" />
<line x1="606.05" y1="864.5" x2="606.05" y2="866.5" stroke="#000" stroke-width="1" />
<line x1="618.95" y1="864.5" x2="618.95" y2="866.5" stroke="#000" stroke-width="1" />
<line x1="631.85" y1="864.5" x2="631.85" y2="866.5" stroke="#000" stroke-width="1" />
<line x1="644.75" y1="864.5" x2="644.75" y2="866.5" stroke="#000" stroke-width="1" />
<line x1="657.65" y1="864.5" x2="657.65" y2="866.5" stroke="#000" stroke-width="1" />
<line x1="670.55" y1="864.5" x2="670.55" y2="866.5" stroke="#000" stroke-width="1" />
<text transform="translate(384.9 760.6) rotate(-90)" font-family="Liberation Sans" font-size="12.4" font-weight="bold" stroke="#000" stroke-width="0.4" stroke-linejoin="round" text-anchor="middle" fill="#000" textLength="118.2" lengthAdjust="spacingAndGlyphs">Deflection (mm)</text>
<text x="511.5" y="906.8" font-family="Liberation Sans" font-size="12.6" font-weight="bold" stroke="#000" stroke-width="0.4" stroke-linejoin="round" text-anchor="start" fill="#000" textLength="73.3" lengthAdjust="spacingAndGlyphs">Time (ms)</text>
<line x1="480" y1="673.2" x2="506.2" y2="673.2" stroke="#555" stroke-width="0.9" />
<line x1="459.7" y1="684.1" x2="474" y2="684.1" stroke="#555" stroke-width="0.9" />
<line x1="472.8" y1="726.3" x2="519.7" y2="726.3" stroke="#555" stroke-width="0.9" />
<line x1="465" y1="736.8" x2="493.5" y2="736.8" stroke="#555" stroke-width="0.9" />
<line x1="457.5" y1="771.8" x2="503.4" y2="771.8" stroke="#555" stroke-width="0.9" />
<line x1="455.7" y1="777.8" x2="470.6" y2="777.8" stroke="#555" stroke-width="0.9" />
<text x="506.6" y="677.43" font-family="Liberation Sans" font-size="11.2" font-weight="bold" stroke="#000" stroke-width="0.15" stroke-linejoin="round" text-anchor="start" fill="#000" textLength="28.9" lengthAdjust="spacingAndGlyphs">92.25</text>
<text x="430.3" y="688.03" font-family="Liberation Sans" font-size="11.2" font-weight="bold" stroke="#000" stroke-width="0.15" stroke-linejoin="round" text-anchor="start" fill="#000" textLength="28.3" lengthAdjust="spacingAndGlyphs">87.02</text>
<text x="520.6" y="730.63" font-family="Liberation Sans" font-size="11.2" font-weight="bold" stroke="#000" stroke-width="0.15" stroke-linejoin="round" text-anchor="start" fill="#000" textLength="28.8" lengthAdjust="spacingAndGlyphs">66.56</text>
<text x="494.6" y="740.83" font-family="Liberation Sans" font-size="11.2" font-weight="bold" stroke="#000" stroke-width="0.15" stroke-linejoin="round" text-anchor="start" fill="#000" textLength="28.4" lengthAdjust="spacingAndGlyphs">61.56</text>
<text x="504" y="776.03" font-family="Liberation Sans" font-size="11.2" font-weight="bold" stroke="#000" stroke-width="0.15" stroke-linejoin="round" text-anchor="start" fill="#000" textLength="29.2" lengthAdjust="spacingAndGlyphs">44.73</text>
<text x="471.3" y="781.83" font-family="Liberation Sans" font-size="11.2" font-weight="bold" stroke="#000" stroke-width="0.15" stroke-linejoin="round" text-anchor="start" fill="#000" textLength="28.4" lengthAdjust="spacingAndGlyphs">42.12</text>
<circle cx="476.8" cy="673.3" r="3.3" fill="#fff" stroke="#555" stroke-width="0.9"/>
<circle cx="477.2" cy="684.2" r="3.3" fill="#fff" stroke="#555" stroke-width="0.9"/>
<circle cx="469.6" cy="726.3" r="3.3" fill="#fff" stroke="#555" stroke-width="0.9"/>
<circle cx="461.9" cy="736.8" r="3.3" fill="#fff" stroke="#555" stroke-width="0.9"/>
<circle cx="454.3" cy="771.8" r="3.3" fill="#fff" stroke="#555" stroke-width="0.9"/>
<circle cx="452.5" cy="777.8" r="3.3" fill="#fff" stroke="#555" stroke-width="0.9"/>
<rect x="457.6" y="825" width="69.8" height="16.4" stroke="#333" stroke-width="1.1" fill="#fff" />
<text x="462.4" y="837.4" font-family="Liberation Sans" font-size="12.2" font-weight="bold" stroke="#000" stroke-width="0.22" stroke-linejoin="round" text-anchor="start" fill="#000" textLength="60.6" lengthAdjust="spacingAndGlyphs">Top chord</text>
<rect x="563.5" y="770.4" width="109.2" height="88.3" stroke="#000" stroke-width="1.6" fill="#fff" />
<path d="M563.5,778.6 L592,778.6" fill="none" stroke="#0606e8" stroke-width="3" stroke-linejoin="round"/>
<text x="594.5" y="781.77" font-family="Liberation Sans" font-size="8.8" font-weight="bold" stroke="#000" stroke-width="0.35" stroke-linejoin="round" text-anchor="start" fill="#000" textLength="75.9" lengthAdjust="spacingAndGlyphs">B1OL-1.5h-0.2h</text>
<path d="M563.5,793.1 h8.55 M577.75,793.1 h8.55" stroke="#0606e8" stroke-width="3" fill="none"/>
<text x="594.5" y="796.27" font-family="Liberation Sans" font-size="8.8" font-weight="bold" stroke="#000" stroke-width="0.35" stroke-linejoin="round" text-anchor="start" fill="#000" textLength="75.9" lengthAdjust="spacingAndGlyphs">B1OL-1.5h-0.3h</text>
<path d="M563.5,807.6 L592,807.6" fill="none" stroke="#0606e8" stroke-width="3" stroke-linejoin="round" stroke-dasharray="0.01 6.1" stroke-linecap="round"/>
<text x="594.5" y="810.77" font-family="Liberation Sans" font-size="8.8" font-weight="bold" stroke="#000" stroke-width="0.35" stroke-linejoin="round" text-anchor="start" fill="#000" textLength="75.9" lengthAdjust="spacingAndGlyphs">B1OL-1.5h-0.4h</text>
<path d="M563.5,822.1 L592,822.1" fill="none" stroke="#ee1111" stroke-width="3" stroke-linejoin="round"/>
<text x="594.5" y="825.27" font-family="Liberation Sans" font-size="8.8" font-weight="bold" stroke="#000" stroke-width="0.35" stroke-linejoin="round" text-anchor="start" fill="#000" textLength="75.9" lengthAdjust="spacingAndGlyphs">B1OL-2.0h-0.2h</text>
<path d="M563.5,836.6 h8.55 M577.75,836.6 h8.55" stroke="#ee1111" stroke-width="3" fill="none"/>
<text x="594.5" y="839.77" font-family="Liberation Sans" font-size="8.8" font-weight="bold" stroke="#000" stroke-width="0.35" stroke-linejoin="round" text-anchor="start" fill="#000" textLength="75.9" lengthAdjust="spacingAndGlyphs">B1OL-2.0h-0.3h</text>
<path d="M563.5,851.1 L592,851.1" fill="none" stroke="#ee1111" stroke-width="3" stroke-linejoin="round" stroke-dasharray="0.01 6.1" stroke-linecap="round"/>
<text x="594.5" y="854.27" font-family="Liberation Sans" font-size="8.8" font-weight="bold" stroke="#000" stroke-width="0.35" stroke-linejoin="round" text-anchor="start" fill="#000" textLength="75.9" lengthAdjust="spacingAndGlyphs">B1OL-2.0h-0.4h</text>
<text x="225.7" y="323.2" font-family="Liberation Serif" font-size="18.5" text-anchor="start" fill="#000">(a)</text>
<text x="253.7" y="323.2" font-family="Liberation Serif" font-size="18.5" text-anchor="start" fill="#000" textLength="228.3" lengthAdjust="spacingAndGlyphs">Bare beams with two openings</text>
<text x="143.8" y="614.2" font-family="Liberation Serif" font-size="18.5" text-anchor="start" fill="#000">(b)</text>
<text x="172.2" y="614.2" font-family="Liberation Serif" font-size="18.5" text-anchor="start" fill="#000" textLength="391.3" lengthAdjust="spacingAndGlyphs">Bare beams with one midspan opening at mid-height</text>
<text x="62" y="958.5" font-family="Liberation Serif" font-size="18.5" text-anchor="start" fill="#000">(c)</text>
<text x="90" y="958.5" font-family="Liberation Serif" font-size="18.5" text-anchor="start" fill="#000" textLength="555.6" lengthAdjust="spacingAndGlyphs">Bare beams with one midspan opening at 100 mm from the bottom surface</text>
</svg>
</body></html>
